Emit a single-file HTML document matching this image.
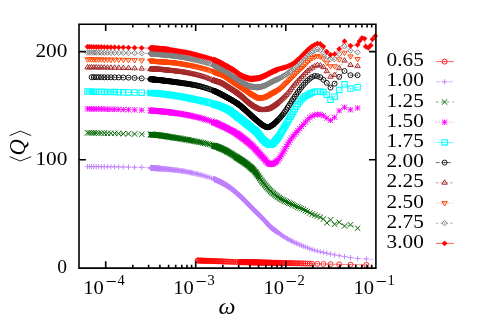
<!DOCTYPE html>
<html><head><meta charset="utf-8"><title>plot</title><style>html,body{margin:0;padding:0;background:#fff}svg{display:block}</style></head><body>
<svg width="485" height="323" viewBox="0 0 485 323">
<rect width="485" height="323" fill="#fff"/>
<defs><filter id="nf" x="0" y="0" width="485" height="323" filterUnits="userSpaceOnUse" color-interpolation-filters="sRGB"><feOffset dx="0" dy="0"/></filter><clipPath id="c"><rect x="79" y="24.2" width="296.9" height="243.9"/></clipPath></defs>
<g stroke="#ff0000" fill="none">
<path clip-path="url(#c)" d="M197.5 260.5 L198.2 260.5 L199 260.6 L199.7 260.6 L200.5 260.6 L201.3 260.6 L202.1 260.7 L202.9 260.7 L203.7 260.7 L204.6 260.7 L205.4 260.8 L206.3 260.8 L207.2 260.8 L208.2 260.9 L209.1 260.9 L210.1 260.9 L211.1 261 L212.1 261 L213.2 261 L214.3 261.1 L215.4 261.1 L216.5 261.2 L217.7 261.2 L218.9 261.3 L220.2 261.3 L221.5 261.4 L222.8 261.4 L224.2 261.5 L225.7 261.5 L227.2 261.6 L228.7 261.7 L230.4 261.7 L232.1 261.8 L233.8 261.9 L235.7 261.9 L237.6 262 L239.7 262 L240.5 262.1 L240.9 262.1 L241.3 262.1 L241.7 262.1 L242.1 262.1 L242.5 262.1 L242.9 262.1 L243.3 262.1 L243.7 262.2 L244.2 262.2 L244.6 262.2 L245 262.2 L245.5 262.2 L245.9 262.2 L246.4 262.2 L246.8 262.2 L247.3 262.2 L247.8 262.2 L248.2 262.3 L248.7 262.3 L249.2 262.3 L249.7 262.3 L250.2 262.3 L250.7 262.3 L251.2 262.3 L251.7 262.3 L252.2 262.3 L252.8 262.4 L253.3 262.4 L253.9 262.4 L254.4 262.4 L255 262.4 L255.6 262.4 L256.1 262.4 L256.7 262.4 L257.3 262.4 L257.9 262.5 L258.5 262.5 L259.2 262.5 L259.8 262.5 L260.4 262.5 L261.1 262.5 L261.8 262.5 L262.5 262.6 L263.1 262.6 L263.8 262.6 L264.6 262.6 L265.3 262.6 L266 262.6 L266.8 262.6 L267.6 262.7 L268.4 262.7 L269.2 262.7 L270 262.7 L270.8 262.7 L271.7 262.7 L272.6 262.8 L273.5 262.8 L274.4 262.8 L275.3 262.8 L276.3 262.8 L277.3 262.8 L278.3 262.9 L279.4 262.9 L280.4 262.9 L281.5 262.9 L282.7 263 L283.8 263 L285 263 L286.3 263 L287.6 263.1 L288.9 263.1 L290.3 263.1 L291.7 263.2 L293.1 263.2 L294.7 263.2 L296.3 263.3 L297.9 263.3 L299.7 263.3 L301.5 263.4 L303.4 263.4 L305.4 263.5 L307.5 263.6 L309.8 263.6 L312.1 263.7 L317.4 263.8 L323.4 264 L330.5 264.2 L339.2 264.4 L350.5 264.6 L366.4 264.9" stroke-width="0.5"/>
<path d="M238.5 260.3 L239.3 259.5 L240 259.3 L240.8 259.2 L241.5 259.2 L242.3 259.3 L243 259.3 L243.8 259.3 L244.5 259.3 L245.3 259.3 L246 259.4 L246.8 259.4 L247.5 259.4 L248.3 259.4 L249 259.4 L249.8 259.4 L250.5 259.5 L251.3 259.5 L252 259.5 L252.8 259.5 L253.5 259.5 L254.3 259.5 L255 259.5 L255.8 259.6 L256.5 259.6 L257.3 259.6 L258 259.6 L258.8 259.6 L259.5 259.6 L260.3 259.7 L261 259.7 L261.8 259.7 L262.5 259.7 L263.3 259.7 L264 259.7 L264.8 259.7 L265.5 259.8 L266.3 259.8 L267 259.8 L267.8 259.8 L268.5 259.8 L269.3 259.8 L270 259.9 L270.8 259.9 L271.5 259.9 L272.3 259.9 L273 259.9 L273.8 259.9 L274.5 259.9 L275.3 260 L276 260 L276.8 260 L277.5 260 L278.3 260.2 L279 260.7 L279 265 L278.3 265.4 L277.5 265.7 L276.8 265.7 L276 265.7 L275.3 265.7 L274.5 265.6 L273.8 265.6 L273 265.6 L272.3 265.6 L271.5 265.6 L270.8 265.6 L270 265.6 L269.3 265.5 L268.5 265.5 L267.8 265.5 L267 265.5 L266.3 265.5 L265.5 265.5 L264.8 265.4 L264 265.4 L263.3 265.4 L262.5 265.4 L261.8 265.4 L261 265.4 L260.3 265.4 L259.5 265.3 L258.8 265.3 L258 265.3 L257.3 265.3 L256.5 265.3 L255.8 265.3 L255 265.2 L254.3 265.2 L253.5 265.2 L252.8 265.2 L252 265.2 L251.3 265.2 L250.5 265.2 L249.8 265.1 L249 265.1 L248.3 265.1 L247.5 265.1 L246.8 265.1 L246 265.1 L245.3 265 L244.5 265 L243.8 265 L243 265 L242.3 265 L241.5 264.9 L240.8 264.9 L240 264.9 L239.3 264.6 L238.5 263.9Z" fill="#ff0000" stroke="none" fill-opacity="0.92"/>
<path d="M195 260.5a2.5 2.5 0 1 0 5 0a2.5 2.5 0 1 0 -5 0M195.7 260.5a2.5 2.5 0 1 0 5 0a2.5 2.5 0 1 0 -5 0M196.5 260.6a2.5 2.5 0 1 0 5 0a2.5 2.5 0 1 0 -5 0M197.2 260.6a2.5 2.5 0 1 0 5 0a2.5 2.5 0 1 0 -5 0M198 260.6a2.5 2.5 0 1 0 5 0a2.5 2.5 0 1 0 -5 0M198.8 260.6a2.5 2.5 0 1 0 5 0a2.5 2.5 0 1 0 -5 0M199.6 260.7a2.5 2.5 0 1 0 5 0a2.5 2.5 0 1 0 -5 0M200.4 260.7a2.5 2.5 0 1 0 5 0a2.5 2.5 0 1 0 -5 0M201.2 260.7a2.5 2.5 0 1 0 5 0a2.5 2.5 0 1 0 -5 0M202.1 260.7a2.5 2.5 0 1 0 5 0a2.5 2.5 0 1 0 -5 0M202.9 260.8a2.5 2.5 0 1 0 5 0a2.5 2.5 0 1 0 -5 0M203.8 260.8a2.5 2.5 0 1 0 5 0a2.5 2.5 0 1 0 -5 0M204.7 260.8a2.5 2.5 0 1 0 5 0a2.5 2.5 0 1 0 -5 0M205.7 260.9a2.5 2.5 0 1 0 5 0a2.5 2.5 0 1 0 -5 0M206.6 260.9a2.5 2.5 0 1 0 5 0a2.5 2.5 0 1 0 -5 0M207.6 260.9a2.5 2.5 0 1 0 5 0a2.5 2.5 0 1 0 -5 0M208.6 261a2.5 2.5 0 1 0 5 0a2.5 2.5 0 1 0 -5 0M209.6 261a2.5 2.5 0 1 0 5 0a2.5 2.5 0 1 0 -5 0M210.7 261a2.5 2.5 0 1 0 5 0a2.5 2.5 0 1 0 -5 0M211.8 261.1a2.5 2.5 0 1 0 5 0a2.5 2.5 0 1 0 -5 0M212.9 261.1a2.5 2.5 0 1 0 5 0a2.5 2.5 0 1 0 -5 0M214 261.2a2.5 2.5 0 1 0 5 0a2.5 2.5 0 1 0 -5 0M215.2 261.2a2.5 2.5 0 1 0 5 0a2.5 2.5 0 1 0 -5 0M216.4 261.3a2.5 2.5 0 1 0 5 0a2.5 2.5 0 1 0 -5 0M217.7 261.3a2.5 2.5 0 1 0 5 0a2.5 2.5 0 1 0 -5 0M219 261.4a2.5 2.5 0 1 0 5 0a2.5 2.5 0 1 0 -5 0M220.3 261.4a2.5 2.5 0 1 0 5 0a2.5 2.5 0 1 0 -5 0M221.7 261.5a2.5 2.5 0 1 0 5 0a2.5 2.5 0 1 0 -5 0M223.2 261.5a2.5 2.5 0 1 0 5 0a2.5 2.5 0 1 0 -5 0M224.7 261.6a2.5 2.5 0 1 0 5 0a2.5 2.5 0 1 0 -5 0M226.2 261.7a2.5 2.5 0 1 0 5 0a2.5 2.5 0 1 0 -5 0M227.9 261.7a2.5 2.5 0 1 0 5 0a2.5 2.5 0 1 0 -5 0M229.6 261.8a2.5 2.5 0 1 0 5 0a2.5 2.5 0 1 0 -5 0M231.3 261.9a2.5 2.5 0 1 0 5 0a2.5 2.5 0 1 0 -5 0M233.2 261.9a2.5 2.5 0 1 0 5 0a2.5 2.5 0 1 0 -5 0M235.1 262a2.5 2.5 0 1 0 5 0a2.5 2.5 0 1 0 -5 0M237.2 262a2.5 2.5 0 1 0 5 0a2.5 2.5 0 1 0 -5 0M238 262.1a2.5 2.5 0 1 0 5 0a2.5 2.5 0 1 0 -5 0M238.4 262.1a2.5 2.5 0 1 0 5 0a2.5 2.5 0 1 0 -5 0M238.8 262.1a2.5 2.5 0 1 0 5 0a2.5 2.5 0 1 0 -5 0M239.2 262.1a2.5 2.5 0 1 0 5 0a2.5 2.5 0 1 0 -5 0M239.6 262.1a2.5 2.5 0 1 0 5 0a2.5 2.5 0 1 0 -5 0M240 262.1a2.5 2.5 0 1 0 5 0a2.5 2.5 0 1 0 -5 0M240.4 262.1a2.5 2.5 0 1 0 5 0a2.5 2.5 0 1 0 -5 0M240.8 262.1a2.5 2.5 0 1 0 5 0a2.5 2.5 0 1 0 -5 0M241.2 262.2a2.5 2.5 0 1 0 5 0a2.5 2.5 0 1 0 -5 0M241.7 262.2a2.5 2.5 0 1 0 5 0a2.5 2.5 0 1 0 -5 0M242.1 262.2a2.5 2.5 0 1 0 5 0a2.5 2.5 0 1 0 -5 0M242.5 262.2a2.5 2.5 0 1 0 5 0a2.5 2.5 0 1 0 -5 0M243 262.2a2.5 2.5 0 1 0 5 0a2.5 2.5 0 1 0 -5 0M243.4 262.2a2.5 2.5 0 1 0 5 0a2.5 2.5 0 1 0 -5 0M243.9 262.2a2.5 2.5 0 1 0 5 0a2.5 2.5 0 1 0 -5 0M244.3 262.2a2.5 2.5 0 1 0 5 0a2.5 2.5 0 1 0 -5 0M244.8 262.2a2.5 2.5 0 1 0 5 0a2.5 2.5 0 1 0 -5 0M245.3 262.2a2.5 2.5 0 1 0 5 0a2.5 2.5 0 1 0 -5 0M245.7 262.3a2.5 2.5 0 1 0 5 0a2.5 2.5 0 1 0 -5 0M246.2 262.3a2.5 2.5 0 1 0 5 0a2.5 2.5 0 1 0 -5 0M246.7 262.3a2.5 2.5 0 1 0 5 0a2.5 2.5 0 1 0 -5 0M247.2 262.3a2.5 2.5 0 1 0 5 0a2.5 2.5 0 1 0 -5 0M247.7 262.3a2.5 2.5 0 1 0 5 0a2.5 2.5 0 1 0 -5 0M248.2 262.3a2.5 2.5 0 1 0 5 0a2.5 2.5 0 1 0 -5 0M248.7 262.3a2.5 2.5 0 1 0 5 0a2.5 2.5 0 1 0 -5 0M249.2 262.3a2.5 2.5 0 1 0 5 0a2.5 2.5 0 1 0 -5 0M249.7 262.3a2.5 2.5 0 1 0 5 0a2.5 2.5 0 1 0 -5 0M250.3 262.4a2.5 2.5 0 1 0 5 0a2.5 2.5 0 1 0 -5 0M250.8 262.4a2.5 2.5 0 1 0 5 0a2.5 2.5 0 1 0 -5 0M251.4 262.4a2.5 2.5 0 1 0 5 0a2.5 2.5 0 1 0 -5 0M251.9 262.4a2.5 2.5 0 1 0 5 0a2.5 2.5 0 1 0 -5 0M252.5 262.4a2.5 2.5 0 1 0 5 0a2.5 2.5 0 1 0 -5 0M253.1 262.4a2.5 2.5 0 1 0 5 0a2.5 2.5 0 1 0 -5 0M253.6 262.4a2.5 2.5 0 1 0 5 0a2.5 2.5 0 1 0 -5 0M254.2 262.4a2.5 2.5 0 1 0 5 0a2.5 2.5 0 1 0 -5 0M254.8 262.4a2.5 2.5 0 1 0 5 0a2.5 2.5 0 1 0 -5 0M255.4 262.5a2.5 2.5 0 1 0 5 0a2.5 2.5 0 1 0 -5 0M256 262.5a2.5 2.5 0 1 0 5 0a2.5 2.5 0 1 0 -5 0M256.7 262.5a2.5 2.5 0 1 0 5 0a2.5 2.5 0 1 0 -5 0M257.3 262.5a2.5 2.5 0 1 0 5 0a2.5 2.5 0 1 0 -5 0M257.9 262.5a2.5 2.5 0 1 0 5 0a2.5 2.5 0 1 0 -5 0M258.6 262.5a2.5 2.5 0 1 0 5 0a2.5 2.5 0 1 0 -5 0M259.3 262.5a2.5 2.5 0 1 0 5 0a2.5 2.5 0 1 0 -5 0M260 262.6a2.5 2.5 0 1 0 5 0a2.5 2.5 0 1 0 -5 0M260.6 262.6a2.5 2.5 0 1 0 5 0a2.5 2.5 0 1 0 -5 0M261.3 262.6a2.5 2.5 0 1 0 5 0a2.5 2.5 0 1 0 -5 0M262.1 262.6a2.5 2.5 0 1 0 5 0a2.5 2.5 0 1 0 -5 0M262.8 262.6a2.5 2.5 0 1 0 5 0a2.5 2.5 0 1 0 -5 0M263.5 262.6a2.5 2.5 0 1 0 5 0a2.5 2.5 0 1 0 -5 0M264.3 262.6a2.5 2.5 0 1 0 5 0a2.5 2.5 0 1 0 -5 0M265.1 262.7a2.5 2.5 0 1 0 5 0a2.5 2.5 0 1 0 -5 0M265.9 262.7a2.5 2.5 0 1 0 5 0a2.5 2.5 0 1 0 -5 0M266.7 262.7a2.5 2.5 0 1 0 5 0a2.5 2.5 0 1 0 -5 0M267.5 262.7a2.5 2.5 0 1 0 5 0a2.5 2.5 0 1 0 -5 0M268.3 262.7a2.5 2.5 0 1 0 5 0a2.5 2.5 0 1 0 -5 0M269.2 262.7a2.5 2.5 0 1 0 5 0a2.5 2.5 0 1 0 -5 0M270.1 262.8a2.5 2.5 0 1 0 5 0a2.5 2.5 0 1 0 -5 0M271 262.8a2.5 2.5 0 1 0 5 0a2.5 2.5 0 1 0 -5 0M271.9 262.8a2.5 2.5 0 1 0 5 0a2.5 2.5 0 1 0 -5 0M272.8 262.8a2.5 2.5 0 1 0 5 0a2.5 2.5 0 1 0 -5 0M273.8 262.8a2.5 2.5 0 1 0 5 0a2.5 2.5 0 1 0 -5 0M274.8 262.8a2.5 2.5 0 1 0 5 0a2.5 2.5 0 1 0 -5 0M275.8 262.9a2.5 2.5 0 1 0 5 0a2.5 2.5 0 1 0 -5 0M276.9 262.9a2.5 2.5 0 1 0 5 0a2.5 2.5 0 1 0 -5 0M277.9 262.9a2.5 2.5 0 1 0 5 0a2.5 2.5 0 1 0 -5 0M279 262.9a2.5 2.5 0 1 0 5 0a2.5 2.5 0 1 0 -5 0M280.2 263a2.5 2.5 0 1 0 5 0a2.5 2.5 0 1 0 -5 0M281.3 263a2.5 2.5 0 1 0 5 0a2.5 2.5 0 1 0 -5 0M282.5 263a2.5 2.5 0 1 0 5 0a2.5 2.5 0 1 0 -5 0M283.8 263a2.5 2.5 0 1 0 5 0a2.5 2.5 0 1 0 -5 0M285.1 263.1a2.5 2.5 0 1 0 5 0a2.5 2.5 0 1 0 -5 0M286.4 263.1a2.5 2.5 0 1 0 5 0a2.5 2.5 0 1 0 -5 0M287.8 263.1a2.5 2.5 0 1 0 5 0a2.5 2.5 0 1 0 -5 0M289.2 263.2a2.5 2.5 0 1 0 5 0a2.5 2.5 0 1 0 -5 0M290.6 263.2a2.5 2.5 0 1 0 5 0a2.5 2.5 0 1 0 -5 0M292.2 263.2a2.5 2.5 0 1 0 5 0a2.5 2.5 0 1 0 -5 0M293.8 263.3a2.5 2.5 0 1 0 5 0a2.5 2.5 0 1 0 -5 0M295.4 263.3a2.5 2.5 0 1 0 5 0a2.5 2.5 0 1 0 -5 0M297.2 263.3a2.5 2.5 0 1 0 5 0a2.5 2.5 0 1 0 -5 0M299 263.4a2.5 2.5 0 1 0 5 0a2.5 2.5 0 1 0 -5 0M300.9 263.4a2.5 2.5 0 1 0 5 0a2.5 2.5 0 1 0 -5 0M302.9 263.5a2.5 2.5 0 1 0 5 0a2.5 2.5 0 1 0 -5 0M305 263.6a2.5 2.5 0 1 0 5 0a2.5 2.5 0 1 0 -5 0M307.3 263.6a2.5 2.5 0 1 0 5 0a2.5 2.5 0 1 0 -5 0M309.6 263.7a2.5 2.5 0 1 0 5 0a2.5 2.5 0 1 0 -5 0M314.9 263.8a2.5 2.5 0 1 0 5 0a2.5 2.5 0 1 0 -5 0M320.9 264a2.5 2.5 0 1 0 5 0a2.5 2.5 0 1 0 -5 0M328 264.2a2.5 2.5 0 1 0 5 0a2.5 2.5 0 1 0 -5 0M336.7 264.4a2.5 2.5 0 1 0 5 0a2.5 2.5 0 1 0 -5 0M348 264.6a2.5 2.5 0 1 0 5 0a2.5 2.5 0 1 0 -5 0M363.9 264.9a2.5 2.5 0 1 0 5 0a2.5 2.5 0 1 0 -5 0" stroke-width="0.8"/>
<path d="M197.5 260.5h0M198.2 260.5h0M199 260.6h0M199.7 260.6h0M200.5 260.6h0M201.3 260.6h0M202.1 260.7h0M202.9 260.7h0M203.7 260.7h0M204.6 260.7h0M205.4 260.8h0M206.3 260.8h0M207.2 260.8h0M208.2 260.9h0M209.1 260.9h0M210.1 260.9h0M211.1 261h0M212.1 261h0M213.2 261h0M214.3 261.1h0M215.4 261.1h0M216.5 261.2h0M217.7 261.2h0M218.9 261.3h0M220.2 261.3h0M221.5 261.4h0M222.8 261.4h0M224.2 261.5h0M225.7 261.5h0M227.2 261.6h0M228.7 261.7h0M230.4 261.7h0M232.1 261.8h0M233.8 261.9h0M235.7 261.9h0M237.6 262h0M239.7 262h0M240.5 262.1h0M240.9 262.1h0M241.3 262.1h0M241.7 262.1h0M242.1 262.1h0M242.5 262.1h0M242.9 262.1h0M243.3 262.1h0M243.7 262.2h0M244.2 262.2h0M244.6 262.2h0M245 262.2h0M245.5 262.2h0M245.9 262.2h0M246.4 262.2h0M246.8 262.2h0M247.3 262.2h0M247.8 262.2h0M248.2 262.3h0M248.7 262.3h0M249.2 262.3h0M249.7 262.3h0M250.2 262.3h0M250.7 262.3h0M251.2 262.3h0M251.7 262.3h0M252.2 262.3h0M252.8 262.4h0M253.3 262.4h0M253.9 262.4h0M254.4 262.4h0M255 262.4h0M255.6 262.4h0M256.1 262.4h0M256.7 262.4h0M257.3 262.4h0M257.9 262.5h0M258.5 262.5h0M259.2 262.5h0M259.8 262.5h0M260.4 262.5h0M261.1 262.5h0M261.8 262.5h0M262.5 262.6h0M263.1 262.6h0M263.8 262.6h0M264.6 262.6h0M265.3 262.6h0M266 262.6h0M266.8 262.6h0M267.6 262.7h0M268.4 262.7h0M269.2 262.7h0M270 262.7h0M270.8 262.7h0M271.7 262.7h0M272.6 262.8h0M273.5 262.8h0M274.4 262.8h0M275.3 262.8h0M276.3 262.8h0M277.3 262.8h0M278.3 262.9h0M279.4 262.9h0M280.4 262.9h0M281.5 262.9h0M282.7 263h0M283.8 263h0M285 263h0M286.3 263h0M287.6 263.1h0M288.9 263.1h0M290.3 263.1h0M291.7 263.2h0M293.1 263.2h0M294.7 263.2h0M296.3 263.3h0M297.9 263.3h0M299.7 263.3h0M301.5 263.4h0M303.4 263.4h0M305.4 263.5h0M307.5 263.6h0M309.8 263.6h0M312.1 263.7h0M317.4 263.8h0M323.4 264h0M330.5 264.2h0M339.2 264.4h0M350.5 264.6h0M366.4 264.9h0" stroke-width="0.9" stroke-linecap="round"/>
</g>
<g stroke="#c080ff" fill="none">
<path clip-path="url(#c)" d="M87.5 166.6 L89.5 166.6 L91.6 166.6 L93.8 166.6 L96.2 166.6 L98.7 166.6 L101.4 166.7 L104.3 166.7 L107.5 166.7 L110.9 166.8 L114.6 166.8 L118.7 166.9 L123.3 167 L128.5 167.1 L134.6 167.2 L141.7 167.4 L150.4 167.9 L150.8 167.9 L151.2 167.9 L151.6 167.9 L152 168 L152.4 168 L152.8 168 L153.3 168 L153.7 168.1 L154.1 168.1 L154.5 168.1 L155 168.2 L155.4 168.2 L155.9 168.2 L156.3 168.3 L156.8 168.3 L157.2 168.3 L157.7 168.4 L158.2 168.4 L158.7 168.4 L159.1 168.5 L159.6 168.5 L160.1 168.6 L160.6 168.6 L161.2 168.6 L161.7 168.7 L162.2 168.7 L162.7 168.8 L163.3 168.8 L163.8 168.9 L164.4 168.9 L164.9 169 L165.5 169 L166.1 169.1 L166.7 169.1 L167.3 169.2 L167.9 169.3 L168.5 169.3 L169.1 169.4 L169.7 169.4 L170.4 169.5 L171.1 169.6 L171.7 169.7 L172.4 169.7 L173.1 169.8 L173.8 169.9 L174.5 170 L175.2 170.1 L176 170.2 L176.8 170.2 L177.5 170.3 L178.3 170.4 L179.1 170.5 L179.9 170.7 L180.8 170.8 L181.6 170.9 L182.5 171.1 L183.4 171.2 L184.3 171.4 L185.3 171.5 L186.3 171.7 L187.2 171.9 L188.3 172.1 L189.3 172.3 L190.4 172.5 L191.5 172.8 L192.6 173 L193.8 173.3 L195 173.5 L196.2 173.8 L197.5 174.1 L198.8 174.4 L200.2 174.8 L201.6 175.1 L203.1 175.5 L204.6 176 L206.2 176.4 L207.9 177 L209.6 177.5 L211.5 178.1 L213.4 178.8 L213.6 178.9 L213.8 179 L214 179.1 L214.2 179.2 L214.4 179.2 L214.6 179.3 L214.8 179.4 L215 179.5 L215.2 179.6 L215.4 179.6 L215.6 179.7 L215.8 179.8 L216 179.9 L216.2 180 L216.4 180.1 L216.6 180.2 L216.8 180.3 L217 180.4 L217.3 180.5 L217.5 180.6 L217.7 180.7 L217.9 180.8 L218.1 180.9 L218.4 181 L218.6 181.1 L218.8 181.2 L219 181.3 L219.3 181.4 L219.5 181.5 L219.7 181.6 L219.9 181.7 L220.2 181.9 L220.4 182 L220.6 182.1 L220.9 182.2 L221.1 182.3 L221.4 182.5 L221.6 182.6 L221.8 182.7 L222.1 182.8 L222.3 183 L222.6 183.1 L222.8 183.2 L223.1 183.4 L223.3 183.5 L223.6 183.6 L223.8 183.8 L224.1 183.9 L224.4 184.1 L224.6 184.2 L224.9 184.4 L225.1 184.5 L225.4 184.7 L225.7 184.8 L225.9 185 L226.2 185.2 L226.5 185.3 L226.8 185.5 L227 185.7 L227.3 185.8 L227.6 186 L227.9 186.2 L228.2 186.4 L228.4 186.5 L228.7 186.7 L229 186.9 L229.3 187.1 L229.6 187.3 L229.9 187.5 L230.2 187.8 L230.5 188 L230.8 188.2 L231.1 188.4 L231.4 188.7 L231.7 188.9 L232.1 189.2 L232.4 189.4 L232.7 189.7 L233 189.9 L233.3 190.2 L233.7 190.5 L234 190.7 L234.3 191 L234.7 191.3 L235 191.6 L235.3 191.9 L235.7 192.2 L236 192.5 L236.4 192.8 L236.7 193.1 L237.1 193.4 L237.5 193.7 L237.8 194.1 L238.2 194.4 L238.6 194.7 L238.9 195 L239.3 195.4 L239.7 195.7 L240.1 196.1 L240.5 196.4 L240.9 196.8 L241.3 197.2 L241.7 197.5 L242.1 197.9 L242.5 198.3 L242.9 198.7 L243.3 199.1 L243.7 199.5 L244.2 200 L244.6 200.4 L245 200.8 L245.5 201.3 L245.9 201.7 L246.4 202.2 L246.8 202.7 L247.3 203.2 L247.8 203.6 L248.2 204.1 L248.7 204.6 L249.2 205.1 L249.7 205.6 L250.2 206.2 L250.7 206.7 L251.2 207.2 L251.7 207.7 L252.2 208.2 L252.8 208.8 L253.3 209.3 L253.9 209.8 L254.4 210.4 L255 210.9 L255.6 211.5 L256.1 212.1 L256.7 212.6 L257.3 213.2 L257.9 213.8 L258.5 214.4 L259.2 215 L259.8 215.6 L260.4 216.3 L261.1 216.9 L261.8 217.6 L262.5 218.3 L263.1 219 L263.8 219.7 L264.6 220.5 L265.3 221.2 L266 222.1 L266.8 223 L267.6 223.9 L268.4 224.8 L269.2 225.7 L270 226.5 L270.8 227.2 L271.7 228 L272.6 228.7 L273.5 229.3 L274.4 230 L275.3 230.7 L276.3 231.4 L277.3 232.1 L278.3 232.8 L279.4 233.5 L280.4 234.3 L281.5 235 L282.7 235.8 L283.8 236.6 L285 237.3 L286.3 238.1 L287.6 238.8 L288.9 239.6 L290.3 240.3 L291.7 241 L293.1 241.8 L294.7 242.5 L296.3 243.2 L297.9 243.9 L299.7 244.7 L301.5 245.4 L303.4 246.2 L305.4 247 L307.5 247.8 L309.8 248.6 L312.1 249.5 L314.7 250.3 L317.4 251.1 L320.3 251.8 L323.4 252.5 L326.8 253.2 L330.5 254 L334.6 254.8 L339.2 255.7 L344.5 256.6 L350.5 257.6 L357.6 258.4 L366.4 258.9 L377.6 259.8" stroke-width="0.5" stroke-dasharray="4.5 1.8"/>
<path d="M148.1 167.5 L148.9 167.5 L149.6 167.5 L150.4 167.5 L151.1 164.8 L151.9 164.9 L152.6 164.9 L153.4 165 L154.1 165 L154.9 165.1 L155.6 165.2 L156.4 165.2 L157.1 165.3 L157.9 165.3 L158.6 165.4 L159.4 165.4 L160.1 165.5 L160.9 168.1 L161.6 168.1 L162.4 168.2 L162.4 168.9 L161.6 168.9 L160.9 168.9 L160.1 171.6 L159.4 171.6 L158.6 171.5 L157.9 171.4 L157.1 171.4 L156.4 171.3 L155.6 171.3 L154.9 171.2 L154.1 171.2 L153.4 171.1 L152.6 171.1 L151.9 171 L151.1 171 L150.4 168.4 L149.6 168.3 L148.9 168.3 L148.1 168.2Z" fill="#c080ff" stroke="none" fill-opacity="0.92"/>
<path d="M210.9 178.6 L211.6 178.6 L212.4 178.6 L213.1 178.6 L213.9 175.9 L214.6 176.2 L215.4 176.5 L216.1 176.9 L216.9 177.2 L217.6 177.5 L218.4 177.9 L219.1 178.2 L219.9 178.6 L220.6 178.9 L221.4 179.3 L222.1 179.7 L222.9 180.1 L223.6 180.5 L224.4 180.9 L225.1 181.4 L225.9 181.8 L226.6 182.3 L227.4 182.7 L228.1 183.2 L228.9 183.7 L229.6 184.2 L230.4 184.7 L231.1 185.3 L231.9 185.9 L232.6 186.4 L233.4 187 L234.1 187.7 L234.9 188.3 L235.6 188.9 L236.4 189.6 L237.1 190.3 L237.9 190.9 L238.6 191.6 L239.4 192.3 L240.1 192.9 L240.9 193.6 L241.6 194.3 L242.4 195 L243.1 195.7 L243.9 196.5 L244.6 197.2 L245.4 198 L246.1 198.8 L246.9 199.5 L247.6 200.3 L248.4 201.1 L249.1 201.9 L249.9 202.6 L250.6 203.4 L251.4 204.2 L252.1 204.9 L252.9 205.7 L253.6 206.4 L254.4 207.1 L255.1 207.9 L255.9 208.6 L256.6 209.3 L257.4 210.1 L258.1 210.8 L258.9 211.5 L259.6 212.3 L260.4 213 L261.1 213.7 L261.9 214.5 L262.6 215.2 L263.4 216 L264.1 216.8 L264.9 217.6 L265.6 218.4 L266.4 219.2 L267.1 219.9 L267.9 220.7 L268.6 221.6 L269.4 222.5 L270.1 223.4 L270.9 224.1 L271.6 224.7 L272.4 225.3 L273.1 225.9 L273.9 226.5 L274.6 227 L275.4 227.5 L276.1 228.1 L276.9 228.6 L277.6 230 L278.4 230.6 L279.1 231.1 L279.9 231.6 L279.9 232.4 L279.1 232.4 L278.4 232.4 L277.6 232.4 L276.9 234.9 L276.1 234.4 L275.4 233.8 L274.6 233.3 L273.9 232.8 L273.1 232.2 L272.4 231.6 L271.6 231 L270.9 230.4 L270.1 229.8 L269.4 229.1 L268.6 228.3 L267.9 227.4 L267.1 226.7 L266.4 225.9 L265.6 225.1 L264.9 224.2 L264.1 223.3 L263.4 222.5 L262.6 221.6 L261.9 220.9 L261.1 220.1 L260.4 219.4 L259.6 218.6 L258.9 217.9 L258.1 217.2 L257.4 216.4 L256.6 215.7 L255.9 215 L255.1 214.2 L254.4 213.5 L253.6 212.8 L252.9 212 L252.1 211.3 L251.4 210.5 L250.6 209.8 L249.9 209 L249.1 208.2 L248.4 207.5 L247.6 206.7 L246.9 205.9 L246.1 205.1 L245.4 204.4 L244.6 203.6 L243.9 202.8 L243.1 202.1 L242.4 201.4 L241.6 200.7 L240.9 200 L240.1 199.3 L239.4 198.6 L238.6 197.9 L237.9 197.3 L237.1 196.6 L236.4 195.9 L235.6 195.3 L234.9 194.6 L234.1 194 L233.4 193.4 L232.6 192.8 L231.9 192.2 L231.1 191.6 L230.4 191 L229.6 190.5 L228.9 190 L228.1 189.5 L227.4 189 L226.6 188.5 L225.9 188.1 L225.1 187.6 L224.4 187.2 L223.6 186.8 L222.9 186.4 L222.1 186 L221.4 185.6 L220.6 185.2 L219.9 184.8 L219.1 184.4 L218.4 184.1 L217.6 183.7 L216.9 183.4 L216.1 183.1 L215.4 182.8 L214.6 182.4 L213.9 182.1 L213.1 180.2 L212.4 179.9 L211.6 179.6 L210.9 179.3Z" fill="#c080ff" stroke="none" fill-opacity="0.92"/>
<path d="M84.8 166.6h5.4M87.5 163.9v5.4M86.8 166.6h5.4M89.5 163.9v5.4M88.9 166.6h5.4M91.6 163.9v5.4M91.1 166.6h5.4M93.8 163.9v5.4M93.5 166.6h5.4M96.2 163.9v5.4M96 166.6h5.4M98.7 163.9v5.4M98.7 166.7h5.4M101.4 164v5.4M101.6 166.7h5.4M104.3 164v5.4M104.8 166.7h5.4M107.5 164v5.4M108.2 166.8h5.4M110.9 164.1v5.4M111.9 166.8h5.4M114.6 164.1v5.4M116 166.9h5.4M118.7 164.2v5.4M120.6 167h5.4M123.3 164.3v5.4M125.8 167.1h5.4M128.5 164.4v5.4M131.9 167.2h5.4M134.6 164.5v5.4M139 167.4h5.4M141.7 164.7v5.4M147.7 167.9h5.4M150.4 165.2v5.4M148.1 167.9h5.4M150.8 165.2v5.4M148.5 167.9h5.4M151.2 165.2v5.4M148.9 167.9h5.4M151.6 165.2v5.4M149.3 168h5.4M152 165.3v5.4M149.7 168h5.4M152.4 165.3v5.4M150.1 168h5.4M152.8 165.3v5.4M150.6 168h5.4M153.3 165.3v5.4M151 168.1h5.4M153.7 165.4v5.4M151.4 168.1h5.4M154.1 165.4v5.4M151.8 168.1h5.4M154.5 165.4v5.4M152.3 168.2h5.4M155 165.5v5.4M152.7 168.2h5.4M155.4 165.5v5.4M153.2 168.2h5.4M155.9 165.5v5.4M153.6 168.3h5.4M156.3 165.6v5.4M154.1 168.3h5.4M156.8 165.6v5.4M154.5 168.3h5.4M157.2 165.6v5.4M155 168.4h5.4M157.7 165.7v5.4M155.5 168.4h5.4M158.2 165.7v5.4M156 168.4h5.4M158.7 165.7v5.4M156.4 168.5h5.4M159.1 165.8v5.4M156.9 168.5h5.4M159.6 165.8v5.4M157.4 168.6h5.4M160.1 165.9v5.4M157.9 168.6h5.4M160.6 165.9v5.4M158.5 168.6h5.4M161.2 165.9v5.4M159 168.7h5.4M161.7 166v5.4M159.5 168.7h5.4M162.2 166v5.4M160 168.8h5.4M162.7 166.1v5.4M160.6 168.8h5.4M163.3 166.1v5.4M161.1 168.9h5.4M163.8 166.2v5.4M161.7 168.9h5.4M164.4 166.2v5.4M162.2 169h5.4M164.9 166.3v5.4M162.8 169h5.4M165.5 166.3v5.4M163.4 169.1h5.4M166.1 166.4v5.4M164 169.1h5.4M166.7 166.4v5.4M164.6 169.2h5.4M167.3 166.5v5.4M165.2 169.3h5.4M167.9 166.6v5.4M165.8 169.3h5.4M168.5 166.6v5.4M166.4 169.4h5.4M169.1 166.7v5.4M167 169.4h5.4M169.7 166.7v5.4M167.7 169.5h5.4M170.4 166.8v5.4M168.4 169.6h5.4M171.1 166.9v5.4M169 169.7h5.4M171.7 167v5.4M169.7 169.7h5.4M172.4 167v5.4M170.4 169.8h5.4M173.1 167.1v5.4M171.1 169.9h5.4M173.8 167.2v5.4M171.8 170h5.4M174.5 167.3v5.4M172.5 170.1h5.4M175.2 167.4v5.4M173.3 170.2h5.4M176 167.5v5.4M174.1 170.2h5.4M176.8 167.5v5.4M174.8 170.3h5.4M177.5 167.6v5.4M175.6 170.4h5.4M178.3 167.7v5.4M176.4 170.5h5.4M179.1 167.8v5.4M177.2 170.7h5.4M179.9 168v5.4M178.1 170.8h5.4M180.8 168.1v5.4M178.9 170.9h5.4M181.6 168.2v5.4M179.8 171.1h5.4M182.5 168.4v5.4M180.7 171.2h5.4M183.4 168.5v5.4M181.6 171.4h5.4M184.3 168.7v5.4M182.6 171.5h5.4M185.3 168.8v5.4M183.6 171.7h5.4M186.3 169v5.4M184.5 171.9h5.4M187.2 169.2v5.4M185.6 172.1h5.4M188.3 169.4v5.4M186.6 172.3h5.4M189.3 169.6v5.4M187.7 172.5h5.4M190.4 169.8v5.4M188.8 172.8h5.4M191.5 170.1v5.4M189.9 173h5.4M192.6 170.3v5.4M191.1 173.3h5.4M193.8 170.6v5.4M192.3 173.5h5.4M195 170.8v5.4M193.5 173.8h5.4M196.2 171.1v5.4M194.8 174.1h5.4M197.5 171.4v5.4M196.1 174.4h5.4M198.8 171.7v5.4M197.5 174.8h5.4M200.2 172.1v5.4M198.9 175.1h5.4M201.6 172.4v5.4M200.4 175.5h5.4M203.1 172.8v5.4M201.9 176h5.4M204.6 173.3v5.4M203.5 176.4h5.4M206.2 173.7v5.4M205.2 177h5.4M207.9 174.3v5.4M206.9 177.5h5.4M209.6 174.8v5.4M208.8 178.1h5.4M211.5 175.4v5.4M210.7 178.8h5.4M213.4 176.1v5.4M211.1 179h5.4M213.8 176.3v5.4M211.5 179.2h5.4M214.2 176.5v5.4M211.9 179.3h5.4M214.6 176.6v5.4M212.3 179.5h5.4M215 176.8v5.4M212.7 179.6h5.4M215.4 176.9v5.4M213.1 179.8h5.4M215.8 177.1v5.4M213.5 180h5.4M216.2 177.3v5.4M213.9 180.2h5.4M216.6 177.5v5.4M214.3 180.4h5.4M217 177.7v5.4M214.8 180.6h5.4M217.5 177.9v5.4M215.2 180.8h5.4M217.9 178.1v5.4M215.7 181h5.4M218.4 178.3v5.4M216.1 181.2h5.4M218.8 178.5v5.4M216.6 181.4h5.4M219.3 178.7v5.4M217 181.6h5.4M219.7 178.9v5.4M217.5 181.9h5.4M220.2 179.2v5.4M217.9 182.1h5.4M220.6 179.4v5.4M218.4 182.3h5.4M221.1 179.6v5.4M218.9 182.6h5.4M221.6 179.9v5.4M219.4 182.8h5.4M222.1 180.1v5.4M219.9 183.1h5.4M222.6 180.4v5.4M220.4 183.4h5.4M223.1 180.7v5.4M220.9 183.6h5.4M223.6 180.9v5.4M221.4 183.9h5.4M224.1 181.2v5.4M221.9 184.2h5.4M224.6 181.5v5.4M222.4 184.5h5.4M225.1 181.8v5.4M223 184.8h5.4M225.7 182.1v5.4M223.5 185.2h5.4M226.2 182.5v5.4M224.1 185.5h5.4M226.8 182.8v5.4M224.6 185.8h5.4M227.3 183.1v5.4M225.2 186.2h5.4M227.9 183.5v5.4M225.7 186.5h5.4M228.4 183.8v5.4M226.3 186.9h5.4M229 184.2v5.4M226.9 187.3h5.4M229.6 184.6v5.4M227.5 187.8h5.4M230.2 185.1v5.4M228.1 188.2h5.4M230.8 185.5v5.4M228.7 188.7h5.4M231.4 186v5.4M229.4 189.2h5.4M232.1 186.5v5.4M230 189.7h5.4M232.7 187v5.4M230.6 190.2h5.4M233.3 187.5v5.4M231.3 190.7h5.4M234 188v5.4M232 191.3h5.4M234.7 188.6v5.4M232.6 191.9h5.4M235.3 189.2v5.4M233.3 192.5h5.4M236 189.8v5.4M233.7 192.8h5.4M236.4 190.1v5.4M234 193.1h5.4M236.7 190.4v5.4M234.4 193.4h5.4M237.1 190.7v5.4M234.8 193.7h5.4M237.5 191v5.4M235.1 194.1h5.4M237.8 191.4v5.4M235.5 194.4h5.4M238.2 191.7v5.4M235.9 194.7h5.4M238.6 192v5.4M236.2 195h5.4M238.9 192.3v5.4M236.6 195.4h5.4M239.3 192.7v5.4M237 195.7h5.4M239.7 193v5.4M237.4 196.1h5.4M240.1 193.4v5.4M237.8 196.4h5.4M240.5 193.7v5.4M238.2 196.8h5.4M240.9 194.1v5.4M238.6 197.2h5.4M241.3 194.5v5.4M239 197.5h5.4M241.7 194.8v5.4M239.4 197.9h5.4M242.1 195.2v5.4M239.8 198.3h5.4M242.5 195.6v5.4M240.2 198.7h5.4M242.9 196v5.4M240.6 199.1h5.4M243.3 196.4v5.4M241 199.5h5.4M243.7 196.8v5.4M241.5 200h5.4M244.2 197.3v5.4M241.9 200.4h5.4M244.6 197.7v5.4M242.3 200.8h5.4M245 198.1v5.4M242.8 201.3h5.4M245.5 198.6v5.4M243.2 201.7h5.4M245.9 199v5.4M243.7 202.2h5.4M246.4 199.5v5.4M244.1 202.7h5.4M246.8 200v5.4M244.6 203.2h5.4M247.3 200.5v5.4M245.1 203.6h5.4M247.8 200.9v5.4M245.5 204.1h5.4M248.2 201.4v5.4M246 204.6h5.4M248.7 201.9v5.4M246.5 205.1h5.4M249.2 202.4v5.4M247 205.6h5.4M249.7 202.9v5.4M247.5 206.2h5.4M250.2 203.5v5.4M248 206.7h5.4M250.7 204v5.4M248.5 207.2h5.4M251.2 204.5v5.4M249 207.7h5.4M251.7 205v5.4M249.5 208.2h5.4M252.2 205.5v5.4M250.1 208.8h5.4M252.8 206.1v5.4M250.6 209.3h5.4M253.3 206.6v5.4M251.2 209.8h5.4M253.9 207.1v5.4M251.7 210.4h5.4M254.4 207.7v5.4M252.3 210.9h5.4M255 208.2v5.4M252.9 211.5h5.4M255.6 208.8v5.4M253.4 212.1h5.4M256.1 209.4v5.4M254 212.6h5.4M256.7 209.9v5.4M254.6 213.2h5.4M257.3 210.5v5.4M255.2 213.8h5.4M257.9 211.1v5.4M255.8 214.4h5.4M258.5 211.7v5.4M256.5 215h5.4M259.2 212.3v5.4M257.1 215.6h5.4M259.8 212.9v5.4M257.7 216.3h5.4M260.4 213.6v5.4M258.4 216.9h5.4M261.1 214.2v5.4M259.1 217.6h5.4M261.8 214.9v5.4M259.8 218.3h5.4M262.5 215.6v5.4M260.4 219h5.4M263.1 216.3v5.4M261.1 219.7h5.4M263.8 217v5.4M261.9 220.5h5.4M264.6 217.8v5.4M262.6 221.2h5.4M265.3 218.5v5.4M263.3 222.1h5.4M266 219.4v5.4M264.1 223h5.4M266.8 220.3v5.4M264.9 223.9h5.4M267.6 221.2v5.4M265.7 224.8h5.4M268.4 222.1v5.4M266.5 225.7h5.4M269.2 223v5.4M267.3 226.5h5.4M270 223.8v5.4M268.1 227.2h5.4M270.8 224.5v5.4M269 228h5.4M271.7 225.3v5.4M269.9 228.7h5.4M272.6 226v5.4M270.8 229.3h5.4M273.5 226.6v5.4M271.7 230h5.4M274.4 227.3v5.4M272.6 230.7h5.4M275.3 228v5.4M273.6 231.4h5.4M276.3 228.7v5.4M274.6 232.1h5.4M277.3 229.4v5.4M275.6 232.8h5.4M278.3 230.1v5.4M276.7 233.5h5.4M279.4 230.8v5.4M277.7 234.3h5.4M280.4 231.6v5.4M278.8 235h5.4M281.5 232.3v5.4M280 235.8h5.4M282.7 233.1v5.4M281.1 236.6h5.4M283.8 233.9v5.4M282.3 237.3h5.4M285 234.6v5.4M283.6 238.1h5.4M286.3 235.4v5.4M284.9 238.8h5.4M287.6 236.1v5.4M286.2 239.6h5.4M288.9 236.9v5.4M287.6 240.3h5.4M290.3 237.6v5.4M289 241h5.4M291.7 238.3v5.4M290.4 241.8h5.4M293.1 239.1v5.4M292 242.5h5.4M294.7 239.8v5.4M293.6 243.2h5.4M296.3 240.5v5.4M295.2 243.9h5.4M297.9 241.2v5.4M297 244.7h5.4M299.7 242v5.4M298.8 245.4h5.4M301.5 242.7v5.4M300.7 246.2h5.4M303.4 243.5v5.4M302.7 247h5.4M305.4 244.3v5.4M304.8 247.8h5.4M307.5 245.1v5.4M307.1 248.6h5.4M309.8 245.9v5.4M309.4 249.5h5.4M312.1 246.8v5.4M312 250.3h5.4M314.7 247.6v5.4M314.7 251.1h5.4M317.4 248.4v5.4M317.6 251.8h5.4M320.3 249.1v5.4M320.7 252.5h5.4M323.4 249.8v5.4M324.1 253.2h5.4M326.8 250.5v5.4M327.8 254h5.4M330.5 251.3v5.4M331.9 254.8h5.4M334.6 252.1v5.4M336.5 255.7h5.4M339.2 253v5.4M341.8 256.6h5.4M344.5 253.9v5.4M347.8 257.6h5.4M350.5 254.9v5.4M354.9 258.4h5.4M357.6 255.7v5.4M363.7 258.9h5.4M366.4 256.2v5.4" stroke-width="0.9"/>
</g>
<g stroke="#006400" fill="none">
<path clip-path="url(#c)" d="M87.5 132.8 L89.5 132.9 L91.6 132.9 L93.8 132.9 L96.2 133 L98.7 133.1 L101.4 133.1 L104.3 133.2 L107.5 133.3 L110.9 133.3 L114.6 133.4 L118.7 133.5 L123.3 133.7 L128.5 133.8 L134.6 134 L141.7 134.2 L150.4 134.5 L150.8 134.5 L151.2 134.5 L151.6 134.6 L152 134.6 L152.4 134.6 L152.8 134.7 L153.3 134.7 L153.7 134.7 L154.1 134.8 L154.5 134.8 L155 134.8 L155.4 134.9 L155.9 134.9 L156.3 135 L156.8 135 L157.2 135.1 L157.7 135.1 L158.2 135.2 L158.7 135.3 L159.1 135.3 L159.6 135.4 L160.1 135.4 L160.6 135.5 L161.2 135.6 L161.7 135.7 L162.2 135.7 L162.7 135.8 L163.3 135.9 L163.8 136 L164.4 136 L164.9 136.1 L165.5 136.2 L166.1 136.3 L166.7 136.4 L167.3 136.5 L167.9 136.6 L168.5 136.7 L169.1 136.8 L169.7 136.9 L170.4 137 L171.1 137.1 L171.7 137.2 L172.4 137.4 L173.1 137.5 L173.8 137.6 L174.5 137.7 L175.2 137.8 L176 137.9 L176.8 138.1 L177.5 138.2 L178.3 138.3 L179.1 138.4 L179.9 138.6 L180.8 138.7 L181.6 138.9 L182.5 139 L183.4 139.2 L184.3 139.3 L185.3 139.5 L186.3 139.6 L187.2 139.8 L188.3 140 L189.3 140.2 L190.4 140.4 L191.5 140.6 L192.6 140.8 L193.8 141 L195 141.3 L196.2 141.5 L197.5 141.8 L198.8 142.1 L200.2 142.3 L201.6 142.6 L203.1 142.9 L204.6 143.3 L206.2 143.6 L207.9 144 L209.6 144.4 L211.5 144.9 L213.4 145.5 L213.6 145.6 L213.8 145.6 L214 145.7 L214.2 145.8 L214.4 145.8 L214.6 145.9 L214.8 146 L215 146 L215.2 146.1 L215.4 146.2 L215.6 146.3 L215.8 146.3 L216 146.4 L216.2 146.5 L216.4 146.6 L216.6 146.6 L216.8 146.7 L217 146.8 L217.3 146.9 L217.5 147 L217.7 147 L217.9 147.1 L218.1 147.2 L218.4 147.3 L218.6 147.4 L218.8 147.5 L219 147.6 L219.3 147.7 L219.5 147.8 L219.7 147.9 L219.9 148 L220.2 148.1 L220.4 148.2 L220.6 148.3 L220.9 148.4 L221.1 148.5 L221.4 148.6 L221.6 148.7 L221.8 148.8 L222.1 148.9 L222.3 149 L222.6 149.1 L222.8 149.2 L223.1 149.3 L223.3 149.5 L223.6 149.6 L223.8 149.7 L224.1 149.8 L224.4 149.9 L224.6 150.1 L224.9 150.2 L225.1 150.3 L225.4 150.5 L225.7 150.6 L225.9 150.8 L226.2 150.9 L226.5 151 L226.8 151.2 L227 151.3 L227.3 151.5 L227.6 151.7 L227.9 151.8 L228.2 152 L228.4 152.1 L228.7 152.3 L229 152.5 L229.3 152.7 L229.6 152.8 L229.9 153 L230.2 153.2 L230.5 153.4 L230.8 153.6 L231.1 153.7 L231.4 153.9 L231.7 154.1 L232.1 154.3 L232.4 154.5 L232.7 154.7 L233 154.9 L233.3 155.1 L233.7 155.4 L234 155.6 L234.3 155.8 L234.7 156 L235 156.2 L235.3 156.4 L235.7 156.7 L236 156.9 L236.4 157.1 L236.7 157.4 L237.1 157.6 L237.5 157.8 L237.8 158.1 L238.2 158.3 L238.6 158.6 L238.9 158.8 L239.3 159.1 L239.7 159.3 L240.1 159.6 L240.5 159.8 L240.9 160.1 L241.3 160.4 L241.7 160.6 L242.1 160.9 L242.5 161.2 L242.9 161.4 L243.3 161.7 L243.7 162 L244.2 162.3 L244.6 162.6 L245 162.9 L245.5 163.2 L245.9 163.6 L246.4 163.9 L246.8 164.2 L247.3 164.6 L247.8 165 L248.2 165.3 L248.7 165.7 L249.2 166.1 L249.7 166.5 L250.2 166.9 L250.7 167.4 L251.2 167.8 L251.7 168.3 L252.2 168.8 L252.8 169.3 L253.3 169.8 L253.9 170.4 L254.4 171 L255 171.7 L255.6 172.4 L256.1 173.2 L256.7 173.9 L257.3 174.8 L257.9 175.6 L258.5 176.5 L259.2 177.4 L259.8 178.3 L260.4 179.2 L261.1 180.1 L261.8 181 L262.5 181.9 L263.1 182.7 L263.8 183.6 L264.6 184.5 L265.3 185.3 L266 186.2 L266.8 187.1 L267.6 187.9 L268.4 188.8 L269.2 189.6 L270 190.5 L270.8 191.3 L271.7 192.1 L272.6 192.9 L273.5 193.6 L274.4 194.4 L275.3 195.1 L276.3 195.9 L277.3 196.6 L278.3 197.3 L279.4 198 L280.4 198.6 L281.5 199.3 L282.7 199.9 L283.8 200.5 L285 201.1 L286.3 201.7 L287.6 202.4 L288.9 203 L290.3 203.6 L291.7 204.3 L293.1 205 L294.7 205.7 L296.3 206.4 L297.9 207.1 L299.7 207.9 L301.5 208.7 L303.4 209.5 L305.4 210.5 L307.5 211.6 L309.8 212.9 L312.1 214.1 L314.7 215.1 L317.4 216.1 L320.3 217.2 L323.4 219 L326.8 222.9 L330.5 219.8 L334.6 224.2 L339.2 222.3 L344.5 226 L350.5 224.8 L357.6 228.2" stroke-width="0.5" stroke-dasharray="2.3 3.2"/>
<path d="M148.9 133.1 L149.6 132.2 L150.4 131.9 L151.1 131.9 L151.9 131.9 L152.6 132 L153.4 132 L154.1 132.1 L154.9 132.2 L155.6 132.2 L156.4 132.3 L157.1 132.4 L157.9 132.5 L158.6 132.6 L159.4 132.7 L160.1 132.8 L160.9 132.9 L161.6 133 L162.4 133.1 L163.1 133.2 L163.9 133.3 L164.6 133.4 L165.4 133.5 L166.1 133.6 L166.9 133.8 L167.6 133.9 L168.4 134 L169.1 134.1 L169.9 134.6 L170.6 135.6 L170.6 137.8 L169.9 138.8 L169.1 139.2 L168.4 139.3 L167.6 139.2 L166.9 139.1 L166.1 139 L165.4 138.9 L164.6 138.8 L163.9 138.6 L163.1 138.5 L162.4 138.4 L161.6 138.3 L160.9 138.2 L160.1 138.1 L159.4 138 L158.6 137.9 L157.9 137.8 L157.1 137.7 L156.4 137.6 L155.6 137.6 L154.9 137.5 L154.1 137.4 L153.4 137.4 L152.6 137.3 L151.9 137.2 L151.1 137.2 L150.4 137.1 L149.6 136.8 L148.9 136Z" fill="#006400" stroke="none" fill-opacity="0.92"/>
<path d="M211.6 144.2 L212.4 143.3 L213.1 143 L213.9 142.9 L214.6 143.1 L215.4 143.4 L216.1 143.7 L216.9 143.9 L217.6 144.2 L218.4 144.5 L219.1 144.8 L219.9 145.1 L220.6 145.4 L221.4 145.7 L222.1 146 L222.9 146.4 L223.6 146.7 L224.4 147 L225.1 147.4 L225.9 147.8 L226.6 148.2 L227.4 148.6 L228.1 149 L228.9 149.4 L229.6 149.8 L230.4 150.2 L231.1 150.7 L231.9 151.1 L232.6 151.6 L233.4 152.1 L234.1 152.6 L234.9 153 L235.6 153.5 L236.4 154 L237.1 154.5 L237.9 155 L238.6 155.5 L239.4 156 L240.1 156.5 L240.9 157 L241.6 157.5 L242.4 158 L243.1 158.5 L243.9 159 L244.6 159.5 L245.4 160 L246.1 160.5 L246.9 161.1 L247.6 161.6 L248.4 162.2 L249.1 162.7 L249.9 163.3 L250.6 163.9 L251.4 164.6 L252.1 165.2 L252.9 165.9 L253.6 166.6 L254.4 167.3 L255.1 168 L255.9 168.8 L256.6 169.7 L257.4 170.6 L258.1 171.6 L258.9 172.6 L259.6 173.7 L260.4 174.7 L260.4 178 L259.6 178.9 L258.9 179 L258.1 179.1 L257.4 178.7 L256.6 178.1 L255.9 177 L255.1 176 L254.4 175 L253.6 174 L252.9 173.1 L252.1 172.2 L251.4 171.5 L250.6 170.7 L249.9 170.1 L249.1 169.4 L248.4 168.7 L247.6 168.1 L246.9 167.5 L246.1 166.9 L245.4 166.4 L244.6 165.8 L243.9 165.3 L243.1 164.7 L242.4 164.2 L241.6 163.7 L240.9 163.2 L240.1 162.7 L239.4 162.2 L238.6 161.7 L237.9 161.2 L237.1 160.7 L236.4 160.2 L235.6 159.7 L234.9 159.2 L234.1 158.7 L233.4 158.2 L232.6 157.8 L231.9 157.3 L231.1 156.8 L230.4 156.3 L229.6 155.9 L228.9 155.4 L228.1 155 L227.4 154.5 L226.6 154.1 L225.9 153.7 L225.1 153.3 L224.4 152.9 L223.6 152.5 L222.9 152.1 L222.1 151.8 L221.4 151.4 L220.6 151.1 L219.9 150.8 L219.1 150.4 L218.4 150.1 L217.6 149.8 L216.9 149.5 L216.1 149.2 L215.4 149 L214.6 148.7 L213.9 148.4 L213.1 148.2 L212.4 147.9 L211.6 147Z" fill="#006400" stroke="none" fill-opacity="0.92"/>
<path d="M84.8 130.1l5.4 5.4M84.8 135.5l5.4 -5.4M86.8 130.2l5.4 5.4M86.8 135.6l5.4 -5.4M88.9 130.2l5.4 5.4M88.9 135.6l5.4 -5.4M91.1 130.2l5.4 5.4M91.1 135.6l5.4 -5.4M93.5 130.3l5.4 5.4M93.5 135.7l5.4 -5.4M96 130.4l5.4 5.4M96 135.8l5.4 -5.4M98.7 130.4l5.4 5.4M98.7 135.8l5.4 -5.4M101.6 130.5l5.4 5.4M101.6 135.9l5.4 -5.4M104.8 130.6l5.4 5.4M104.8 136l5.4 -5.4M108.2 130.6l5.4 5.4M108.2 136l5.4 -5.4M111.9 130.7l5.4 5.4M111.9 136.1l5.4 -5.4M116 130.8l5.4 5.4M116 136.2l5.4 -5.4M120.6 131l5.4 5.4M120.6 136.4l5.4 -5.4M125.8 131.1l5.4 5.4M125.8 136.5l5.4 -5.4M131.9 131.3l5.4 5.4M131.9 136.7l5.4 -5.4M139 131.5l5.4 5.4M139 136.9l5.4 -5.4M147.7 131.8l5.4 5.4M147.7 137.2l5.4 -5.4M148.1 131.8l5.4 5.4M148.1 137.2l5.4 -5.4M148.5 131.8l5.4 5.4M148.5 137.2l5.4 -5.4M148.9 131.9l5.4 5.4M148.9 137.3l5.4 -5.4M149.3 131.9l5.4 5.4M149.3 137.3l5.4 -5.4M149.7 131.9l5.4 5.4M149.7 137.3l5.4 -5.4M150.1 132l5.4 5.4M150.1 137.4l5.4 -5.4M150.6 132l5.4 5.4M150.6 137.4l5.4 -5.4M151 132l5.4 5.4M151 137.4l5.4 -5.4M151.4 132.1l5.4 5.4M151.4 137.5l5.4 -5.4M151.8 132.1l5.4 5.4M151.8 137.5l5.4 -5.4M152.3 132.1l5.4 5.4M152.3 137.5l5.4 -5.4M152.7 132.2l5.4 5.4M152.7 137.6l5.4 -5.4M153.2 132.2l5.4 5.4M153.2 137.6l5.4 -5.4M153.6 132.3l5.4 5.4M153.6 137.7l5.4 -5.4M154.1 132.3l5.4 5.4M154.1 137.7l5.4 -5.4M154.5 132.4l5.4 5.4M154.5 137.8l5.4 -5.4M155 132.4l5.4 5.4M155 137.8l5.4 -5.4M155.5 132.5l5.4 5.4M155.5 137.9l5.4 -5.4M156 132.6l5.4 5.4M156 138l5.4 -5.4M156.4 132.6l5.4 5.4M156.4 138l5.4 -5.4M156.9 132.7l5.4 5.4M156.9 138.1l5.4 -5.4M157.4 132.7l5.4 5.4M157.4 138.1l5.4 -5.4M157.9 132.8l5.4 5.4M157.9 138.2l5.4 -5.4M158.5 132.9l5.4 5.4M158.5 138.3l5.4 -5.4M159 133l5.4 5.4M159 138.4l5.4 -5.4M159.5 133l5.4 5.4M159.5 138.4l5.4 -5.4M160 133.1l5.4 5.4M160 138.5l5.4 -5.4M160.6 133.2l5.4 5.4M160.6 138.6l5.4 -5.4M161.1 133.3l5.4 5.4M161.1 138.7l5.4 -5.4M161.7 133.3l5.4 5.4M161.7 138.7l5.4 -5.4M162.2 133.4l5.4 5.4M162.2 138.8l5.4 -5.4M162.8 133.5l5.4 5.4M162.8 138.9l5.4 -5.4M163.4 133.6l5.4 5.4M163.4 139l5.4 -5.4M164 133.7l5.4 5.4M164 139.1l5.4 -5.4M164.6 133.8l5.4 5.4M164.6 139.2l5.4 -5.4M165.2 133.9l5.4 5.4M165.2 139.3l5.4 -5.4M165.8 134l5.4 5.4M165.8 139.4l5.4 -5.4M166.4 134.1l5.4 5.4M166.4 139.5l5.4 -5.4M167 134.2l5.4 5.4M167 139.6l5.4 -5.4M167.7 134.3l5.4 5.4M167.7 139.7l5.4 -5.4M168.4 134.4l5.4 5.4M168.4 139.8l5.4 -5.4M169 134.5l5.4 5.4M169 139.9l5.4 -5.4M169.7 134.7l5.4 5.4M169.7 140.1l5.4 -5.4M170.4 134.8l5.4 5.4M170.4 140.2l5.4 -5.4M171.1 134.9l5.4 5.4M171.1 140.3l5.4 -5.4M171.8 135l5.4 5.4M171.8 140.4l5.4 -5.4M172.5 135.1l5.4 5.4M172.5 140.5l5.4 -5.4M173.3 135.2l5.4 5.4M173.3 140.6l5.4 -5.4M174.1 135.4l5.4 5.4M174.1 140.8l5.4 -5.4M174.8 135.5l5.4 5.4M174.8 140.9l5.4 -5.4M175.6 135.6l5.4 5.4M175.6 141l5.4 -5.4M176.4 135.7l5.4 5.4M176.4 141.1l5.4 -5.4M177.2 135.9l5.4 5.4M177.2 141.3l5.4 -5.4M178.1 136l5.4 5.4M178.1 141.4l5.4 -5.4M178.9 136.2l5.4 5.4M178.9 141.6l5.4 -5.4M179.8 136.3l5.4 5.4M179.8 141.7l5.4 -5.4M180.7 136.5l5.4 5.4M180.7 141.9l5.4 -5.4M181.6 136.6l5.4 5.4M181.6 142l5.4 -5.4M182.6 136.8l5.4 5.4M182.6 142.2l5.4 -5.4M183.6 136.9l5.4 5.4M183.6 142.3l5.4 -5.4M184.5 137.1l5.4 5.4M184.5 142.5l5.4 -5.4M185.6 137.3l5.4 5.4M185.6 142.7l5.4 -5.4M186.6 137.5l5.4 5.4M186.6 142.9l5.4 -5.4M187.7 137.7l5.4 5.4M187.7 143.1l5.4 -5.4M188.8 137.9l5.4 5.4M188.8 143.3l5.4 -5.4M189.9 138.1l5.4 5.4M189.9 143.5l5.4 -5.4M191.1 138.3l5.4 5.4M191.1 143.7l5.4 -5.4M192.3 138.6l5.4 5.4M192.3 144l5.4 -5.4M193.5 138.8l5.4 5.4M193.5 144.2l5.4 -5.4M194.8 139.1l5.4 5.4M194.8 144.5l5.4 -5.4M196.1 139.4l5.4 5.4M196.1 144.8l5.4 -5.4M197.5 139.6l5.4 5.4M197.5 145l5.4 -5.4M198.9 139.9l5.4 5.4M198.9 145.3l5.4 -5.4M200.4 140.2l5.4 5.4M200.4 145.6l5.4 -5.4M201.9 140.6l5.4 5.4M201.9 146l5.4 -5.4M203.5 140.9l5.4 5.4M203.5 146.3l5.4 -5.4M205.2 141.3l5.4 5.4M205.2 146.7l5.4 -5.4M206.9 141.7l5.4 5.4M206.9 147.1l5.4 -5.4M208.8 142.2l5.4 5.4M208.8 147.6l5.4 -5.4M210.7 142.8l5.4 5.4M210.7 148.2l5.4 -5.4M211.1 142.9l5.4 5.4M211.1 148.3l5.4 -5.4M211.5 143.1l5.4 5.4M211.5 148.5l5.4 -5.4M211.9 143.2l5.4 5.4M211.9 148.6l5.4 -5.4M212.3 143.3l5.4 5.4M212.3 148.7l5.4 -5.4M212.7 143.5l5.4 5.4M212.7 148.9l5.4 -5.4M213.1 143.6l5.4 5.4M213.1 149l5.4 -5.4M213.5 143.8l5.4 5.4M213.5 149.2l5.4 -5.4M213.9 143.9l5.4 5.4M213.9 149.3l5.4 -5.4M214.3 144.1l5.4 5.4M214.3 149.5l5.4 -5.4M214.8 144.3l5.4 5.4M214.8 149.7l5.4 -5.4M215.2 144.4l5.4 5.4M215.2 149.8l5.4 -5.4M215.7 144.6l5.4 5.4M215.7 150l5.4 -5.4M216.1 144.8l5.4 5.4M216.1 150.2l5.4 -5.4M216.6 145l5.4 5.4M216.6 150.4l5.4 -5.4M217 145.2l5.4 5.4M217 150.6l5.4 -5.4M217.5 145.4l5.4 5.4M217.5 150.8l5.4 -5.4M217.9 145.6l5.4 5.4M217.9 151l5.4 -5.4M218.4 145.8l5.4 5.4M218.4 151.2l5.4 -5.4M218.9 146l5.4 5.4M218.9 151.4l5.4 -5.4M219.4 146.2l5.4 5.4M219.4 151.6l5.4 -5.4M219.9 146.4l5.4 5.4M219.9 151.8l5.4 -5.4M220.4 146.6l5.4 5.4M220.4 152l5.4 -5.4M220.9 146.9l5.4 5.4M220.9 152.3l5.4 -5.4M221.4 147.1l5.4 5.4M221.4 152.5l5.4 -5.4M221.9 147.4l5.4 5.4M221.9 152.8l5.4 -5.4M222.4 147.6l5.4 5.4M222.4 153l5.4 -5.4M223 147.9l5.4 5.4M223 153.3l5.4 -5.4M223.5 148.2l5.4 5.4M223.5 153.6l5.4 -5.4M224.1 148.5l5.4 5.4M224.1 153.9l5.4 -5.4M224.6 148.8l5.4 5.4M224.6 154.2l5.4 -5.4M225.2 149.1l5.4 5.4M225.2 154.5l5.4 -5.4M225.7 149.4l5.4 5.4M225.7 154.8l5.4 -5.4M226.3 149.8l5.4 5.4M226.3 155.2l5.4 -5.4M226.9 150.1l5.4 5.4M226.9 155.5l5.4 -5.4M227.5 150.5l5.4 5.4M227.5 155.9l5.4 -5.4M228.1 150.9l5.4 5.4M228.1 156.3l5.4 -5.4M228.7 151.2l5.4 5.4M228.7 156.6l5.4 -5.4M229.4 151.6l5.4 5.4M229.4 157l5.4 -5.4M230 152l5.4 5.4M230 157.4l5.4 -5.4M230.6 152.4l5.4 5.4M230.6 157.8l5.4 -5.4M231.3 152.9l5.4 5.4M231.3 158.3l5.4 -5.4M232 153.3l5.4 5.4M232 158.7l5.4 -5.4M232.6 153.7l5.4 5.4M232.6 159.1l5.4 -5.4M233.3 154.2l5.4 5.4M233.3 159.6l5.4 -5.4M233.7 154.4l5.4 5.4M233.7 159.8l5.4 -5.4M234 154.7l5.4 5.4M234 160.1l5.4 -5.4M234.4 154.9l5.4 5.4M234.4 160.3l5.4 -5.4M234.8 155.1l5.4 5.4M234.8 160.5l5.4 -5.4M235.1 155.4l5.4 5.4M235.1 160.8l5.4 -5.4M235.5 155.6l5.4 5.4M235.5 161l5.4 -5.4M235.9 155.9l5.4 5.4M235.9 161.3l5.4 -5.4M236.2 156.1l5.4 5.4M236.2 161.5l5.4 -5.4M236.6 156.4l5.4 5.4M236.6 161.8l5.4 -5.4M237 156.6l5.4 5.4M237 162l5.4 -5.4M237.4 156.9l5.4 5.4M237.4 162.3l5.4 -5.4M237.8 157.1l5.4 5.4M237.8 162.5l5.4 -5.4M238.2 157.4l5.4 5.4M238.2 162.8l5.4 -5.4M238.6 157.7l5.4 5.4M238.6 163.1l5.4 -5.4M239 157.9l5.4 5.4M239 163.3l5.4 -5.4M239.4 158.2l5.4 5.4M239.4 163.6l5.4 -5.4M239.8 158.5l5.4 5.4M239.8 163.9l5.4 -5.4M240.2 158.7l5.4 5.4M240.2 164.1l5.4 -5.4M240.6 159l5.4 5.4M240.6 164.4l5.4 -5.4M241 159.3l5.4 5.4M241 164.7l5.4 -5.4M241.5 159.6l5.4 5.4M241.5 165l5.4 -5.4M241.9 159.9l5.4 5.4M241.9 165.3l5.4 -5.4M242.3 160.2l5.4 5.4M242.3 165.6l5.4 -5.4M242.8 160.5l5.4 5.4M242.8 165.9l5.4 -5.4M243.2 160.9l5.4 5.4M243.2 166.3l5.4 -5.4M243.7 161.2l5.4 5.4M243.7 166.6l5.4 -5.4M244.1 161.5l5.4 5.4M244.1 166.9l5.4 -5.4M244.6 161.9l5.4 5.4M244.6 167.3l5.4 -5.4M245.1 162.3l5.4 5.4M245.1 167.7l5.4 -5.4M245.5 162.6l5.4 5.4M245.5 168l5.4 -5.4M246 163l5.4 5.4M246 168.4l5.4 -5.4M246.5 163.4l5.4 5.4M246.5 168.8l5.4 -5.4M247 163.8l5.4 5.4M247 169.2l5.4 -5.4M247.5 164.2l5.4 5.4M247.5 169.6l5.4 -5.4M248 164.7l5.4 5.4M248 170.1l5.4 -5.4M248.5 165.1l5.4 5.4M248.5 170.5l5.4 -5.4M249 165.6l5.4 5.4M249 171l5.4 -5.4M249.5 166.1l5.4 5.4M249.5 171.5l5.4 -5.4M250.1 166.6l5.4 5.4M250.1 172l5.4 -5.4M250.6 167.1l5.4 5.4M250.6 172.5l5.4 -5.4M251.2 167.7l5.4 5.4M251.2 173.1l5.4 -5.4M251.7 168.3l5.4 5.4M251.7 173.7l5.4 -5.4M252.3 169l5.4 5.4M252.3 174.4l5.4 -5.4M252.9 169.7l5.4 5.4M252.9 175.1l5.4 -5.4M253.4 170.5l5.4 5.4M253.4 175.9l5.4 -5.4M254 171.2l5.4 5.4M254 176.6l5.4 -5.4M254.6 172.1l5.4 5.4M254.6 177.5l5.4 -5.4M255.2 172.9l5.4 5.4M255.2 178.3l5.4 -5.4M255.8 173.8l5.4 5.4M255.8 179.2l5.4 -5.4M256.5 174.7l5.4 5.4M256.5 180.1l5.4 -5.4M257.1 175.6l5.4 5.4M257.1 181l5.4 -5.4M257.7 176.5l5.4 5.4M257.7 181.9l5.4 -5.4M258.4 177.4l5.4 5.4M258.4 182.8l5.4 -5.4M259.1 178.3l5.4 5.4M259.1 183.7l5.4 -5.4M259.8 179.2l5.4 5.4M259.8 184.6l5.4 -5.4M260.4 180l5.4 5.4M260.4 185.4l5.4 -5.4M261.1 180.9l5.4 5.4M261.1 186.3l5.4 -5.4M261.9 181.8l5.4 5.4M261.9 187.2l5.4 -5.4M262.6 182.6l5.4 5.4M262.6 188l5.4 -5.4M263.3 183.5l5.4 5.4M263.3 188.9l5.4 -5.4M264.1 184.4l5.4 5.4M264.1 189.8l5.4 -5.4M264.9 185.2l5.4 5.4M264.9 190.6l5.4 -5.4M265.7 186.1l5.4 5.4M265.7 191.5l5.4 -5.4M266.5 186.9l5.4 5.4M266.5 192.3l5.4 -5.4M267.3 187.8l5.4 5.4M267.3 193.2l5.4 -5.4M268.1 188.6l5.4 5.4M268.1 194l5.4 -5.4M269 189.4l5.4 5.4M269 194.8l5.4 -5.4M269.9 190.2l5.4 5.4M269.9 195.6l5.4 -5.4M270.8 190.9l5.4 5.4M270.8 196.3l5.4 -5.4M271.7 191.7l5.4 5.4M271.7 197.1l5.4 -5.4M272.6 192.4l5.4 5.4M272.6 197.8l5.4 -5.4M273.6 193.2l5.4 5.4M273.6 198.6l5.4 -5.4M274.6 193.9l5.4 5.4M274.6 199.3l5.4 -5.4M275.6 194.6l5.4 5.4M275.6 200l5.4 -5.4M276.7 195.3l5.4 5.4M276.7 200.7l5.4 -5.4M277.7 195.9l5.4 5.4M277.7 201.3l5.4 -5.4M278.8 196.6l5.4 5.4M278.8 202l5.4 -5.4M280 197.2l5.4 5.4M280 202.6l5.4 -5.4M281.1 197.8l5.4 5.4M281.1 203.2l5.4 -5.4M282.3 198.4l5.4 5.4M282.3 203.8l5.4 -5.4M283.6 199l5.4 5.4M283.6 204.4l5.4 -5.4M284.9 199.7l5.4 5.4M284.9 205.1l5.4 -5.4M286.2 200.3l5.4 5.4M286.2 205.7l5.4 -5.4M287.6 200.9l5.4 5.4M287.6 206.3l5.4 -5.4M289 201.6l5.4 5.4M289 207l5.4 -5.4M290.4 202.3l5.4 5.4M290.4 207.7l5.4 -5.4M292 203l5.4 5.4M292 208.4l5.4 -5.4M293.6 203.7l5.4 5.4M293.6 209.1l5.4 -5.4M295.2 204.4l5.4 5.4M295.2 209.8l5.4 -5.4M297 205.2l5.4 5.4M297 210.6l5.4 -5.4M298.8 206l5.4 5.4M298.8 211.4l5.4 -5.4M300.7 206.8l5.4 5.4M300.7 212.2l5.4 -5.4M302.7 207.8l5.4 5.4M302.7 213.2l5.4 -5.4M304.8 208.9l5.4 5.4M304.8 214.3l5.4 -5.4M307.1 210.2l5.4 5.4M307.1 215.6l5.4 -5.4M309.4 211.4l5.4 5.4M309.4 216.8l5.4 -5.4M312 212.4l5.4 5.4M312 217.8l5.4 -5.4M314.7 213.4l5.4 5.4M314.7 218.8l5.4 -5.4M317.6 214.5l5.4 5.4M317.6 219.9l5.4 -5.4M320.7 216.3l5.4 5.4M320.7 221.7l5.4 -5.4M324.1 220.2l5.4 5.4M324.1 225.6l5.4 -5.4M327.8 217.1l5.4 5.4M327.8 222.5l5.4 -5.4M331.9 221.5l5.4 5.4M331.9 226.9l5.4 -5.4M336.5 219.6l5.4 5.4M336.5 225l5.4 -5.4M341.8 223.3l5.4 5.4M341.8 228.7l5.4 -5.4M347.8 222.1l5.4 5.4M347.8 227.5l5.4 -5.4M354.9 225.5l5.4 5.4M354.9 230.9l5.4 -5.4" stroke-width="1.0"/>
</g>
<g stroke="#ff00ff" fill="none">
<path clip-path="url(#c)" d="M87.5 108.8 L89.5 108.8 L91.6 108.9 L93.8 108.9 L96.2 108.9 L98.7 109 L101.4 109 L104.3 109.1 L107.5 109.2 L110.9 109.3 L114.6 109.3 L118.7 109.4 L123.3 109.6 L128.5 109.7 L134.6 109.9 L141.7 110.1 L150.4 110.5 L150.8 110.5 L151.2 110.6 L151.6 110.6 L152 110.6 L152.4 110.6 L152.8 110.7 L153.3 110.7 L153.7 110.7 L154.1 110.7 L154.5 110.8 L155 110.8 L155.4 110.8 L155.9 110.9 L156.3 110.9 L156.8 110.9 L157.2 111 L157.7 111 L158.2 111.1 L158.7 111.1 L159.1 111.2 L159.6 111.2 L160.1 111.3 L160.6 111.3 L161.2 111.4 L161.7 111.4 L162.2 111.5 L162.7 111.5 L163.3 111.6 L163.8 111.6 L164.4 111.7 L164.9 111.8 L165.5 111.8 L166.1 111.9 L166.7 112 L167.3 112 L167.9 112.1 L168.5 112.2 L169.1 112.3 L169.7 112.3 L170.4 112.4 L171.1 112.5 L171.7 112.6 L172.4 112.7 L173.1 112.8 L173.8 112.9 L174.5 113 L175.2 113.1 L176 113.2 L176.8 113.3 L177.5 113.4 L178.3 113.5 L179.1 113.6 L179.9 113.7 L180.8 113.9 L181.6 114 L182.5 114.2 L183.4 114.3 L184.3 114.5 L185.3 114.7 L186.3 114.8 L187.2 115 L188.3 115.2 L189.3 115.4 L190.4 115.7 L191.5 115.9 L192.6 116.2 L193.8 116.4 L195 116.7 L196.2 117 L197.5 117.3 L198.8 117.6 L200.2 118 L201.6 118.3 L203.1 118.8 L204.6 119.2 L206.2 119.7 L207.9 120.2 L209.6 120.8 L211.5 121.4 L213.4 122.1 L213.6 122.2 L213.8 122.3 L214 122.4 L214.2 122.4 L214.4 122.5 L214.6 122.6 L214.8 122.7 L215 122.7 L215.2 122.8 L215.4 122.9 L215.6 123 L215.8 123.1 L216 123.2 L216.2 123.3 L216.4 123.3 L216.6 123.4 L216.8 123.5 L217 123.6 L217.3 123.7 L217.5 123.8 L217.7 123.9 L217.9 124 L218.1 124.1 L218.4 124.2 L218.6 124.3 L218.8 124.4 L219 124.5 L219.3 124.6 L219.5 124.7 L219.7 124.8 L219.9 124.9 L220.2 125 L220.4 125.1 L220.6 125.2 L220.9 125.3 L221.1 125.4 L221.4 125.5 L221.6 125.7 L221.8 125.8 L222.1 125.9 L222.3 126 L222.6 126.1 L222.8 126.2 L223.1 126.4 L223.3 126.5 L223.6 126.6 L223.8 126.7 L224.1 126.9 L224.4 127 L224.6 127.1 L224.9 127.2 L225.1 127.4 L225.4 127.5 L225.7 127.6 L225.9 127.8 L226.2 127.9 L226.5 128 L226.8 128.2 L227 128.3 L227.3 128.5 L227.6 128.6 L227.9 128.7 L228.2 128.9 L228.4 129 L228.7 129.2 L229 129.3 L229.3 129.5 L229.6 129.6 L229.9 129.8 L230.2 129.9 L230.5 130.1 L230.8 130.2 L231.1 130.4 L231.4 130.6 L231.7 130.7 L232.1 130.9 L232.4 131.1 L232.7 131.3 L233 131.4 L233.3 131.6 L233.7 131.8 L234 132 L234.3 132.2 L234.7 132.4 L235 132.6 L235.3 132.8 L235.7 133 L236 133.2 L236.4 133.4 L236.7 133.7 L237.1 133.9 L237.5 134.1 L237.8 134.4 L238.2 134.6 L238.6 134.9 L238.9 135.2 L239.3 135.4 L239.7 135.7 L240.1 136 L240.5 136.3 L240.9 136.6 L241.3 136.9 L241.7 137.2 L242.1 137.5 L242.5 137.8 L242.9 138.1 L243.3 138.4 L243.7 138.8 L244.2 139.1 L244.6 139.4 L245 139.8 L245.5 140.1 L245.9 140.5 L246.4 140.9 L246.8 141.2 L247.3 141.6 L247.8 142 L248.2 142.4 L248.7 142.8 L249.2 143.2 L249.7 143.6 L250.2 144.1 L250.7 144.5 L251.2 145 L251.7 145.5 L252.2 146 L252.8 146.5 L253.3 147 L253.9 147.5 L254.4 148.1 L255 148.7 L255.6 149.4 L256.1 150 L256.7 150.7 L257.3 151.3 L257.9 152 L258.5 152.7 L259.2 153.4 L259.8 154.1 L260.4 154.8 L261.1 155.5 L261.8 156.2 L262.5 156.9 L263.1 157.6 L263.8 158.4 L264.6 159.3 L265.3 160.2 L266 161 L266.8 161.9 L267.6 162.6 L268.4 163.3 L269.2 163.8 L270 164.2 L270.8 164.3 L271.7 164.2 L272.6 163.9 L273.5 163.5 L274.4 162.9 L275.3 162.3 L276.3 161.5 L277.3 160.8 L278.3 159.7 L279.4 158.3 L280.4 156.7 L281.5 154.9 L282.7 153 L283.8 151.1 L285 148.9 L286.3 146.5 L287.6 144.2 L288.9 142.1 L290.3 140.1 L291.7 138.1 L293.1 136.2 L294.7 134.3 L296.3 132.5 L297.9 130.6 L299.7 128.6 L301.5 126.6 L303.4 124.4 L305.4 122.1 L307.5 119.8 L309.8 117.5 L312.1 116 L314.7 115 L317.4 114.3 L320.3 114.5 L323.4 115.7 L326.8 118.1 L330.5 120.4 L334.6 117.3 L339.2 110.8 L344.5 107.3 L350.5 109.8 L357.6 108" stroke-width="0.5" stroke-dasharray="0.9 2"/>
<path d="M148.9 109.1 L149.6 108.2 L150.4 107.9 L151.1 107.5 L151.9 107.5 L152.6 107.6 L153.4 107.6 L154.1 107.7 L154.9 107.7 L155.6 107.8 L156.4 107.9 L157.1 107.9 L157.9 108 L158.6 108 L159.4 108.1 L160.1 108.2 L160.9 108.3 L161.6 108.3 L162.4 108.4 L163.1 108.5 L163.9 108.6 L164.6 108.7 L165.4 108.7 L166.1 108.8 L166.9 108.9 L167.6 109 L168.4 109.1 L169.1 109.2 L169.9 109.3 L170.6 109.4 L171.4 109.5 L172.1 109.6 L172.9 109.7 L173.6 110.2 L174.4 110.6 L175.1 111.3 L175.1 114.2 L174.4 115 L173.6 115.4 L172.9 115.8 L172.1 115.7 L171.4 115.6 L170.6 115.5 L169.9 115.4 L169.1 115.3 L168.4 115.2 L167.6 115.1 L166.9 115.1 L166.1 115 L165.4 114.9 L164.6 114.8 L163.9 114.7 L163.1 114.6 L162.4 114.5 L161.6 114.5 L160.9 114.4 L160.1 114.3 L159.4 114.2 L158.6 114.2 L157.9 114.1 L157.1 114 L156.4 114 L155.6 113.9 L154.9 113.9 L154.1 113.8 L153.4 113.7 L152.6 113.7 L151.9 113.6 L151.1 113.6 L150.4 113.1 L149.6 112.8 L148.9 112Z" fill="#ff00ff" stroke="none" fill-opacity="0.92"/>
<path d="M211.6 120.8 L212.4 119.9 L213.1 119.7 L213.9 119.2 L214.6 119.5 L215.4 119.8 L216.1 120.1 L216.9 120.4 L217.6 120.7 L218.4 121.1 L219.1 121.4 L219.9 121.7 L220.6 122.1 L221.4 122.4 L222.1 122.8 L222.9 123.1 L223.6 123.5 L224.4 123.9 L225.1 124.2 L225.9 124.6 L226.6 125 L227.4 125.4 L228.1 125.7 L228.9 126.1 L229.6 126.5 L230.4 126.9 L231.1 127.3 L231.9 127.7 L232.6 128.1 L233.4 128.5 L234.1 128.9 L234.9 129.4 L235.6 129.8 L236.4 130.3 L237.1 130.8 L237.9 131.3 L238.6 131.8 L239.4 132.3 L240.1 132.8 L240.9 133.4 L241.6 133.9 L242.4 134.5 L243.1 135 L243.9 135.6 L244.6 136.2 L245.4 136.8 L246.1 137.4 L246.9 137.9 L247.6 138.6 L248.4 139.2 L249.1 139.8 L249.9 140.4 L250.6 141 L251.4 141.7 L252.1 142.4 L252.9 143 L253.6 143.7 L254.4 144.4 L255.1 145.2 L255.9 146 L256.6 146.8 L257.4 147.6 L258.1 148.4 L258.9 149.3 L259.6 150.1 L260.4 150.9 L261.1 151.8 L261.9 152.6 L262.6 153.4 L263.4 154.2 L264.1 154.9 L264.9 155.7 L265.6 156.6 L266.4 157.5 L267.1 158.4 L267.9 159.3 L268.6 160.1 L269.4 160.8 L270.1 161.1 L270.9 161.2 L271.6 161.1 L272.4 160.9 L273.1 160.6 L273.9 160.1 L274.6 159.6 L275.4 159 L276.1 158.5 L276.9 158 L277.6 158.2 L278.4 158.4 L279.1 159.2 L279.1 162.5 L278.4 163.2 L277.6 163.8 L276.9 164.4 L276.1 164.9 L275.4 165.4 L274.6 165.9 L273.9 166.4 L273.1 166.8 L272.4 167.1 L271.6 167.3 L270.9 167.3 L270.1 167.3 L269.4 167 L268.6 166.6 L267.9 166.1 L267.1 165.6 L266.4 165 L265.6 164.3 L264.9 163.5 L264.1 162.7 L263.4 161.8 L262.6 160.9 L261.9 160 L261.1 159.1 L260.4 158.4 L259.6 157.6 L258.9 156.8 L258.1 156 L257.4 155.2 L256.6 154.4 L255.9 153.5 L255.1 152.7 L254.4 151.8 L253.6 151 L252.9 150.2 L252.1 149.4 L251.4 148.6 L250.6 147.9 L249.9 147.2 L249.1 146.6 L248.4 145.9 L247.6 145.2 L246.9 144.6 L246.1 144 L245.4 143.3 L244.6 142.7 L243.9 142.1 L243.1 141.5 L242.4 141 L241.6 140.4 L240.9 139.8 L240.1 139.2 L239.4 138.7 L238.6 138.1 L237.9 137.6 L237.1 137.1 L236.4 136.6 L235.6 136.1 L234.9 135.6 L234.1 135.2 L233.4 134.8 L232.6 134.3 L231.9 133.9 L231.1 133.5 L230.4 133.1 L229.6 132.7 L228.9 132.4 L228.1 132 L227.4 131.6 L226.6 131.2 L225.9 130.8 L225.1 130.5 L224.4 130.1 L223.6 129.7 L222.9 129.4 L222.1 129 L221.4 128.7 L220.6 128.3 L219.9 128 L219.1 127.6 L218.4 127.3 L217.6 127 L216.9 126.6 L216.1 126.3 L215.4 126 L214.6 125.7 L213.9 125.4 L213.1 124.8 L212.4 124.5 L211.6 123.7Z" fill="#ff00ff" stroke="none" fill-opacity="0.92"/>
<path d="M84.8 108.8h5.4M87.5 106.1v5.4M84.8 106.1l5.4 5.4M84.8 111.5l5.4 -5.4M86.8 108.8h5.4M89.5 106.1v5.4M86.8 106.1l5.4 5.4M86.8 111.5l5.4 -5.4M88.9 108.9h5.4M91.6 106.2v5.4M88.9 106.2l5.4 5.4M88.9 111.6l5.4 -5.4M91.1 108.9h5.4M93.8 106.2v5.4M91.1 106.2l5.4 5.4M91.1 111.6l5.4 -5.4M93.5 108.9h5.4M96.2 106.2v5.4M93.5 106.2l5.4 5.4M93.5 111.6l5.4 -5.4M96 109h5.4M98.7 106.3v5.4M96 106.3l5.4 5.4M96 111.7l5.4 -5.4M98.7 109h5.4M101.4 106.3v5.4M98.7 106.3l5.4 5.4M98.7 111.7l5.4 -5.4M101.6 109.1h5.4M104.3 106.4v5.4M101.6 106.4l5.4 5.4M101.6 111.8l5.4 -5.4M104.8 109.2h5.4M107.5 106.5v5.4M104.8 106.5l5.4 5.4M104.8 111.9l5.4 -5.4M108.2 109.3h5.4M110.9 106.6v5.4M108.2 106.6l5.4 5.4M108.2 112l5.4 -5.4M111.9 109.3h5.4M114.6 106.6v5.4M111.9 106.6l5.4 5.4M111.9 112l5.4 -5.4M116 109.4h5.4M118.7 106.7v5.4M116 106.7l5.4 5.4M116 112.1l5.4 -5.4M120.6 109.6h5.4M123.3 106.9v5.4M120.6 106.9l5.4 5.4M120.6 112.3l5.4 -5.4M125.8 109.7h5.4M128.5 107v5.4M125.8 107l5.4 5.4M125.8 112.4l5.4 -5.4M131.9 109.9h5.4M134.6 107.2v5.4M131.9 107.2l5.4 5.4M131.9 112.6l5.4 -5.4M139 110.1h5.4M141.7 107.4v5.4M139 107.4l5.4 5.4M139 112.8l5.4 -5.4M147.7 110.5h5.4M150.4 107.8v5.4M147.7 107.8l5.4 5.4M147.7 113.2l5.4 -5.4M148.1 110.5h5.4M150.8 107.8v5.4M148.1 107.8l5.4 5.4M148.1 113.2l5.4 -5.4M148.5 110.6h5.4M151.2 107.9v5.4M148.5 107.9l5.4 5.4M148.5 113.3l5.4 -5.4M148.9 110.6h5.4M151.6 107.9v5.4M148.9 107.9l5.4 5.4M148.9 113.3l5.4 -5.4M149.3 110.6h5.4M152 107.9v5.4M149.3 107.9l5.4 5.4M149.3 113.3l5.4 -5.4M149.7 110.6h5.4M152.4 107.9v5.4M149.7 107.9l5.4 5.4M149.7 113.3l5.4 -5.4M150.1 110.7h5.4M152.8 108v5.4M150.1 108l5.4 5.4M150.1 113.4l5.4 -5.4M150.6 110.7h5.4M153.3 108v5.4M150.6 108l5.4 5.4M150.6 113.4l5.4 -5.4M151 110.7h5.4M153.7 108v5.4M151 108l5.4 5.4M151 113.4l5.4 -5.4M151.4 110.7h5.4M154.1 108v5.4M151.4 108l5.4 5.4M151.4 113.4l5.4 -5.4M151.8 110.8h5.4M154.5 108.1v5.4M151.8 108.1l5.4 5.4M151.8 113.5l5.4 -5.4M152.3 110.8h5.4M155 108.1v5.4M152.3 108.1l5.4 5.4M152.3 113.5l5.4 -5.4M152.7 110.8h5.4M155.4 108.1v5.4M152.7 108.1l5.4 5.4M152.7 113.5l5.4 -5.4M153.2 110.9h5.4M155.9 108.2v5.4M153.2 108.2l5.4 5.4M153.2 113.6l5.4 -5.4M153.6 110.9h5.4M156.3 108.2v5.4M153.6 108.2l5.4 5.4M153.6 113.6l5.4 -5.4M154.1 110.9h5.4M156.8 108.2v5.4M154.1 108.2l5.4 5.4M154.1 113.6l5.4 -5.4M154.5 111h5.4M157.2 108.3v5.4M154.5 108.3l5.4 5.4M154.5 113.7l5.4 -5.4M155 111h5.4M157.7 108.3v5.4M155 108.3l5.4 5.4M155 113.7l5.4 -5.4M155.5 111.1h5.4M158.2 108.4v5.4M155.5 108.4l5.4 5.4M155.5 113.8l5.4 -5.4M156 111.1h5.4M158.7 108.4v5.4M156 108.4l5.4 5.4M156 113.8l5.4 -5.4M156.4 111.2h5.4M159.1 108.5v5.4M156.4 108.5l5.4 5.4M156.4 113.9l5.4 -5.4M156.9 111.2h5.4M159.6 108.5v5.4M156.9 108.5l5.4 5.4M156.9 113.9l5.4 -5.4M157.4 111.3h5.4M160.1 108.6v5.4M157.4 108.6l5.4 5.4M157.4 114l5.4 -5.4M157.9 111.3h5.4M160.6 108.6v5.4M157.9 108.6l5.4 5.4M157.9 114l5.4 -5.4M158.5 111.4h5.4M161.2 108.7v5.4M158.5 108.7l5.4 5.4M158.5 114.1l5.4 -5.4M159 111.4h5.4M161.7 108.7v5.4M159 108.7l5.4 5.4M159 114.1l5.4 -5.4M159.5 111.5h5.4M162.2 108.8v5.4M159.5 108.8l5.4 5.4M159.5 114.2l5.4 -5.4M160 111.5h5.4M162.7 108.8v5.4M160 108.8l5.4 5.4M160 114.2l5.4 -5.4M160.6 111.6h5.4M163.3 108.9v5.4M160.6 108.9l5.4 5.4M160.6 114.3l5.4 -5.4M161.1 111.6h5.4M163.8 108.9v5.4M161.1 108.9l5.4 5.4M161.1 114.3l5.4 -5.4M161.7 111.7h5.4M164.4 109v5.4M161.7 109l5.4 5.4M161.7 114.4l5.4 -5.4M162.2 111.8h5.4M164.9 109.1v5.4M162.2 109.1l5.4 5.4M162.2 114.5l5.4 -5.4M162.8 111.8h5.4M165.5 109.1v5.4M162.8 109.1l5.4 5.4M162.8 114.5l5.4 -5.4M163.4 111.9h5.4M166.1 109.2v5.4M163.4 109.2l5.4 5.4M163.4 114.6l5.4 -5.4M164 112h5.4M166.7 109.3v5.4M164 109.3l5.4 5.4M164 114.7l5.4 -5.4M164.6 112h5.4M167.3 109.3v5.4M164.6 109.3l5.4 5.4M164.6 114.7l5.4 -5.4M165.2 112.1h5.4M167.9 109.4v5.4M165.2 109.4l5.4 5.4M165.2 114.8l5.4 -5.4M165.8 112.2h5.4M168.5 109.5v5.4M165.8 109.5l5.4 5.4M165.8 114.9l5.4 -5.4M166.4 112.3h5.4M169.1 109.6v5.4M166.4 109.6l5.4 5.4M166.4 115l5.4 -5.4M167 112.3h5.4M169.7 109.6v5.4M167 109.6l5.4 5.4M167 115l5.4 -5.4M167.7 112.4h5.4M170.4 109.7v5.4M167.7 109.7l5.4 5.4M167.7 115.1l5.4 -5.4M168.4 112.5h5.4M171.1 109.8v5.4M168.4 109.8l5.4 5.4M168.4 115.2l5.4 -5.4M169 112.6h5.4M171.7 109.9v5.4M169 109.9l5.4 5.4M169 115.3l5.4 -5.4M169.7 112.7h5.4M172.4 110v5.4M169.7 110l5.4 5.4M169.7 115.4l5.4 -5.4M170.4 112.8h5.4M173.1 110.1v5.4M170.4 110.1l5.4 5.4M170.4 115.5l5.4 -5.4M171.1 112.9h5.4M173.8 110.2v5.4M171.1 110.2l5.4 5.4M171.1 115.6l5.4 -5.4M171.8 113h5.4M174.5 110.3v5.4M171.8 110.3l5.4 5.4M171.8 115.7l5.4 -5.4M172.5 113.1h5.4M175.2 110.4v5.4M172.5 110.4l5.4 5.4M172.5 115.8l5.4 -5.4M173.3 113.2h5.4M176 110.5v5.4M173.3 110.5l5.4 5.4M173.3 115.9l5.4 -5.4M174.1 113.3h5.4M176.8 110.6v5.4M174.1 110.6l5.4 5.4M174.1 116l5.4 -5.4M174.8 113.4h5.4M177.5 110.7v5.4M174.8 110.7l5.4 5.4M174.8 116.1l5.4 -5.4M175.6 113.5h5.4M178.3 110.8v5.4M175.6 110.8l5.4 5.4M175.6 116.2l5.4 -5.4M176.4 113.6h5.4M179.1 110.9v5.4M176.4 110.9l5.4 5.4M176.4 116.3l5.4 -5.4M177.2 113.7h5.4M179.9 111v5.4M177.2 111l5.4 5.4M177.2 116.4l5.4 -5.4M178.1 113.9h5.4M180.8 111.2v5.4M178.1 111.2l5.4 5.4M178.1 116.6l5.4 -5.4M178.9 114h5.4M181.6 111.3v5.4M178.9 111.3l5.4 5.4M178.9 116.7l5.4 -5.4M179.8 114.2h5.4M182.5 111.5v5.4M179.8 111.5l5.4 5.4M179.8 116.9l5.4 -5.4M180.7 114.3h5.4M183.4 111.6v5.4M180.7 111.6l5.4 5.4M180.7 117l5.4 -5.4M181.6 114.5h5.4M184.3 111.8v5.4M181.6 111.8l5.4 5.4M181.6 117.2l5.4 -5.4M182.6 114.7h5.4M185.3 112v5.4M182.6 112l5.4 5.4M182.6 117.4l5.4 -5.4M183.6 114.8h5.4M186.3 112.1v5.4M183.6 112.1l5.4 5.4M183.6 117.5l5.4 -5.4M184.5 115h5.4M187.2 112.3v5.4M184.5 112.3l5.4 5.4M184.5 117.7l5.4 -5.4M185.6 115.2h5.4M188.3 112.5v5.4M185.6 112.5l5.4 5.4M185.6 117.9l5.4 -5.4M186.6 115.4h5.4M189.3 112.7v5.4M186.6 112.7l5.4 5.4M186.6 118.1l5.4 -5.4M187.7 115.7h5.4M190.4 113v5.4M187.7 113l5.4 5.4M187.7 118.4l5.4 -5.4M188.8 115.9h5.4M191.5 113.2v5.4M188.8 113.2l5.4 5.4M188.8 118.6l5.4 -5.4M189.9 116.2h5.4M192.6 113.5v5.4M189.9 113.5l5.4 5.4M189.9 118.9l5.4 -5.4M191.1 116.4h5.4M193.8 113.7v5.4M191.1 113.7l5.4 5.4M191.1 119.1l5.4 -5.4M192.3 116.7h5.4M195 114v5.4M192.3 114l5.4 5.4M192.3 119.4l5.4 -5.4M193.5 117h5.4M196.2 114.3v5.4M193.5 114.3l5.4 5.4M193.5 119.7l5.4 -5.4M194.8 117.3h5.4M197.5 114.6v5.4M194.8 114.6l5.4 5.4M194.8 120l5.4 -5.4M196.1 117.6h5.4M198.8 114.9v5.4M196.1 114.9l5.4 5.4M196.1 120.3l5.4 -5.4M197.5 118h5.4M200.2 115.3v5.4M197.5 115.3l5.4 5.4M197.5 120.7l5.4 -5.4M198.9 118.3h5.4M201.6 115.6v5.4M198.9 115.6l5.4 5.4M198.9 121l5.4 -5.4M200.4 118.8h5.4M203.1 116.1v5.4M200.4 116.1l5.4 5.4M200.4 121.5l5.4 -5.4M201.9 119.2h5.4M204.6 116.5v5.4M201.9 116.5l5.4 5.4M201.9 121.9l5.4 -5.4M203.5 119.7h5.4M206.2 117v5.4M203.5 117l5.4 5.4M203.5 122.4l5.4 -5.4M205.2 120.2h5.4M207.9 117.5v5.4M205.2 117.5l5.4 5.4M205.2 122.9l5.4 -5.4M206.9 120.8h5.4M209.6 118.1v5.4M206.9 118.1l5.4 5.4M206.9 123.5l5.4 -5.4M208.8 121.4h5.4M211.5 118.7v5.4M208.8 118.7l5.4 5.4M208.8 124.1l5.4 -5.4M210.7 122.1h5.4M213.4 119.4v5.4M210.7 119.4l5.4 5.4M210.7 124.8l5.4 -5.4M211.1 122.3h5.4M213.8 119.6v5.4M211.1 119.6l5.4 5.4M211.1 125l5.4 -5.4M211.5 122.4h5.4M214.2 119.7v5.4M211.5 119.7l5.4 5.4M211.5 125.1l5.4 -5.4M211.9 122.6h5.4M214.6 119.9v5.4M211.9 119.9l5.4 5.4M211.9 125.3l5.4 -5.4M212.3 122.7h5.4M215 120v5.4M212.3 120l5.4 5.4M212.3 125.4l5.4 -5.4M212.7 122.9h5.4M215.4 120.2v5.4M212.7 120.2l5.4 5.4M212.7 125.6l5.4 -5.4M213.1 123.1h5.4M215.8 120.4v5.4M213.1 120.4l5.4 5.4M213.1 125.8l5.4 -5.4M213.5 123.3h5.4M216.2 120.6v5.4M213.5 120.6l5.4 5.4M213.5 126l5.4 -5.4M213.9 123.4h5.4M216.6 120.7v5.4M213.9 120.7l5.4 5.4M213.9 126.1l5.4 -5.4M214.3 123.6h5.4M217 120.9v5.4M214.3 120.9l5.4 5.4M214.3 126.3l5.4 -5.4M214.8 123.8h5.4M217.5 121.1v5.4M214.8 121.1l5.4 5.4M214.8 126.5l5.4 -5.4M215.2 124h5.4M217.9 121.3v5.4M215.2 121.3l5.4 5.4M215.2 126.7l5.4 -5.4M215.7 124.2h5.4M218.4 121.5v5.4M215.7 121.5l5.4 5.4M215.7 126.9l5.4 -5.4M216.1 124.4h5.4M218.8 121.7v5.4M216.1 121.7l5.4 5.4M216.1 127.1l5.4 -5.4M216.6 124.6h5.4M219.3 121.9v5.4M216.6 121.9l5.4 5.4M216.6 127.3l5.4 -5.4M217 124.8h5.4M219.7 122.1v5.4M217 122.1l5.4 5.4M217 127.5l5.4 -5.4M217.5 125h5.4M220.2 122.3v5.4M217.5 122.3l5.4 5.4M217.5 127.7l5.4 -5.4M217.9 125.2h5.4M220.6 122.5v5.4M217.9 122.5l5.4 5.4M217.9 127.9l5.4 -5.4M218.4 125.4h5.4M221.1 122.7v5.4M218.4 122.7l5.4 5.4M218.4 128.1l5.4 -5.4M218.9 125.7h5.4M221.6 123v5.4M218.9 123l5.4 5.4M218.9 128.4l5.4 -5.4M219.4 125.9h5.4M222.1 123.2v5.4M219.4 123.2l5.4 5.4M219.4 128.6l5.4 -5.4M219.9 126.1h5.4M222.6 123.4v5.4M219.9 123.4l5.4 5.4M219.9 128.8l5.4 -5.4M220.4 126.4h5.4M223.1 123.7v5.4M220.4 123.7l5.4 5.4M220.4 129.1l5.4 -5.4M220.9 126.6h5.4M223.6 123.9v5.4M220.9 123.9l5.4 5.4M220.9 129.3l5.4 -5.4M221.4 126.9h5.4M224.1 124.2v5.4M221.4 124.2l5.4 5.4M221.4 129.6l5.4 -5.4M221.9 127.1h5.4M224.6 124.4v5.4M221.9 124.4l5.4 5.4M221.9 129.8l5.4 -5.4M222.4 127.4h5.4M225.1 124.7v5.4M222.4 124.7l5.4 5.4M222.4 130.1l5.4 -5.4M223 127.6h5.4M225.7 124.9v5.4M223 124.9l5.4 5.4M223 130.3l5.4 -5.4M223.5 127.9h5.4M226.2 125.2v5.4M223.5 125.2l5.4 5.4M223.5 130.6l5.4 -5.4M224.1 128.2h5.4M226.8 125.5v5.4M224.1 125.5l5.4 5.4M224.1 130.9l5.4 -5.4M224.6 128.5h5.4M227.3 125.8v5.4M224.6 125.8l5.4 5.4M224.6 131.2l5.4 -5.4M225.2 128.7h5.4M227.9 126v5.4M225.2 126l5.4 5.4M225.2 131.4l5.4 -5.4M225.7 129h5.4M228.4 126.3v5.4M225.7 126.3l5.4 5.4M225.7 131.7l5.4 -5.4M226.3 129.3h5.4M229 126.6v5.4M226.3 126.6l5.4 5.4M226.3 132l5.4 -5.4M226.9 129.6h5.4M229.6 126.9v5.4M226.9 126.9l5.4 5.4M226.9 132.3l5.4 -5.4M227.5 129.9h5.4M230.2 127.2v5.4M227.5 127.2l5.4 5.4M227.5 132.6l5.4 -5.4M228.1 130.2h5.4M230.8 127.5v5.4M228.1 127.5l5.4 5.4M228.1 132.9l5.4 -5.4M228.7 130.6h5.4M231.4 127.9v5.4M228.7 127.9l5.4 5.4M228.7 133.3l5.4 -5.4M229.4 130.9h5.4M232.1 128.2v5.4M229.4 128.2l5.4 5.4M229.4 133.6l5.4 -5.4M230 131.3h5.4M232.7 128.6v5.4M230 128.6l5.4 5.4M230 134l5.4 -5.4M230.6 131.6h5.4M233.3 128.9v5.4M230.6 128.9l5.4 5.4M230.6 134.3l5.4 -5.4M231.3 132h5.4M234 129.3v5.4M231.3 129.3l5.4 5.4M231.3 134.7l5.4 -5.4M232 132.4h5.4M234.7 129.7v5.4M232 129.7l5.4 5.4M232 135.1l5.4 -5.4M232.6 132.8h5.4M235.3 130.1v5.4M232.6 130.1l5.4 5.4M232.6 135.5l5.4 -5.4M233.3 133.2h5.4M236 130.5v5.4M233.3 130.5l5.4 5.4M233.3 135.9l5.4 -5.4M233.7 133.4h5.4M236.4 130.7v5.4M233.7 130.7l5.4 5.4M233.7 136.1l5.4 -5.4M234 133.7h5.4M236.7 131v5.4M234 131l5.4 5.4M234 136.4l5.4 -5.4M234.4 133.9h5.4M237.1 131.2v5.4M234.4 131.2l5.4 5.4M234.4 136.6l5.4 -5.4M234.8 134.1h5.4M237.5 131.4v5.4M234.8 131.4l5.4 5.4M234.8 136.8l5.4 -5.4M235.1 134.4h5.4M237.8 131.7v5.4M235.1 131.7l5.4 5.4M235.1 137.1l5.4 -5.4M235.5 134.6h5.4M238.2 131.9v5.4M235.5 131.9l5.4 5.4M235.5 137.3l5.4 -5.4M235.9 134.9h5.4M238.6 132.2v5.4M235.9 132.2l5.4 5.4M235.9 137.6l5.4 -5.4M236.2 135.2h5.4M238.9 132.5v5.4M236.2 132.5l5.4 5.4M236.2 137.9l5.4 -5.4M236.6 135.4h5.4M239.3 132.7v5.4M236.6 132.7l5.4 5.4M236.6 138.1l5.4 -5.4M237 135.7h5.4M239.7 133v5.4M237 133l5.4 5.4M237 138.4l5.4 -5.4M237.4 136h5.4M240.1 133.3v5.4M237.4 133.3l5.4 5.4M237.4 138.7l5.4 -5.4M237.8 136.3h5.4M240.5 133.6v5.4M237.8 133.6l5.4 5.4M237.8 139l5.4 -5.4M238.2 136.6h5.4M240.9 133.9v5.4M238.2 133.9l5.4 5.4M238.2 139.3l5.4 -5.4M238.6 136.9h5.4M241.3 134.2v5.4M238.6 134.2l5.4 5.4M238.6 139.6l5.4 -5.4M239 137.2h5.4M241.7 134.5v5.4M239 134.5l5.4 5.4M239 139.9l5.4 -5.4M239.4 137.5h5.4M242.1 134.8v5.4M239.4 134.8l5.4 5.4M239.4 140.2l5.4 -5.4M239.8 137.8h5.4M242.5 135.1v5.4M239.8 135.1l5.4 5.4M239.8 140.5l5.4 -5.4M240.2 138.1h5.4M242.9 135.4v5.4M240.2 135.4l5.4 5.4M240.2 140.8l5.4 -5.4M240.6 138.4h5.4M243.3 135.7v5.4M240.6 135.7l5.4 5.4M240.6 141.1l5.4 -5.4M241 138.8h5.4M243.7 136.1v5.4M241 136.1l5.4 5.4M241 141.5l5.4 -5.4M241.5 139.1h5.4M244.2 136.4v5.4M241.5 136.4l5.4 5.4M241.5 141.8l5.4 -5.4M241.9 139.4h5.4M244.6 136.7v5.4M241.9 136.7l5.4 5.4M241.9 142.1l5.4 -5.4M242.3 139.8h5.4M245 137.1v5.4M242.3 137.1l5.4 5.4M242.3 142.5l5.4 -5.4M242.8 140.1h5.4M245.5 137.4v5.4M242.8 137.4l5.4 5.4M242.8 142.8l5.4 -5.4M243.2 140.5h5.4M245.9 137.8v5.4M243.2 137.8l5.4 5.4M243.2 143.2l5.4 -5.4M243.7 140.9h5.4M246.4 138.2v5.4M243.7 138.2l5.4 5.4M243.7 143.6l5.4 -5.4M244.1 141.2h5.4M246.8 138.5v5.4M244.1 138.5l5.4 5.4M244.1 143.9l5.4 -5.4M244.6 141.6h5.4M247.3 138.9v5.4M244.6 138.9l5.4 5.4M244.6 144.3l5.4 -5.4M245.1 142h5.4M247.8 139.3v5.4M245.1 139.3l5.4 5.4M245.1 144.7l5.4 -5.4M245.5 142.4h5.4M248.2 139.7v5.4M245.5 139.7l5.4 5.4M245.5 145.1l5.4 -5.4M246 142.8h5.4M248.7 140.1v5.4M246 140.1l5.4 5.4M246 145.5l5.4 -5.4M246.5 143.2h5.4M249.2 140.5v5.4M246.5 140.5l5.4 5.4M246.5 145.9l5.4 -5.4M247 143.6h5.4M249.7 140.9v5.4M247 140.9l5.4 5.4M247 146.3l5.4 -5.4M247.5 144.1h5.4M250.2 141.4v5.4M247.5 141.4l5.4 5.4M247.5 146.8l5.4 -5.4M248 144.5h5.4M250.7 141.8v5.4M248 141.8l5.4 5.4M248 147.2l5.4 -5.4M248.5 145h5.4M251.2 142.3v5.4M248.5 142.3l5.4 5.4M248.5 147.7l5.4 -5.4M249 145.5h5.4M251.7 142.8v5.4M249 142.8l5.4 5.4M249 148.2l5.4 -5.4M249.5 146h5.4M252.2 143.3v5.4M249.5 143.3l5.4 5.4M249.5 148.7l5.4 -5.4M250.1 146.5h5.4M252.8 143.8v5.4M250.1 143.8l5.4 5.4M250.1 149.2l5.4 -5.4M250.6 147h5.4M253.3 144.3v5.4M250.6 144.3l5.4 5.4M250.6 149.7l5.4 -5.4M251.2 147.5h5.4M253.9 144.8v5.4M251.2 144.8l5.4 5.4M251.2 150.2l5.4 -5.4M251.7 148.1h5.4M254.4 145.4v5.4M251.7 145.4l5.4 5.4M251.7 150.8l5.4 -5.4M252.3 148.7h5.4M255 146v5.4M252.3 146l5.4 5.4M252.3 151.4l5.4 -5.4M252.9 149.4h5.4M255.6 146.7v5.4M252.9 146.7l5.4 5.4M252.9 152.1l5.4 -5.4M253.4 150h5.4M256.1 147.3v5.4M253.4 147.3l5.4 5.4M253.4 152.7l5.4 -5.4M254 150.7h5.4M256.7 148v5.4M254 148l5.4 5.4M254 153.4l5.4 -5.4M254.6 151.3h5.4M257.3 148.6v5.4M254.6 148.6l5.4 5.4M254.6 154l5.4 -5.4M255.2 152h5.4M257.9 149.3v5.4M255.2 149.3l5.4 5.4M255.2 154.7l5.4 -5.4M255.8 152.7h5.4M258.5 150v5.4M255.8 150l5.4 5.4M255.8 155.4l5.4 -5.4M256.5 153.4h5.4M259.2 150.7v5.4M256.5 150.7l5.4 5.4M256.5 156.1l5.4 -5.4M257.1 154.1h5.4M259.8 151.4v5.4M257.1 151.4l5.4 5.4M257.1 156.8l5.4 -5.4M257.7 154.8h5.4M260.4 152.1v5.4M257.7 152.1l5.4 5.4M257.7 157.5l5.4 -5.4M258.4 155.5h5.4M261.1 152.8v5.4M258.4 152.8l5.4 5.4M258.4 158.2l5.4 -5.4M259.1 156.2h5.4M261.8 153.5v5.4M259.1 153.5l5.4 5.4M259.1 158.9l5.4 -5.4M259.8 156.9h5.4M262.5 154.2v5.4M259.8 154.2l5.4 5.4M259.8 159.6l5.4 -5.4M260.4 157.6h5.4M263.1 154.9v5.4M260.4 154.9l5.4 5.4M260.4 160.3l5.4 -5.4M261.1 158.4h5.4M263.8 155.7v5.4M261.1 155.7l5.4 5.4M261.1 161.1l5.4 -5.4M261.9 159.3h5.4M264.6 156.6v5.4M261.9 156.6l5.4 5.4M261.9 162l5.4 -5.4M262.6 160.2h5.4M265.3 157.5v5.4M262.6 157.5l5.4 5.4M262.6 162.9l5.4 -5.4M263.3 161h5.4M266 158.3v5.4M263.3 158.3l5.4 5.4M263.3 163.7l5.4 -5.4M264.1 161.9h5.4M266.8 159.2v5.4M264.1 159.2l5.4 5.4M264.1 164.6l5.4 -5.4M264.9 162.6h5.4M267.6 159.9v5.4M264.9 159.9l5.4 5.4M264.9 165.3l5.4 -5.4M265.7 163.3h5.4M268.4 160.6v5.4M265.7 160.6l5.4 5.4M265.7 166l5.4 -5.4M266.5 163.8h5.4M269.2 161.1v5.4M266.5 161.1l5.4 5.4M266.5 166.5l5.4 -5.4M267.3 164.2h5.4M270 161.5v5.4M267.3 161.5l5.4 5.4M267.3 166.9l5.4 -5.4M268.1 164.3h5.4M270.8 161.6v5.4M268.1 161.6l5.4 5.4M268.1 167l5.4 -5.4M269 164.2h5.4M271.7 161.5v5.4M269 161.5l5.4 5.4M269 166.9l5.4 -5.4M269.9 163.9h5.4M272.6 161.2v5.4M269.9 161.2l5.4 5.4M269.9 166.6l5.4 -5.4M270.8 163.5h5.4M273.5 160.8v5.4M270.8 160.8l5.4 5.4M270.8 166.2l5.4 -5.4M271.7 162.9h5.4M274.4 160.2v5.4M271.7 160.2l5.4 5.4M271.7 165.6l5.4 -5.4M272.6 162.3h5.4M275.3 159.6v5.4M272.6 159.6l5.4 5.4M272.6 165l5.4 -5.4M273.6 161.5h5.4M276.3 158.8v5.4M273.6 158.8l5.4 5.4M273.6 164.2l5.4 -5.4M274.6 160.8h5.4M277.3 158.1v5.4M274.6 158.1l5.4 5.4M274.6 163.5l5.4 -5.4M275.6 159.7h5.4M278.3 157v5.4M275.6 157l5.4 5.4M275.6 162.4l5.4 -5.4M276.7 158.3h5.4M279.4 155.6v5.4M276.7 155.6l5.4 5.4M276.7 161l5.4 -5.4M277.7 156.7h5.4M280.4 154v5.4M277.7 154l5.4 5.4M277.7 159.4l5.4 -5.4M278.8 154.9h5.4M281.5 152.2v5.4M278.8 152.2l5.4 5.4M278.8 157.6l5.4 -5.4M280 153h5.4M282.7 150.3v5.4M280 150.3l5.4 5.4M280 155.7l5.4 -5.4M281.1 151.1h5.4M283.8 148.4v5.4M281.1 148.4l5.4 5.4M281.1 153.8l5.4 -5.4M282.3 148.9h5.4M285 146.2v5.4M282.3 146.2l5.4 5.4M282.3 151.6l5.4 -5.4M283.6 146.5h5.4M286.3 143.8v5.4M283.6 143.8l5.4 5.4M283.6 149.2l5.4 -5.4M284.9 144.2h5.4M287.6 141.5v5.4M284.9 141.5l5.4 5.4M284.9 146.9l5.4 -5.4M286.2 142.1h5.4M288.9 139.4v5.4M286.2 139.4l5.4 5.4M286.2 144.8l5.4 -5.4M287.6 140.1h5.4M290.3 137.4v5.4M287.6 137.4l5.4 5.4M287.6 142.8l5.4 -5.4M289 138.1h5.4M291.7 135.4v5.4M289 135.4l5.4 5.4M289 140.8l5.4 -5.4M290.4 136.2h5.4M293.1 133.5v5.4M290.4 133.5l5.4 5.4M290.4 138.9l5.4 -5.4M292 134.3h5.4M294.7 131.6v5.4M292 131.6l5.4 5.4M292 137l5.4 -5.4M293.6 132.5h5.4M296.3 129.8v5.4M293.6 129.8l5.4 5.4M293.6 135.2l5.4 -5.4M295.2 130.6h5.4M297.9 127.9v5.4M295.2 127.9l5.4 5.4M295.2 133.3l5.4 -5.4M297 128.6h5.4M299.7 125.9v5.4M297 125.9l5.4 5.4M297 131.3l5.4 -5.4M298.8 126.6h5.4M301.5 123.9v5.4M298.8 123.9l5.4 5.4M298.8 129.3l5.4 -5.4M300.7 124.4h5.4M303.4 121.7v5.4M300.7 121.7l5.4 5.4M300.7 127.1l5.4 -5.4M302.7 122.1h5.4M305.4 119.4v5.4M302.7 119.4l5.4 5.4M302.7 124.8l5.4 -5.4M304.8 119.8h5.4M307.5 117.1v5.4M304.8 117.1l5.4 5.4M304.8 122.5l5.4 -5.4M307.1 117.5h5.4M309.8 114.8v5.4M307.1 114.8l5.4 5.4M307.1 120.2l5.4 -5.4M309.4 116h5.4M312.1 113.3v5.4M309.4 113.3l5.4 5.4M309.4 118.7l5.4 -5.4M312 115h5.4M314.7 112.3v5.4M312 112.3l5.4 5.4M312 117.7l5.4 -5.4M314.7 114.3h5.4M317.4 111.6v5.4M314.7 111.6l5.4 5.4M314.7 117l5.4 -5.4M317.6 114.5h5.4M320.3 111.8v5.4M317.6 111.8l5.4 5.4M317.6 117.2l5.4 -5.4M320.7 115.7h5.4M323.4 113v5.4M320.7 113l5.4 5.4M320.7 118.4l5.4 -5.4M324.1 118.1h5.4M326.8 115.4v5.4M324.1 115.4l5.4 5.4M324.1 120.8l5.4 -5.4M327.8 120.4h5.4M330.5 117.7v5.4M327.8 117.7l5.4 5.4M327.8 123.1l5.4 -5.4M331.9 117.3h5.4M334.6 114.6v5.4M331.9 114.6l5.4 5.4M331.9 120l5.4 -5.4M336.5 110.8h5.4M339.2 108.1v5.4M336.5 108.1l5.4 5.4M336.5 113.5l5.4 -5.4M341.8 107.3h5.4M344.5 104.6v5.4M341.8 104.6l5.4 5.4M341.8 110l5.4 -5.4M347.8 109.8h5.4M350.5 107.1v5.4M347.8 107.1l5.4 5.4M347.8 112.5l5.4 -5.4M354.9 108h5.4M357.6 105.3v5.4M354.9 105.3l5.4 5.4M354.9 110.7l5.4 -5.4" stroke-width="0.95"/>
</g>
<g stroke="#00ffff" fill="none">
<path clip-path="url(#c)" d="M87.5 91.5 L89.5 91.6 L91.6 91.6 L93.8 91.7 L96.2 91.7 L98.7 91.8 L101.4 91.8 L104.3 91.9 L107.5 91.9 L110.9 92 L114.6 92.1 L118.7 92.2 L123.3 92.3 L128.5 92.4 L134.6 92.5 L141.7 92.7 L150.4 92.9 L150.8 92.9 L151.2 92.9 L151.6 93 L152 93 L152.4 93 L152.8 93 L153.3 93 L153.7 93.1 L154.1 93.1 L154.5 93.1 L155 93.2 L155.4 93.2 L155.9 93.2 L156.3 93.3 L156.8 93.3 L157.2 93.4 L157.7 93.4 L158.2 93.5 L158.7 93.5 L159.1 93.6 L159.6 93.6 L160.1 93.7 L160.6 93.7 L161.2 93.8 L161.7 93.8 L162.2 93.9 L162.7 94 L163.3 94 L163.8 94.1 L164.4 94.2 L164.9 94.2 L165.5 94.3 L166.1 94.4 L166.7 94.5 L167.3 94.6 L167.9 94.7 L168.5 94.7 L169.1 94.8 L169.7 94.9 L170.4 95 L171.1 95.1 L171.7 95.2 L172.4 95.3 L173.1 95.4 L173.8 95.5 L174.5 95.6 L175.2 95.7 L176 95.9 L176.8 96 L177.5 96.1 L178.3 96.2 L179.1 96.3 L179.9 96.5 L180.8 96.6 L181.6 96.8 L182.5 96.9 L183.4 97.1 L184.3 97.2 L185.3 97.4 L186.3 97.6 L187.2 97.8 L188.3 98 L189.3 98.2 L190.4 98.4 L191.5 98.7 L192.6 98.9 L193.8 99.2 L195 99.4 L196.2 99.7 L197.5 100 L198.8 100.3 L200.2 100.6 L201.6 100.9 L203.1 101.2 L204.6 101.6 L206.2 102 L207.9 102.4 L209.6 102.8 L211.5 103.3 L213.4 103.9 L213.6 104 L213.8 104 L214 104.1 L214.2 104.2 L214.4 104.2 L214.6 104.3 L214.8 104.3 L215 104.4 L215.2 104.5 L215.4 104.5 L215.6 104.6 L215.8 104.7 L216 104.7 L216.2 104.8 L216.4 104.9 L216.6 104.9 L216.8 105 L217 105.1 L217.3 105.2 L217.5 105.2 L217.7 105.3 L217.9 105.4 L218.1 105.5 L218.4 105.5 L218.6 105.6 L218.8 105.7 L219 105.8 L219.3 105.9 L219.5 106 L219.7 106 L219.9 106.1 L220.2 106.2 L220.4 106.3 L220.6 106.4 L220.9 106.5 L221.1 106.6 L221.4 106.7 L221.6 106.8 L221.8 106.9 L222.1 107 L222.3 107.1 L222.6 107.2 L222.8 107.3 L223.1 107.4 L223.3 107.5 L223.6 107.6 L223.8 107.7 L224.1 107.8 L224.4 107.9 L224.6 108 L224.9 108.2 L225.1 108.3 L225.4 108.4 L225.7 108.5 L225.9 108.7 L226.2 108.8 L226.5 108.9 L226.8 109.1 L227 109.2 L227.3 109.3 L227.6 109.5 L227.9 109.6 L228.2 109.8 L228.4 109.9 L228.7 110.1 L229 110.3 L229.3 110.5 L229.6 110.6 L229.9 110.8 L230.2 111 L230.5 111.3 L230.8 111.5 L231.1 111.7 L231.4 111.9 L231.7 112.2 L232.1 112.4 L232.4 112.6 L232.7 112.9 L233 113.1 L233.3 113.4 L233.7 113.7 L234 113.9 L234.3 114.2 L234.7 114.5 L235 114.7 L235.3 115 L235.7 115.3 L236 115.6 L236.4 115.9 L236.7 116.1 L237.1 116.4 L237.5 116.7 L237.8 117 L238.2 117.2 L238.6 117.5 L238.9 117.8 L239.3 118.1 L239.7 118.3 L240.1 118.6 L240.5 118.9 L240.9 119.2 L241.3 119.5 L241.7 119.8 L242.1 120.1 L242.5 120.4 L242.9 120.7 L243.3 121 L243.7 121.4 L244.2 121.7 L244.6 122.1 L245 122.5 L245.5 122.9 L245.9 123.2 L246.4 123.6 L246.8 124 L247.3 124.4 L247.8 124.8 L248.2 125.2 L248.7 125.6 L249.2 125.9 L249.7 126.3 L250.2 126.7 L250.7 127.1 L251.2 127.5 L251.7 127.9 L252.2 128.3 L252.8 128.7 L253.3 129.2 L253.9 129.6 L254.4 130.1 L255 130.6 L255.6 131.1 L256.1 131.6 L256.7 132.2 L257.3 132.8 L257.9 133.4 L258.5 134.1 L259.2 134.9 L259.8 135.8 L260.4 136.7 L261.1 137.6 L261.8 138.5 L262.5 139.3 L263.1 139.9 L263.8 140.6 L264.6 141.2 L265.3 141.9 L266 142.5 L266.8 143.1 L267.6 143.7 L268.4 144.1 L269.2 144.5 L270 144.7 L270.8 144.7 L271.7 144.3 L272.6 143.7 L273.5 142.9 L274.4 141.8 L275.3 140.7 L276.3 139.7 L277.3 138.4 L278.3 137 L279.4 135.4 L280.4 133.7 L281.5 131.9 L282.7 130.1 L283.8 128.1 L285 126.1 L286.3 123.9 L287.6 121.6 L288.9 119.2 L290.3 116.8 L291.7 114.4 L293.1 111.9 L294.7 109.2 L296.3 106.5 L297.9 103.9 L299.7 101.5 L301.5 99.4 L303.4 97.6 L305.4 96.2 L307.5 94.9 L309.8 93.8 L312.1 92.8 L314.7 91.8 L317.4 91.4 L320.3 91.6 L323.4 92.1 L326.8 94.7 L330.5 99.7 L334.6 96.7 L339.2 89.9 L344.5 84.3 L350.5 88.6 L357.6 87.2" stroke-width="0.5"/>
<path d="M148.1 89.9 L148.9 89.9 L149.6 89.9 L150.4 89.9 L151.1 89.9 L151.9 89.9 L152.6 89.9 L153.4 89.9 L154.1 89.9 L154.9 89.9 L155.6 90 L156.4 90 L157.1 90.1 L157.9 90.1 L158.6 90.2 L159.4 90.3 L160.1 90.3 L160.9 90.4 L161.6 90.5 L162.4 90.6 L163.1 90.6 L163.9 90.7 L164.6 90.8 L165.4 90.9 L166.1 91 L166.9 91.1 L167.6 91.2 L168.4 91.3 L169.1 91.4 L169.9 91.5 L170.6 91.6 L170.6 97.8 L169.9 97.8 L169.1 97.8 L168.4 97.8 L167.6 97.8 L166.9 97.8 L166.1 97.8 L165.4 97.7 L164.6 97.6 L163.9 97.5 L163.1 97.4 L162.4 97.3 L161.6 97.2 L160.9 97.1 L160.1 97 L159.4 96.9 L158.6 96.8 L157.9 96.8 L157.1 96.7 L156.4 96.6 L155.6 96.5 L154.9 96.4 L154.1 96.4 L153.4 96.3 L152.6 96.2 L151.9 96.2 L151.1 96.1 L150.4 96.1 L149.6 96 L148.9 96 L148.1 96Z" fill="#00ffff" stroke="none" fill-opacity="0.92"/>
<path d="M210.9 100.9 L211.6 100.9 L212.4 100.9 L213.1 100.9 L213.9 100.9 L214.6 101 L215.4 100.9 L216.1 101 L216.9 101.1 L217.6 101.3 L218.4 101.6 L219.1 101.8 L219.9 102.1 L220.6 102.3 L221.4 102.6 L222.1 102.9 L222.9 103.2 L223.6 103.4 L224.4 103.7 L225.1 104 L225.9 104.4 L226.6 104.7 L227.4 105 L228.1 105.4 L228.9 105.7 L229.6 106.1 L230.4 106.5 L231.1 106.9 L231.9 107.3 L232.6 107.8 L233.4 108.3 L234.1 108.9 L234.9 109.4 L235.6 110 L236.4 110.6 L237.1 111.2 L237.9 111.8 L238.6 112.4 L239.4 113 L240.1 113.6 L240.9 114.2 L241.6 114.7 L242.4 115.3 L243.1 115.8 L243.9 116.4 L244.6 116.9 L245.4 117.5 L246.1 118.1 L246.9 118.7 L247.6 119.3 L248.4 120 L249.1 120.6 L249.9 121.3 L250.6 121.9 L251.4 122.5 L252.1 123 L252.9 123.6 L253.6 124.2 L254.4 124.8 L255.1 125.4 L255.9 126 L256.6 126.6 L257.4 127.3 L258.1 127.9 L258.9 128.6 L259.6 129.3 L260.4 130.1 L261.1 130.9 L261.9 131.8 L262.6 132.9 L263.4 133.9 L264.1 135 L264.9 135.9 L265.6 136.7 L266.4 137.3 L267.1 138 L267.9 138.7 L268.6 139.3 L269.4 140 L270.1 140.5 L270.9 139.7 L271.6 138.9 L272.4 138 L273.1 137.2 L273.9 136.3 L274.6 135.5 L275.4 135.5 L276.1 135.5 L276.9 135.4 L277.6 135.5 L278.4 135.4 L279.1 135.5 L279.9 135.4 L279.9 141.7 L279.1 142.6 L278.4 143.4 L277.6 144.3 L276.9 145.2 L276.1 146 L275.4 146.7 L274.6 147.3 L273.9 147.6 L273.1 147.7 L272.4 147.7 L271.6 147.7 L270.9 147.7 L270.1 147.7 L269.4 147.7 L268.6 147.7 L267.9 147.7 L267.1 147.7 L266.4 147.5 L265.6 147.1 L264.9 146.7 L264.1 146.2 L263.4 145.6 L262.6 144.9 L261.9 144.3 L261.1 143.6 L260.4 142.9 L259.6 142.2 L258.9 141.2 L258.1 140.2 L257.4 139.2 L256.6 138.1 L255.9 137.2 L255.1 136.3 L254.4 135.6 L253.6 134.9 L252.9 134.2 L252.1 133.5 L251.4 132.9 L250.6 132.2 L249.9 131.6 L249.1 131 L248.4 130.4 L247.6 129.8 L246.9 129.3 L246.1 128.7 L245.4 128.1 L244.6 127.5 L243.9 126.8 L243.1 126.2 L242.4 125.6 L241.6 124.9 L240.9 124.3 L240.1 123.7 L239.4 123.1 L238.6 122.6 L237.9 122 L237.1 121.5 L236.4 120.9 L235.6 120.4 L234.9 119.8 L234.1 119.2 L233.4 118.6 L232.6 118 L231.9 117.4 L231.1 116.8 L230.4 116.2 L229.6 115.6 L228.9 115.1 L228.1 114.5 L227.4 114 L226.6 113.5 L225.9 113.1 L225.1 112.6 L224.4 112.3 L223.6 111.9 L222.9 111.5 L222.1 111.2 L221.4 110.8 L220.6 110.5 L219.9 110.2 L219.1 109.9 L218.4 109.6 L217.6 109.3 L216.9 109 L216.1 108.8 L215.4 108.5 L214.6 108.2 L213.9 108 L213.1 107.7 L212.4 107.5 L211.6 107.3 L210.9 107Z" fill="#00ffff" stroke="none" fill-opacity="0.92"/>
<path d="M84.8 88.8h5.4v5.4h-5.4zM86.8 88.9h5.4v5.4h-5.4zM88.9 88.9h5.4v5.4h-5.4zM91.1 89h5.4v5.4h-5.4zM93.5 89h5.4v5.4h-5.4zM96 89.1h5.4v5.4h-5.4zM98.7 89.1h5.4v5.4h-5.4zM101.6 89.2h5.4v5.4h-5.4zM104.8 89.2h5.4v5.4h-5.4zM108.2 89.3h5.4v5.4h-5.4zM111.9 89.4h5.4v5.4h-5.4zM116 89.5h5.4v5.4h-5.4zM120.6 89.6h5.4v5.4h-5.4zM125.8 89.7h5.4v5.4h-5.4zM131.9 89.8h5.4v5.4h-5.4zM139 90h5.4v5.4h-5.4zM147.7 90.2h5.4v5.4h-5.4zM148.1 90.2h5.4v5.4h-5.4zM148.5 90.2h5.4v5.4h-5.4zM148.9 90.3h5.4v5.4h-5.4zM149.3 90.3h5.4v5.4h-5.4zM149.7 90.3h5.4v5.4h-5.4zM150.1 90.3h5.4v5.4h-5.4zM150.6 90.3h5.4v5.4h-5.4zM151 90.4h5.4v5.4h-5.4zM151.4 90.4h5.4v5.4h-5.4zM151.8 90.4h5.4v5.4h-5.4zM152.3 90.5h5.4v5.4h-5.4zM152.7 90.5h5.4v5.4h-5.4zM153.2 90.5h5.4v5.4h-5.4zM153.6 90.6h5.4v5.4h-5.4zM154.1 90.6h5.4v5.4h-5.4zM154.5 90.7h5.4v5.4h-5.4zM155 90.7h5.4v5.4h-5.4zM155.5 90.8h5.4v5.4h-5.4zM156 90.8h5.4v5.4h-5.4zM156.4 90.9h5.4v5.4h-5.4zM156.9 90.9h5.4v5.4h-5.4zM157.4 91h5.4v5.4h-5.4zM157.9 91h5.4v5.4h-5.4zM158.5 91.1h5.4v5.4h-5.4zM159 91.1h5.4v5.4h-5.4zM159.5 91.2h5.4v5.4h-5.4zM160 91.3h5.4v5.4h-5.4zM160.6 91.3h5.4v5.4h-5.4zM161.1 91.4h5.4v5.4h-5.4zM161.7 91.5h5.4v5.4h-5.4zM162.2 91.5h5.4v5.4h-5.4zM162.8 91.6h5.4v5.4h-5.4zM163.4 91.7h5.4v5.4h-5.4zM164 91.8h5.4v5.4h-5.4zM164.6 91.9h5.4v5.4h-5.4zM165.2 92h5.4v5.4h-5.4zM165.8 92h5.4v5.4h-5.4zM166.4 92.1h5.4v5.4h-5.4zM167 92.2h5.4v5.4h-5.4zM167.7 92.3h5.4v5.4h-5.4zM168.4 92.4h5.4v5.4h-5.4zM169 92.5h5.4v5.4h-5.4zM169.7 92.6h5.4v5.4h-5.4zM170.4 92.7h5.4v5.4h-5.4zM171.1 92.8h5.4v5.4h-5.4zM171.8 92.9h5.4v5.4h-5.4zM172.5 93h5.4v5.4h-5.4zM173.3 93.2h5.4v5.4h-5.4zM174.1 93.3h5.4v5.4h-5.4zM174.8 93.4h5.4v5.4h-5.4zM175.6 93.5h5.4v5.4h-5.4zM176.4 93.6h5.4v5.4h-5.4zM177.2 93.8h5.4v5.4h-5.4zM178.1 93.9h5.4v5.4h-5.4zM178.9 94.1h5.4v5.4h-5.4zM179.8 94.2h5.4v5.4h-5.4zM180.7 94.4h5.4v5.4h-5.4zM181.6 94.5h5.4v5.4h-5.4zM182.6 94.7h5.4v5.4h-5.4zM183.6 94.9h5.4v5.4h-5.4zM184.5 95.1h5.4v5.4h-5.4zM185.6 95.3h5.4v5.4h-5.4zM186.6 95.5h5.4v5.4h-5.4zM187.7 95.7h5.4v5.4h-5.4zM188.8 96h5.4v5.4h-5.4zM189.9 96.2h5.4v5.4h-5.4zM191.1 96.5h5.4v5.4h-5.4zM192.3 96.7h5.4v5.4h-5.4zM193.5 97h5.4v5.4h-5.4zM194.8 97.3h5.4v5.4h-5.4zM196.1 97.6h5.4v5.4h-5.4zM197.5 97.9h5.4v5.4h-5.4zM198.9 98.2h5.4v5.4h-5.4zM200.4 98.5h5.4v5.4h-5.4zM201.9 98.9h5.4v5.4h-5.4zM203.5 99.3h5.4v5.4h-5.4zM205.2 99.7h5.4v5.4h-5.4zM206.9 100.1h5.4v5.4h-5.4zM208.8 100.6h5.4v5.4h-5.4zM210.7 101.2h5.4v5.4h-5.4zM211.1 101.3h5.4v5.4h-5.4zM211.5 101.5h5.4v5.4h-5.4zM211.9 101.6h5.4v5.4h-5.4zM212.3 101.7h5.4v5.4h-5.4zM212.7 101.8h5.4v5.4h-5.4zM213.1 102h5.4v5.4h-5.4zM213.5 102.1h5.4v5.4h-5.4zM213.9 102.2h5.4v5.4h-5.4zM214.3 102.4h5.4v5.4h-5.4zM214.8 102.5h5.4v5.4h-5.4zM215.2 102.7h5.4v5.4h-5.4zM215.7 102.8h5.4v5.4h-5.4zM216.1 103h5.4v5.4h-5.4zM216.6 103.2h5.4v5.4h-5.4zM217 103.3h5.4v5.4h-5.4zM217.5 103.5h5.4v5.4h-5.4zM217.9 103.7h5.4v5.4h-5.4zM218.4 103.9h5.4v5.4h-5.4zM218.9 104.1h5.4v5.4h-5.4zM219.4 104.3h5.4v5.4h-5.4zM219.9 104.5h5.4v5.4h-5.4zM220.4 104.7h5.4v5.4h-5.4zM220.9 104.9h5.4v5.4h-5.4zM221.4 105.1h5.4v5.4h-5.4zM221.9 105.3h5.4v5.4h-5.4zM222.4 105.6h5.4v5.4h-5.4zM223 105.8h5.4v5.4h-5.4zM223.5 106.1h5.4v5.4h-5.4zM224.1 106.4h5.4v5.4h-5.4zM224.6 106.6h5.4v5.4h-5.4zM225.2 106.9h5.4v5.4h-5.4zM225.7 107.2h5.4v5.4h-5.4zM226.3 107.6h5.4v5.4h-5.4zM226.9 107.9h5.4v5.4h-5.4zM227.5 108.3h5.4v5.4h-5.4zM228.1 108.8h5.4v5.4h-5.4zM228.7 109.2h5.4v5.4h-5.4zM229.4 109.7h5.4v5.4h-5.4zM230 110.2h5.4v5.4h-5.4zM230.6 110.7h5.4v5.4h-5.4zM231.3 111.2h5.4v5.4h-5.4zM232 111.8h5.4v5.4h-5.4zM232.6 112.3h5.4v5.4h-5.4zM233.3 112.9h5.4v5.4h-5.4zM233.7 113.2h5.4v5.4h-5.4zM234 113.4h5.4v5.4h-5.4zM234.4 113.7h5.4v5.4h-5.4zM234.8 114h5.4v5.4h-5.4zM235.1 114.3h5.4v5.4h-5.4zM235.5 114.5h5.4v5.4h-5.4zM235.9 114.8h5.4v5.4h-5.4zM236.2 115.1h5.4v5.4h-5.4zM236.6 115.4h5.4v5.4h-5.4zM237 115.6h5.4v5.4h-5.4zM237.4 115.9h5.4v5.4h-5.4zM237.8 116.2h5.4v5.4h-5.4zM238.2 116.5h5.4v5.4h-5.4zM238.6 116.8h5.4v5.4h-5.4zM239 117.1h5.4v5.4h-5.4zM239.4 117.4h5.4v5.4h-5.4zM239.8 117.7h5.4v5.4h-5.4zM240.2 118h5.4v5.4h-5.4zM240.6 118.3h5.4v5.4h-5.4zM241 118.7h5.4v5.4h-5.4zM241.5 119h5.4v5.4h-5.4zM241.9 119.4h5.4v5.4h-5.4zM242.3 119.8h5.4v5.4h-5.4zM242.8 120.2h5.4v5.4h-5.4zM243.2 120.5h5.4v5.4h-5.4zM243.7 120.9h5.4v5.4h-5.4zM244.1 121.3h5.4v5.4h-5.4zM244.6 121.7h5.4v5.4h-5.4zM245.1 122.1h5.4v5.4h-5.4zM245.5 122.5h5.4v5.4h-5.4zM246 122.9h5.4v5.4h-5.4zM246.5 123.2h5.4v5.4h-5.4zM247 123.6h5.4v5.4h-5.4zM247.5 124h5.4v5.4h-5.4zM248 124.4h5.4v5.4h-5.4zM248.5 124.8h5.4v5.4h-5.4zM249 125.2h5.4v5.4h-5.4zM249.5 125.6h5.4v5.4h-5.4zM250.1 126h5.4v5.4h-5.4zM250.6 126.5h5.4v5.4h-5.4zM251.2 126.9h5.4v5.4h-5.4zM251.7 127.4h5.4v5.4h-5.4zM252.3 127.9h5.4v5.4h-5.4zM252.9 128.4h5.4v5.4h-5.4zM253.4 128.9h5.4v5.4h-5.4zM254 129.5h5.4v5.4h-5.4zM254.6 130.1h5.4v5.4h-5.4zM255.2 130.7h5.4v5.4h-5.4zM255.8 131.4h5.4v5.4h-5.4zM256.5 132.2h5.4v5.4h-5.4zM257.1 133.1h5.4v5.4h-5.4zM257.7 134h5.4v5.4h-5.4zM258.4 134.9h5.4v5.4h-5.4zM259.1 135.8h5.4v5.4h-5.4zM259.8 136.6h5.4v5.4h-5.4zM260.4 137.2h5.4v5.4h-5.4zM261.1 137.9h5.4v5.4h-5.4zM261.9 138.5h5.4v5.4h-5.4zM262.6 139.2h5.4v5.4h-5.4zM263.3 139.8h5.4v5.4h-5.4zM264.1 140.4h5.4v5.4h-5.4zM264.9 141h5.4v5.4h-5.4zM265.7 141.4h5.4v5.4h-5.4zM266.5 141.8h5.4v5.4h-5.4zM267.3 142h5.4v5.4h-5.4zM268.1 142h5.4v5.4h-5.4zM269 141.6h5.4v5.4h-5.4zM269.9 141h5.4v5.4h-5.4zM270.8 140.2h5.4v5.4h-5.4zM271.7 139.1h5.4v5.4h-5.4zM272.6 138h5.4v5.4h-5.4zM273.6 137h5.4v5.4h-5.4zM274.6 135.7h5.4v5.4h-5.4zM275.6 134.3h5.4v5.4h-5.4zM276.7 132.7h5.4v5.4h-5.4zM277.7 131h5.4v5.4h-5.4zM278.8 129.2h5.4v5.4h-5.4zM280 127.4h5.4v5.4h-5.4zM281.1 125.4h5.4v5.4h-5.4zM282.3 123.4h5.4v5.4h-5.4zM283.6 121.2h5.4v5.4h-5.4zM284.9 118.9h5.4v5.4h-5.4zM286.2 116.5h5.4v5.4h-5.4zM287.6 114.1h5.4v5.4h-5.4zM289 111.7h5.4v5.4h-5.4zM290.4 109.2h5.4v5.4h-5.4zM292 106.5h5.4v5.4h-5.4zM293.6 103.8h5.4v5.4h-5.4zM295.2 101.2h5.4v5.4h-5.4zM297 98.8h5.4v5.4h-5.4zM298.8 96.7h5.4v5.4h-5.4zM300.7 94.9h5.4v5.4h-5.4zM302.7 93.5h5.4v5.4h-5.4zM304.8 92.2h5.4v5.4h-5.4zM307.1 91.1h5.4v5.4h-5.4zM309.4 90.1h5.4v5.4h-5.4zM312 89.1h5.4v5.4h-5.4zM314.7 88.7h5.4v5.4h-5.4zM317.6 88.9h5.4v5.4h-5.4zM320.7 89.4h5.4v5.4h-5.4zM324.1 92h5.4v5.4h-5.4zM327.8 97h5.4v5.4h-5.4zM331.9 94h5.4v5.4h-5.4zM336.5 87.2h5.4v5.4h-5.4zM341.8 81.6h5.4v5.4h-5.4zM347.8 85.9h5.4v5.4h-5.4zM354.9 84.5h5.4v5.4h-5.4z" stroke-width="1.1"/>
<path d="M87.5 91.5h0M89.5 91.6h0M91.6 91.6h0M93.8 91.7h0M96.2 91.7h0M98.7 91.8h0M101.4 91.8h0M104.3 91.9h0M107.5 91.9h0M110.9 92h0M114.6 92.1h0M118.7 92.2h0M123.3 92.3h0M128.5 92.4h0M134.6 92.5h0M141.7 92.7h0M150.4 92.9h0M150.8 92.9h0M151.2 92.9h0M151.6 93h0M152 93h0M152.4 93h0M152.8 93h0M153.3 93h0M153.7 93.1h0M154.1 93.1h0M154.5 93.1h0M155 93.2h0M155.4 93.2h0M155.9 93.2h0M156.3 93.3h0M156.8 93.3h0M157.2 93.4h0M157.7 93.4h0M158.2 93.5h0M158.7 93.5h0M159.1 93.6h0M159.6 93.6h0M160.1 93.7h0M160.6 93.7h0M161.2 93.8h0M161.7 93.8h0M162.2 93.9h0M162.7 94h0M163.3 94h0M163.8 94.1h0M164.4 94.2h0M164.9 94.2h0M165.5 94.3h0M166.1 94.4h0M166.7 94.5h0M167.3 94.6h0M167.9 94.7h0M168.5 94.7h0M169.1 94.8h0M169.7 94.9h0M170.4 95h0M171.1 95.1h0M171.7 95.2h0M172.4 95.3h0M173.1 95.4h0M173.8 95.5h0M174.5 95.6h0M175.2 95.7h0M176 95.9h0M176.8 96h0M177.5 96.1h0M178.3 96.2h0M179.1 96.3h0M179.9 96.5h0M180.8 96.6h0M181.6 96.8h0M182.5 96.9h0M183.4 97.1h0M184.3 97.2h0M185.3 97.4h0M186.3 97.6h0M187.2 97.8h0M188.3 98h0M189.3 98.2h0M190.4 98.4h0M191.5 98.7h0M192.6 98.9h0M193.8 99.2h0M195 99.4h0M196.2 99.7h0M197.5 100h0M198.8 100.3h0M200.2 100.6h0M201.6 100.9h0M203.1 101.2h0M204.6 101.6h0M206.2 102h0M207.9 102.4h0M209.6 102.8h0M211.5 103.3h0M213.4 103.9h0M213.8 104h0M214.2 104.2h0M214.6 104.3h0M215 104.4h0M215.4 104.5h0M215.8 104.7h0M216.2 104.8h0M216.6 104.9h0M217 105.1h0M217.5 105.2h0M217.9 105.4h0M218.4 105.5h0M218.8 105.7h0M219.3 105.9h0M219.7 106h0M220.2 106.2h0M220.6 106.4h0M221.1 106.6h0M221.6 106.8h0M222.1 107h0M222.6 107.2h0M223.1 107.4h0M223.6 107.6h0M224.1 107.8h0M224.6 108h0M225.1 108.3h0M225.7 108.5h0M226.2 108.8h0M226.8 109.1h0M227.3 109.3h0M227.9 109.6h0M228.4 109.9h0M229 110.3h0M229.6 110.6h0M230.2 111h0M230.8 111.5h0M231.4 111.9h0M232.1 112.4h0M232.7 112.9h0M233.3 113.4h0M234 113.9h0M234.7 114.5h0M235.3 115h0M236 115.6h0M236.4 115.9h0M236.7 116.1h0M237.1 116.4h0M237.5 116.7h0M237.8 117h0M238.2 117.2h0M238.6 117.5h0M238.9 117.8h0M239.3 118.1h0M239.7 118.3h0M240.1 118.6h0M240.5 118.9h0M240.9 119.2h0M241.3 119.5h0M241.7 119.8h0M242.1 120.1h0M242.5 120.4h0M242.9 120.7h0M243.3 121h0M243.7 121.4h0M244.2 121.7h0M244.6 122.1h0M245 122.5h0M245.5 122.9h0M245.9 123.2h0M246.4 123.6h0M246.8 124h0M247.3 124.4h0M247.8 124.8h0M248.2 125.2h0M248.7 125.6h0M249.2 125.9h0M249.7 126.3h0M250.2 126.7h0M250.7 127.1h0M251.2 127.5h0M251.7 127.9h0M252.2 128.3h0M252.8 128.7h0M253.3 129.2h0M253.9 129.6h0M254.4 130.1h0M255 130.6h0M255.6 131.1h0M256.1 131.6h0M256.7 132.2h0M257.3 132.8h0M257.9 133.4h0M258.5 134.1h0M259.2 134.9h0M259.8 135.8h0M260.4 136.7h0M261.1 137.6h0M261.8 138.5h0M262.5 139.3h0M263.1 139.9h0M263.8 140.6h0M264.6 141.2h0M265.3 141.9h0M266 142.5h0M266.8 143.1h0M267.6 143.7h0M268.4 144.1h0M269.2 144.5h0M270 144.7h0M270.8 144.7h0M271.7 144.3h0M272.6 143.7h0M273.5 142.9h0M274.4 141.8h0M275.3 140.7h0M276.3 139.7h0M277.3 138.4h0M278.3 137h0M279.4 135.4h0M280.4 133.7h0M281.5 131.9h0M282.7 130.1h0M283.8 128.1h0M285 126.1h0M286.3 123.9h0M287.6 121.6h0M288.9 119.2h0M290.3 116.8h0M291.7 114.4h0M293.1 111.9h0M294.7 109.2h0M296.3 106.5h0M297.9 103.9h0M299.7 101.5h0M301.5 99.4h0M303.4 97.6h0M305.4 96.2h0M307.5 94.9h0M309.8 93.8h0M312.1 92.8h0M314.7 91.8h0M317.4 91.4h0M320.3 91.6h0M323.4 92.1h0M326.8 94.7h0M330.5 99.7h0M334.6 96.7h0M339.2 89.9h0M344.5 84.3h0M350.5 88.6h0M357.6 87.2h0" stroke-width="1.0" stroke-linecap="round"/>
</g>
<g stroke="#000000" fill="none">
<path clip-path="url(#c)" d="M91.6 77.2 L93.8 77.2 L96.2 77.2 L98.7 77.2 L101.4 77.2 L104.3 77.3 L107.5 77.3 L110.9 77.3 L114.6 77.4 L118.7 77.4 L123.3 77.5 L128.5 77.6 L134.6 77.9 L141.7 78.4 L150.4 79.2 L150.8 79.2 L151.2 79.3 L151.6 79.3 L152 79.4 L152.4 79.4 L152.8 79.4 L153.3 79.5 L153.7 79.5 L154.1 79.6 L154.5 79.6 L155 79.6 L155.4 79.7 L155.9 79.7 L156.3 79.8 L156.8 79.8 L157.2 79.9 L157.7 79.9 L158.2 80 L158.7 80 L159.1 80.1 L159.6 80.1 L160.1 80.2 L160.6 80.2 L161.2 80.3 L161.7 80.4 L162.2 80.4 L162.7 80.5 L163.3 80.5 L163.8 80.6 L164.4 80.7 L164.9 80.7 L165.5 80.8 L166.1 80.9 L166.7 81 L167.3 81 L167.9 81.1 L168.5 81.2 L169.1 81.3 L169.7 81.3 L170.4 81.4 L171.1 81.5 L171.7 81.6 L172.4 81.7 L173.1 81.8 L173.8 81.9 L174.5 82 L175.2 82.1 L176 82.2 L176.8 82.3 L177.5 82.4 L178.3 82.5 L179.1 82.6 L179.9 82.7 L180.8 82.8 L181.6 83 L182.5 83.1 L183.4 83.2 L184.3 83.4 L185.3 83.5 L186.3 83.6 L187.2 83.8 L188.3 84 L189.3 84.1 L190.4 84.3 L191.5 84.5 L192.6 84.7 L193.8 84.9 L195 85.2 L196.2 85.4 L197.5 85.7 L198.8 86 L200.2 86.3 L201.6 86.7 L203.1 87.1 L204.6 87.6 L206.2 88.1 L207.9 88.6 L209.6 89.2 L211.5 89.9 L213.4 90.6 L213.6 90.7 L213.8 90.8 L214 90.9 L214.2 91 L214.4 91 L214.6 91.1 L214.8 91.2 L215 91.3 L215.2 91.4 L215.4 91.5 L215.6 91.6 L215.8 91.7 L216 91.8 L216.2 91.8 L216.4 91.9 L216.6 92 L216.8 92.1 L217 92.2 L217.3 92.3 L217.5 92.4 L217.7 92.5 L217.9 92.7 L218.1 92.8 L218.4 92.9 L218.6 93 L218.8 93.1 L219 93.2 L219.3 93.3 L219.5 93.4 L219.7 93.5 L219.9 93.7 L220.2 93.8 L220.4 93.9 L220.6 94 L220.9 94.1 L221.1 94.3 L221.4 94.4 L221.6 94.5 L221.8 94.6 L222.1 94.8 L222.3 94.9 L222.6 95 L222.8 95.2 L223.1 95.3 L223.3 95.4 L223.6 95.6 L223.8 95.7 L224.1 95.9 L224.4 96 L224.6 96.1 L224.9 96.3 L225.1 96.4 L225.4 96.6 L225.7 96.7 L225.9 96.9 L226.2 97 L226.5 97.2 L226.8 97.3 L227 97.5 L227.3 97.6 L227.6 97.8 L227.9 97.9 L228.2 98.1 L228.4 98.2 L228.7 98.4 L229 98.6 L229.3 98.7 L229.6 98.9 L229.9 99.1 L230.2 99.2 L230.5 99.4 L230.8 99.6 L231.1 99.7 L231.4 99.9 L231.7 100.1 L232.1 100.3 L232.4 100.4 L232.7 100.6 L233 100.8 L233.3 101 L233.7 101.2 L234 101.4 L234.3 101.6 L234.7 101.8 L235 102 L235.3 102.2 L235.7 102.5 L236 102.7 L236.4 102.9 L236.7 103.1 L237.1 103.4 L237.5 103.6 L237.8 103.9 L238.2 104.1 L238.6 104.4 L238.9 104.7 L239.3 105 L239.7 105.3 L240.1 105.6 L240.5 105.9 L240.9 106.2 L241.3 106.5 L241.7 106.9 L242.1 107.2 L242.5 107.6 L242.9 107.9 L243.3 108.3 L243.7 108.6 L244.2 109 L244.6 109.4 L245 109.8 L245.5 110.2 L245.9 110.6 L246.4 111 L246.8 111.4 L247.3 111.8 L247.8 112.3 L248.2 112.7 L248.7 113.2 L249.2 113.6 L249.7 114.1 L250.2 114.6 L250.7 115 L251.2 115.5 L251.7 116 L252.2 116.5 L252.8 117 L253.3 117.5 L253.9 118 L254.4 118.5 L255 119 L255.6 119.5 L256.1 119.9 L256.7 120.4 L257.3 120.9 L257.9 121.4 L258.5 121.9 L259.2 122.5 L259.8 123 L260.4 123.5 L261.1 124 L261.8 124.5 L262.5 125 L263.1 125.4 L263.8 125.8 L264.6 126.2 L265.3 126.6 L266 126.9 L266.8 127.2 L267.6 127.3 L268.4 127.2 L269.2 127 L270 126.6 L270.8 126 L271.7 125.5 L272.6 124.9 L273.5 124.3 L274.4 123.5 L275.3 122.6 L276.3 121.7 L277.3 120.7 L278.3 119.7 L279.4 118.6 L280.4 117.4 L281.5 116.1 L282.7 114.7 L283.8 113.2 L285 111.5 L286.3 109.7 L287.6 107.7 L288.9 105.6 L290.3 103.5 L291.7 101.2 L293.1 99 L294.7 96.7 L296.3 94.3 L297.9 92 L299.7 89.6 L301.5 87.2 L303.4 84.9 L305.4 82.7 L307.5 80.5 L309.8 78.7 L312.1 77 L314.7 75.9 L317.4 76.2 L320.3 77.3 L323.4 79.8 L326.8 82.9 L330.5 87.6 L334.6 83.7 L339.2 76.9 L344.5 71 L350.5 75.2 L357.6 75.2" stroke-width="0.5" stroke-dasharray="3.6 2.5 8.8 3"/>
<path d="M148.9 77.4 L149.6 76.7 L150.4 76.5 L151.1 76.4 L151.9 76.5 L152.6 76.6 L153.4 76.6 L154.1 76.7 L154.9 76.8 L155.6 76.8 L156.4 76.9 L157.1 77 L157.9 77.1 L158.6 77.2 L159.4 77.2 L160.1 77.3 L160.9 77.4 L161.6 77.5 L162.4 77.6 L163.1 77.7 L163.9 77.7 L164.6 77.8 L165.4 77.9 L166.1 78 L166.9 78.1 L167.6 78.2 L168.4 78.3 L169.1 78.4 L169.9 78.8 L170.6 79.6 L170.6 82.8 L169.9 83.5 L169.1 83.9 L168.4 84 L167.6 83.9 L166.9 83.9 L166.1 83.8 L165.4 83.7 L164.6 83.6 L163.9 83.5 L163.1 83.4 L162.4 83.3 L161.6 83.2 L160.9 83.1 L160.1 83.1 L159.4 83 L158.6 82.9 L157.9 82.8 L157.1 82.7 L156.4 82.6 L155.6 82.6 L154.9 82.5 L154.1 82.4 L153.4 82.3 L152.6 82.3 L151.9 82.2 L151.1 82.1 L150.4 82 L149.6 81.8 L148.9 81.1Z" fill="#000000" stroke="none" fill-opacity="0.92"/>
<path d="M211.6 88.9 L212.4 88.2 L213.1 88 L213.9 87.9 L214.6 88.1 L215.4 88.4 L216.1 88.7 L216.9 89.1 L217.6 89.4 L218.4 89.7 L219.1 90.1 L219.9 90.5 L220.6 90.8 L221.4 91.2 L222.1 91.6 L222.9 92 L223.6 92.4 L224.4 92.8 L225.1 93.2 L225.9 93.6 L226.6 94 L227.4 94.4 L228.1 94.9 L228.9 95.3 L229.6 95.7 L230.4 96.1 L231.1 96.5 L231.9 96.9 L232.6 97.4 L233.4 97.8 L234.1 98.2 L234.9 98.7 L235.6 99.1 L236.4 99.6 L237.1 100 L237.9 100.5 L238.6 101 L239.4 101.5 L240.1 102.1 L240.9 102.6 L241.6 103.2 L242.4 103.8 L243.1 104.5 L243.9 105.1 L244.6 105.7 L245.4 106.4 L246.1 107 L246.9 107.7 L247.6 108.4 L248.4 109.1 L249.1 109.8 L249.9 110.5 L250.6 111.2 L251.4 111.9 L252.1 112.6 L252.9 113.3 L253.6 114 L254.4 114.7 L255.1 115.4 L255.9 116 L256.6 116.7 L257.4 117.4 L258.1 118 L258.9 118.6 L259.6 119.2 L260.4 119.9 L261.1 120.5 L261.9 121.1 L262.6 121.7 L263.4 122.2 L264.1 122.7 L264.9 123.1 L265.6 123.5 L266.4 124 L267.1 124.3 L267.9 124.4 L268.6 124.1 L269.4 123.7 L270.1 123.2 L270.9 122.7 L271.6 122.2 L272.4 121.6 L273.1 120.9 L273.9 120.2 L274.6 119.5 L275.4 118.8 L276.1 118.2 L276.9 117.9 L277.6 118 L278.4 118.1 L279.1 118.8 L279.1 122.8 L278.4 123.5 L277.6 124.3 L276.9 125 L276.1 125.7 L275.4 126.3 L274.6 126.9 L273.9 127.4 L273.1 127.9 L272.4 128.4 L271.6 128.9 L270.9 129.3 L270.1 129.7 L269.4 129.9 L268.6 130.1 L267.9 130.1 L267.1 130.1 L266.4 130 L265.6 129.8 L264.9 129.5 L264.1 129.1 L263.4 128.7 L262.6 128.3 L261.9 127.9 L261.1 127.4 L260.4 126.9 L259.6 126.4 L258.9 125.8 L258.1 125.2 L257.4 124.6 L256.6 123.9 L255.9 123.3 L255.1 122.7 L254.4 122.1 L253.6 121.4 L252.9 120.8 L252.1 120.1 L251.4 119.4 L250.6 118.7 L249.9 118 L249.1 117.3 L248.4 116.6 L247.6 115.9 L246.9 115.2 L246.1 114.5 L245.4 113.8 L244.6 113.1 L243.9 112.4 L243.1 111.8 L242.4 111.1 L241.6 110.4 L240.9 109.8 L240.1 109.2 L239.4 108.6 L238.6 107.9 L237.9 107.3 L237.1 106.8 L236.4 106.3 L235.6 105.7 L234.9 105.2 L234.1 104.8 L233.4 104.3 L232.6 103.8 L231.9 103.4 L231.1 103 L230.4 102.5 L229.6 102.1 L228.9 101.7 L228.1 101.3 L227.4 100.8 L226.6 100.4 L225.9 100 L225.1 99.6 L224.4 99.2 L223.6 98.8 L222.9 98.4 L222.1 98 L221.4 97.6 L220.6 97.2 L219.9 96.8 L219.1 96.4 L218.4 96 L217.6 95.6 L216.9 95.3 L216.1 94.9 L215.4 94.6 L214.6 94.2 L213.9 93.9 L213.1 93.6 L212.4 93.3 L211.6 92.6Z" fill="#000000" stroke="none" fill-opacity="0.92"/>
<path d="M89.1 77.2a2.5 2.5 0 1 0 5 0a2.5 2.5 0 1 0 -5 0M91.3 77.2a2.5 2.5 0 1 0 5 0a2.5 2.5 0 1 0 -5 0M93.7 77.2a2.5 2.5 0 1 0 5 0a2.5 2.5 0 1 0 -5 0M96.2 77.2a2.5 2.5 0 1 0 5 0a2.5 2.5 0 1 0 -5 0M98.9 77.2a2.5 2.5 0 1 0 5 0a2.5 2.5 0 1 0 -5 0M101.8 77.3a2.5 2.5 0 1 0 5 0a2.5 2.5 0 1 0 -5 0M105 77.3a2.5 2.5 0 1 0 5 0a2.5 2.5 0 1 0 -5 0M108.4 77.3a2.5 2.5 0 1 0 5 0a2.5 2.5 0 1 0 -5 0M112.1 77.4a2.5 2.5 0 1 0 5 0a2.5 2.5 0 1 0 -5 0M116.2 77.4a2.5 2.5 0 1 0 5 0a2.5 2.5 0 1 0 -5 0M120.8 77.5a2.5 2.5 0 1 0 5 0a2.5 2.5 0 1 0 -5 0M126 77.6a2.5 2.5 0 1 0 5 0a2.5 2.5 0 1 0 -5 0M132.1 77.9a2.5 2.5 0 1 0 5 0a2.5 2.5 0 1 0 -5 0M139.2 78.4a2.5 2.5 0 1 0 5 0a2.5 2.5 0 1 0 -5 0M147.9 79.2a2.5 2.5 0 1 0 5 0a2.5 2.5 0 1 0 -5 0M148.3 79.2a2.5 2.5 0 1 0 5 0a2.5 2.5 0 1 0 -5 0M148.7 79.3a2.5 2.5 0 1 0 5 0a2.5 2.5 0 1 0 -5 0M149.1 79.3a2.5 2.5 0 1 0 5 0a2.5 2.5 0 1 0 -5 0M149.5 79.4a2.5 2.5 0 1 0 5 0a2.5 2.5 0 1 0 -5 0M149.9 79.4a2.5 2.5 0 1 0 5 0a2.5 2.5 0 1 0 -5 0M150.3 79.4a2.5 2.5 0 1 0 5 0a2.5 2.5 0 1 0 -5 0M150.8 79.5a2.5 2.5 0 1 0 5 0a2.5 2.5 0 1 0 -5 0M151.2 79.5a2.5 2.5 0 1 0 5 0a2.5 2.5 0 1 0 -5 0M151.6 79.6a2.5 2.5 0 1 0 5 0a2.5 2.5 0 1 0 -5 0M152 79.6a2.5 2.5 0 1 0 5 0a2.5 2.5 0 1 0 -5 0M152.5 79.6a2.5 2.5 0 1 0 5 0a2.5 2.5 0 1 0 -5 0M152.9 79.7a2.5 2.5 0 1 0 5 0a2.5 2.5 0 1 0 -5 0M153.4 79.7a2.5 2.5 0 1 0 5 0a2.5 2.5 0 1 0 -5 0M153.8 79.8a2.5 2.5 0 1 0 5 0a2.5 2.5 0 1 0 -5 0M154.3 79.8a2.5 2.5 0 1 0 5 0a2.5 2.5 0 1 0 -5 0M154.7 79.9a2.5 2.5 0 1 0 5 0a2.5 2.5 0 1 0 -5 0M155.2 79.9a2.5 2.5 0 1 0 5 0a2.5 2.5 0 1 0 -5 0M155.7 80a2.5 2.5 0 1 0 5 0a2.5 2.5 0 1 0 -5 0M156.2 80a2.5 2.5 0 1 0 5 0a2.5 2.5 0 1 0 -5 0M156.6 80.1a2.5 2.5 0 1 0 5 0a2.5 2.5 0 1 0 -5 0M157.1 80.1a2.5 2.5 0 1 0 5 0a2.5 2.5 0 1 0 -5 0M157.6 80.2a2.5 2.5 0 1 0 5 0a2.5 2.5 0 1 0 -5 0M158.1 80.2a2.5 2.5 0 1 0 5 0a2.5 2.5 0 1 0 -5 0M158.7 80.3a2.5 2.5 0 1 0 5 0a2.5 2.5 0 1 0 -5 0M159.2 80.4a2.5 2.5 0 1 0 5 0a2.5 2.5 0 1 0 -5 0M159.7 80.4a2.5 2.5 0 1 0 5 0a2.5 2.5 0 1 0 -5 0M160.2 80.5a2.5 2.5 0 1 0 5 0a2.5 2.5 0 1 0 -5 0M160.8 80.5a2.5 2.5 0 1 0 5 0a2.5 2.5 0 1 0 -5 0M161.3 80.6a2.5 2.5 0 1 0 5 0a2.5 2.5 0 1 0 -5 0M161.9 80.7a2.5 2.5 0 1 0 5 0a2.5 2.5 0 1 0 -5 0M162.4 80.7a2.5 2.5 0 1 0 5 0a2.5 2.5 0 1 0 -5 0M163 80.8a2.5 2.5 0 1 0 5 0a2.5 2.5 0 1 0 -5 0M163.6 80.9a2.5 2.5 0 1 0 5 0a2.5 2.5 0 1 0 -5 0M164.2 81a2.5 2.5 0 1 0 5 0a2.5 2.5 0 1 0 -5 0M164.8 81a2.5 2.5 0 1 0 5 0a2.5 2.5 0 1 0 -5 0M165.4 81.1a2.5 2.5 0 1 0 5 0a2.5 2.5 0 1 0 -5 0M166 81.2a2.5 2.5 0 1 0 5 0a2.5 2.5 0 1 0 -5 0M166.6 81.3a2.5 2.5 0 1 0 5 0a2.5 2.5 0 1 0 -5 0M167.2 81.3a2.5 2.5 0 1 0 5 0a2.5 2.5 0 1 0 -5 0M167.9 81.4a2.5 2.5 0 1 0 5 0a2.5 2.5 0 1 0 -5 0M168.6 81.5a2.5 2.5 0 1 0 5 0a2.5 2.5 0 1 0 -5 0M169.2 81.6a2.5 2.5 0 1 0 5 0a2.5 2.5 0 1 0 -5 0M169.9 81.7a2.5 2.5 0 1 0 5 0a2.5 2.5 0 1 0 -5 0M170.6 81.8a2.5 2.5 0 1 0 5 0a2.5 2.5 0 1 0 -5 0M171.3 81.9a2.5 2.5 0 1 0 5 0a2.5 2.5 0 1 0 -5 0M172 82a2.5 2.5 0 1 0 5 0a2.5 2.5 0 1 0 -5 0M172.7 82.1a2.5 2.5 0 1 0 5 0a2.5 2.5 0 1 0 -5 0M173.5 82.2a2.5 2.5 0 1 0 5 0a2.5 2.5 0 1 0 -5 0M174.3 82.3a2.5 2.5 0 1 0 5 0a2.5 2.5 0 1 0 -5 0M175 82.4a2.5 2.5 0 1 0 5 0a2.5 2.5 0 1 0 -5 0M175.8 82.5a2.5 2.5 0 1 0 5 0a2.5 2.5 0 1 0 -5 0M176.6 82.6a2.5 2.5 0 1 0 5 0a2.5 2.5 0 1 0 -5 0M177.4 82.7a2.5 2.5 0 1 0 5 0a2.5 2.5 0 1 0 -5 0M178.3 82.8a2.5 2.5 0 1 0 5 0a2.5 2.5 0 1 0 -5 0M179.1 83a2.5 2.5 0 1 0 5 0a2.5 2.5 0 1 0 -5 0M180 83.1a2.5 2.5 0 1 0 5 0a2.5 2.5 0 1 0 -5 0M180.9 83.2a2.5 2.5 0 1 0 5 0a2.5 2.5 0 1 0 -5 0M181.8 83.4a2.5 2.5 0 1 0 5 0a2.5 2.5 0 1 0 -5 0M182.8 83.5a2.5 2.5 0 1 0 5 0a2.5 2.5 0 1 0 -5 0M183.8 83.6a2.5 2.5 0 1 0 5 0a2.5 2.5 0 1 0 -5 0M184.7 83.8a2.5 2.5 0 1 0 5 0a2.5 2.5 0 1 0 -5 0M185.8 84a2.5 2.5 0 1 0 5 0a2.5 2.5 0 1 0 -5 0M186.8 84.1a2.5 2.5 0 1 0 5 0a2.5 2.5 0 1 0 -5 0M187.9 84.3a2.5 2.5 0 1 0 5 0a2.5 2.5 0 1 0 -5 0M189 84.5a2.5 2.5 0 1 0 5 0a2.5 2.5 0 1 0 -5 0M190.1 84.7a2.5 2.5 0 1 0 5 0a2.5 2.5 0 1 0 -5 0M191.3 84.9a2.5 2.5 0 1 0 5 0a2.5 2.5 0 1 0 -5 0M192.5 85.2a2.5 2.5 0 1 0 5 0a2.5 2.5 0 1 0 -5 0M193.7 85.4a2.5 2.5 0 1 0 5 0a2.5 2.5 0 1 0 -5 0M195 85.7a2.5 2.5 0 1 0 5 0a2.5 2.5 0 1 0 -5 0M196.3 86a2.5 2.5 0 1 0 5 0a2.5 2.5 0 1 0 -5 0M197.7 86.3a2.5 2.5 0 1 0 5 0a2.5 2.5 0 1 0 -5 0M199.1 86.7a2.5 2.5 0 1 0 5 0a2.5 2.5 0 1 0 -5 0M200.6 87.1a2.5 2.5 0 1 0 5 0a2.5 2.5 0 1 0 -5 0M202.1 87.6a2.5 2.5 0 1 0 5 0a2.5 2.5 0 1 0 -5 0M203.7 88.1a2.5 2.5 0 1 0 5 0a2.5 2.5 0 1 0 -5 0M205.4 88.6a2.5 2.5 0 1 0 5 0a2.5 2.5 0 1 0 -5 0M207.1 89.2a2.5 2.5 0 1 0 5 0a2.5 2.5 0 1 0 -5 0M209 89.9a2.5 2.5 0 1 0 5 0a2.5 2.5 0 1 0 -5 0M210.9 90.6a2.5 2.5 0 1 0 5 0a2.5 2.5 0 1 0 -5 0M211.3 90.8a2.5 2.5 0 1 0 5 0a2.5 2.5 0 1 0 -5 0M211.7 91a2.5 2.5 0 1 0 5 0a2.5 2.5 0 1 0 -5 0M212.1 91.1a2.5 2.5 0 1 0 5 0a2.5 2.5 0 1 0 -5 0M212.5 91.3a2.5 2.5 0 1 0 5 0a2.5 2.5 0 1 0 -5 0M212.9 91.5a2.5 2.5 0 1 0 5 0a2.5 2.5 0 1 0 -5 0M213.3 91.7a2.5 2.5 0 1 0 5 0a2.5 2.5 0 1 0 -5 0M213.7 91.8a2.5 2.5 0 1 0 5 0a2.5 2.5 0 1 0 -5 0M214.1 92a2.5 2.5 0 1 0 5 0a2.5 2.5 0 1 0 -5 0M214.5 92.2a2.5 2.5 0 1 0 5 0a2.5 2.5 0 1 0 -5 0M215 92.4a2.5 2.5 0 1 0 5 0a2.5 2.5 0 1 0 -5 0M215.4 92.7a2.5 2.5 0 1 0 5 0a2.5 2.5 0 1 0 -5 0M215.9 92.9a2.5 2.5 0 1 0 5 0a2.5 2.5 0 1 0 -5 0M216.3 93.1a2.5 2.5 0 1 0 5 0a2.5 2.5 0 1 0 -5 0M216.8 93.3a2.5 2.5 0 1 0 5 0a2.5 2.5 0 1 0 -5 0M217.2 93.5a2.5 2.5 0 1 0 5 0a2.5 2.5 0 1 0 -5 0M217.7 93.8a2.5 2.5 0 1 0 5 0a2.5 2.5 0 1 0 -5 0M218.1 94a2.5 2.5 0 1 0 5 0a2.5 2.5 0 1 0 -5 0M218.6 94.3a2.5 2.5 0 1 0 5 0a2.5 2.5 0 1 0 -5 0M219.1 94.5a2.5 2.5 0 1 0 5 0a2.5 2.5 0 1 0 -5 0M219.6 94.8a2.5 2.5 0 1 0 5 0a2.5 2.5 0 1 0 -5 0M220.1 95a2.5 2.5 0 1 0 5 0a2.5 2.5 0 1 0 -5 0M220.6 95.3a2.5 2.5 0 1 0 5 0a2.5 2.5 0 1 0 -5 0M221.1 95.6a2.5 2.5 0 1 0 5 0a2.5 2.5 0 1 0 -5 0M221.6 95.9a2.5 2.5 0 1 0 5 0a2.5 2.5 0 1 0 -5 0M222.1 96.1a2.5 2.5 0 1 0 5 0a2.5 2.5 0 1 0 -5 0M222.6 96.4a2.5 2.5 0 1 0 5 0a2.5 2.5 0 1 0 -5 0M223.2 96.7a2.5 2.5 0 1 0 5 0a2.5 2.5 0 1 0 -5 0M223.7 97a2.5 2.5 0 1 0 5 0a2.5 2.5 0 1 0 -5 0M224.3 97.3a2.5 2.5 0 1 0 5 0a2.5 2.5 0 1 0 -5 0M224.8 97.6a2.5 2.5 0 1 0 5 0a2.5 2.5 0 1 0 -5 0M225.4 97.9a2.5 2.5 0 1 0 5 0a2.5 2.5 0 1 0 -5 0M225.9 98.2a2.5 2.5 0 1 0 5 0a2.5 2.5 0 1 0 -5 0M226.5 98.6a2.5 2.5 0 1 0 5 0a2.5 2.5 0 1 0 -5 0M227.1 98.9a2.5 2.5 0 1 0 5 0a2.5 2.5 0 1 0 -5 0M227.7 99.2a2.5 2.5 0 1 0 5 0a2.5 2.5 0 1 0 -5 0M228.3 99.6a2.5 2.5 0 1 0 5 0a2.5 2.5 0 1 0 -5 0M228.9 99.9a2.5 2.5 0 1 0 5 0a2.5 2.5 0 1 0 -5 0M229.6 100.3a2.5 2.5 0 1 0 5 0a2.5 2.5 0 1 0 -5 0M230.2 100.6a2.5 2.5 0 1 0 5 0a2.5 2.5 0 1 0 -5 0M230.8 101a2.5 2.5 0 1 0 5 0a2.5 2.5 0 1 0 -5 0M231.5 101.4a2.5 2.5 0 1 0 5 0a2.5 2.5 0 1 0 -5 0M232.2 101.8a2.5 2.5 0 1 0 5 0a2.5 2.5 0 1 0 -5 0M232.8 102.2a2.5 2.5 0 1 0 5 0a2.5 2.5 0 1 0 -5 0M233.5 102.7a2.5 2.5 0 1 0 5 0a2.5 2.5 0 1 0 -5 0M233.9 102.9a2.5 2.5 0 1 0 5 0a2.5 2.5 0 1 0 -5 0M234.2 103.1a2.5 2.5 0 1 0 5 0a2.5 2.5 0 1 0 -5 0M234.6 103.4a2.5 2.5 0 1 0 5 0a2.5 2.5 0 1 0 -5 0M235 103.6a2.5 2.5 0 1 0 5 0a2.5 2.5 0 1 0 -5 0M235.3 103.9a2.5 2.5 0 1 0 5 0a2.5 2.5 0 1 0 -5 0M235.7 104.1a2.5 2.5 0 1 0 5 0a2.5 2.5 0 1 0 -5 0M236.1 104.4a2.5 2.5 0 1 0 5 0a2.5 2.5 0 1 0 -5 0M236.4 104.7a2.5 2.5 0 1 0 5 0a2.5 2.5 0 1 0 -5 0M236.8 105a2.5 2.5 0 1 0 5 0a2.5 2.5 0 1 0 -5 0M237.2 105.3a2.5 2.5 0 1 0 5 0a2.5 2.5 0 1 0 -5 0M237.6 105.6a2.5 2.5 0 1 0 5 0a2.5 2.5 0 1 0 -5 0M238 105.9a2.5 2.5 0 1 0 5 0a2.5 2.5 0 1 0 -5 0M238.4 106.2a2.5 2.5 0 1 0 5 0a2.5 2.5 0 1 0 -5 0M238.8 106.5a2.5 2.5 0 1 0 5 0a2.5 2.5 0 1 0 -5 0M239.2 106.9a2.5 2.5 0 1 0 5 0a2.5 2.5 0 1 0 -5 0M239.6 107.2a2.5 2.5 0 1 0 5 0a2.5 2.5 0 1 0 -5 0M240 107.6a2.5 2.5 0 1 0 5 0a2.5 2.5 0 1 0 -5 0M240.4 107.9a2.5 2.5 0 1 0 5 0a2.5 2.5 0 1 0 -5 0M240.8 108.3a2.5 2.5 0 1 0 5 0a2.5 2.5 0 1 0 -5 0M241.2 108.6a2.5 2.5 0 1 0 5 0a2.5 2.5 0 1 0 -5 0M241.7 109a2.5 2.5 0 1 0 5 0a2.5 2.5 0 1 0 -5 0M242.1 109.4a2.5 2.5 0 1 0 5 0a2.5 2.5 0 1 0 -5 0M242.5 109.8a2.5 2.5 0 1 0 5 0a2.5 2.5 0 1 0 -5 0M243 110.2a2.5 2.5 0 1 0 5 0a2.5 2.5 0 1 0 -5 0M243.4 110.6a2.5 2.5 0 1 0 5 0a2.5 2.5 0 1 0 -5 0M243.9 111a2.5 2.5 0 1 0 5 0a2.5 2.5 0 1 0 -5 0M244.3 111.4a2.5 2.5 0 1 0 5 0a2.5 2.5 0 1 0 -5 0M244.8 111.8a2.5 2.5 0 1 0 5 0a2.5 2.5 0 1 0 -5 0M245.3 112.3a2.5 2.5 0 1 0 5 0a2.5 2.5 0 1 0 -5 0M245.7 112.7a2.5 2.5 0 1 0 5 0a2.5 2.5 0 1 0 -5 0M246.2 113.2a2.5 2.5 0 1 0 5 0a2.5 2.5 0 1 0 -5 0M246.7 113.6a2.5 2.5 0 1 0 5 0a2.5 2.5 0 1 0 -5 0M247.2 114.1a2.5 2.5 0 1 0 5 0a2.5 2.5 0 1 0 -5 0M247.7 114.6a2.5 2.5 0 1 0 5 0a2.5 2.5 0 1 0 -5 0M248.2 115a2.5 2.5 0 1 0 5 0a2.5 2.5 0 1 0 -5 0M248.7 115.5a2.5 2.5 0 1 0 5 0a2.5 2.5 0 1 0 -5 0M249.2 116a2.5 2.5 0 1 0 5 0a2.5 2.5 0 1 0 -5 0M249.7 116.5a2.5 2.5 0 1 0 5 0a2.5 2.5 0 1 0 -5 0M250.3 117a2.5 2.5 0 1 0 5 0a2.5 2.5 0 1 0 -5 0M250.8 117.5a2.5 2.5 0 1 0 5 0a2.5 2.5 0 1 0 -5 0M251.4 118a2.5 2.5 0 1 0 5 0a2.5 2.5 0 1 0 -5 0M251.9 118.5a2.5 2.5 0 1 0 5 0a2.5 2.5 0 1 0 -5 0M252.5 119a2.5 2.5 0 1 0 5 0a2.5 2.5 0 1 0 -5 0M253.1 119.5a2.5 2.5 0 1 0 5 0a2.5 2.5 0 1 0 -5 0M253.6 119.9a2.5 2.5 0 1 0 5 0a2.5 2.5 0 1 0 -5 0M254.2 120.4a2.5 2.5 0 1 0 5 0a2.5 2.5 0 1 0 -5 0M254.8 120.9a2.5 2.5 0 1 0 5 0a2.5 2.5 0 1 0 -5 0M255.4 121.4a2.5 2.5 0 1 0 5 0a2.5 2.5 0 1 0 -5 0M256 121.9a2.5 2.5 0 1 0 5 0a2.5 2.5 0 1 0 -5 0M256.7 122.5a2.5 2.5 0 1 0 5 0a2.5 2.5 0 1 0 -5 0M257.3 123a2.5 2.5 0 1 0 5 0a2.5 2.5 0 1 0 -5 0M257.9 123.5a2.5 2.5 0 1 0 5 0a2.5 2.5 0 1 0 -5 0M258.6 124a2.5 2.5 0 1 0 5 0a2.5 2.5 0 1 0 -5 0M259.3 124.5a2.5 2.5 0 1 0 5 0a2.5 2.5 0 1 0 -5 0M260 125a2.5 2.5 0 1 0 5 0a2.5 2.5 0 1 0 -5 0M260.6 125.4a2.5 2.5 0 1 0 5 0a2.5 2.5 0 1 0 -5 0M261.3 125.8a2.5 2.5 0 1 0 5 0a2.5 2.5 0 1 0 -5 0M262.1 126.2a2.5 2.5 0 1 0 5 0a2.5 2.5 0 1 0 -5 0M262.8 126.6a2.5 2.5 0 1 0 5 0a2.5 2.5 0 1 0 -5 0M263.5 126.9a2.5 2.5 0 1 0 5 0a2.5 2.5 0 1 0 -5 0M264.3 127.2a2.5 2.5 0 1 0 5 0a2.5 2.5 0 1 0 -5 0M265.1 127.3a2.5 2.5 0 1 0 5 0a2.5 2.5 0 1 0 -5 0M265.9 127.2a2.5 2.5 0 1 0 5 0a2.5 2.5 0 1 0 -5 0M266.7 127a2.5 2.5 0 1 0 5 0a2.5 2.5 0 1 0 -5 0M267.5 126.6a2.5 2.5 0 1 0 5 0a2.5 2.5 0 1 0 -5 0M268.3 126a2.5 2.5 0 1 0 5 0a2.5 2.5 0 1 0 -5 0M269.2 125.5a2.5 2.5 0 1 0 5 0a2.5 2.5 0 1 0 -5 0M270.1 124.9a2.5 2.5 0 1 0 5 0a2.5 2.5 0 1 0 -5 0M271 124.3a2.5 2.5 0 1 0 5 0a2.5 2.5 0 1 0 -5 0M271.9 123.5a2.5 2.5 0 1 0 5 0a2.5 2.5 0 1 0 -5 0M272.8 122.6a2.5 2.5 0 1 0 5 0a2.5 2.5 0 1 0 -5 0M273.8 121.7a2.5 2.5 0 1 0 5 0a2.5 2.5 0 1 0 -5 0M274.8 120.7a2.5 2.5 0 1 0 5 0a2.5 2.5 0 1 0 -5 0M275.8 119.7a2.5 2.5 0 1 0 5 0a2.5 2.5 0 1 0 -5 0M276.9 118.6a2.5 2.5 0 1 0 5 0a2.5 2.5 0 1 0 -5 0M277.9 117.4a2.5 2.5 0 1 0 5 0a2.5 2.5 0 1 0 -5 0M279 116.1a2.5 2.5 0 1 0 5 0a2.5 2.5 0 1 0 -5 0M280.2 114.7a2.5 2.5 0 1 0 5 0a2.5 2.5 0 1 0 -5 0M281.3 113.2a2.5 2.5 0 1 0 5 0a2.5 2.5 0 1 0 -5 0M282.5 111.5a2.5 2.5 0 1 0 5 0a2.5 2.5 0 1 0 -5 0M283.8 109.7a2.5 2.5 0 1 0 5 0a2.5 2.5 0 1 0 -5 0M285.1 107.7a2.5 2.5 0 1 0 5 0a2.5 2.5 0 1 0 -5 0M286.4 105.6a2.5 2.5 0 1 0 5 0a2.5 2.5 0 1 0 -5 0M287.8 103.5a2.5 2.5 0 1 0 5 0a2.5 2.5 0 1 0 -5 0M289.2 101.2a2.5 2.5 0 1 0 5 0a2.5 2.5 0 1 0 -5 0M290.6 99a2.5 2.5 0 1 0 5 0a2.5 2.5 0 1 0 -5 0M292.2 96.7a2.5 2.5 0 1 0 5 0a2.5 2.5 0 1 0 -5 0M293.8 94.3a2.5 2.5 0 1 0 5 0a2.5 2.5 0 1 0 -5 0M295.4 92a2.5 2.5 0 1 0 5 0a2.5 2.5 0 1 0 -5 0M297.2 89.6a2.5 2.5 0 1 0 5 0a2.5 2.5 0 1 0 -5 0M299 87.2a2.5 2.5 0 1 0 5 0a2.5 2.5 0 1 0 -5 0M300.9 84.9a2.5 2.5 0 1 0 5 0a2.5 2.5 0 1 0 -5 0M302.9 82.7a2.5 2.5 0 1 0 5 0a2.5 2.5 0 1 0 -5 0M305 80.5a2.5 2.5 0 1 0 5 0a2.5 2.5 0 1 0 -5 0M307.3 78.7a2.5 2.5 0 1 0 5 0a2.5 2.5 0 1 0 -5 0M309.6 77a2.5 2.5 0 1 0 5 0a2.5 2.5 0 1 0 -5 0M312.2 75.9a2.5 2.5 0 1 0 5 0a2.5 2.5 0 1 0 -5 0M314.9 76.2a2.5 2.5 0 1 0 5 0a2.5 2.5 0 1 0 -5 0M317.8 77.3a2.5 2.5 0 1 0 5 0a2.5 2.5 0 1 0 -5 0M320.9 79.8a2.5 2.5 0 1 0 5 0a2.5 2.5 0 1 0 -5 0M324.3 82.9a2.5 2.5 0 1 0 5 0a2.5 2.5 0 1 0 -5 0M328 87.6a2.5 2.5 0 1 0 5 0a2.5 2.5 0 1 0 -5 0M332.1 83.7a2.5 2.5 0 1 0 5 0a2.5 2.5 0 1 0 -5 0M336.7 76.9a2.5 2.5 0 1 0 5 0a2.5 2.5 0 1 0 -5 0M342 71a2.5 2.5 0 1 0 5 0a2.5 2.5 0 1 0 -5 0M348 75.2a2.5 2.5 0 1 0 5 0a2.5 2.5 0 1 0 -5 0M355.1 75.2a2.5 2.5 0 1 0 5 0a2.5 2.5 0 1 0 -5 0" stroke-width="0.9"/>
<path d="M91.6 77.2h0M93.8 77.2h0M96.2 77.2h0M98.7 77.2h0M101.4 77.2h0M104.3 77.3h0M107.5 77.3h0M110.9 77.3h0M114.6 77.4h0M118.7 77.4h0M123.3 77.5h0M128.5 77.6h0M134.6 77.9h0M141.7 78.4h0M150.4 79.2h0M150.8 79.2h0M151.2 79.3h0M151.6 79.3h0M152 79.4h0M152.4 79.4h0M152.8 79.4h0M153.3 79.5h0M153.7 79.5h0M154.1 79.6h0M154.5 79.6h0M155 79.6h0M155.4 79.7h0M155.9 79.7h0M156.3 79.8h0M156.8 79.8h0M157.2 79.9h0M157.7 79.9h0M158.2 80h0M158.7 80h0M159.1 80.1h0M159.6 80.1h0M160.1 80.2h0M160.6 80.2h0M161.2 80.3h0M161.7 80.4h0M162.2 80.4h0M162.7 80.5h0M163.3 80.5h0M163.8 80.6h0M164.4 80.7h0M164.9 80.7h0M165.5 80.8h0M166.1 80.9h0M166.7 81h0M167.3 81h0M167.9 81.1h0M168.5 81.2h0M169.1 81.3h0M169.7 81.3h0M170.4 81.4h0M171.1 81.5h0M171.7 81.6h0M172.4 81.7h0M173.1 81.8h0M173.8 81.9h0M174.5 82h0M175.2 82.1h0M176 82.2h0M176.8 82.3h0M177.5 82.4h0M178.3 82.5h0M179.1 82.6h0M179.9 82.7h0M180.8 82.8h0M181.6 83h0M182.5 83.1h0M183.4 83.2h0M184.3 83.4h0M185.3 83.5h0M186.3 83.6h0M187.2 83.8h0M188.3 84h0M189.3 84.1h0M190.4 84.3h0M191.5 84.5h0M192.6 84.7h0M193.8 84.9h0M195 85.2h0M196.2 85.4h0M197.5 85.7h0M198.8 86h0M200.2 86.3h0M201.6 86.7h0M203.1 87.1h0M204.6 87.6h0M206.2 88.1h0M207.9 88.6h0M209.6 89.2h0M211.5 89.9h0M213.4 90.6h0M213.8 90.8h0M214.2 91h0M214.6 91.1h0M215 91.3h0M215.4 91.5h0M215.8 91.7h0M216.2 91.8h0M216.6 92h0M217 92.2h0M217.5 92.4h0M217.9 92.7h0M218.4 92.9h0M218.8 93.1h0M219.3 93.3h0M219.7 93.5h0M220.2 93.8h0M220.6 94h0M221.1 94.3h0M221.6 94.5h0M222.1 94.8h0M222.6 95h0M223.1 95.3h0M223.6 95.6h0M224.1 95.9h0M224.6 96.1h0M225.1 96.4h0M225.7 96.7h0M226.2 97h0M226.8 97.3h0M227.3 97.6h0M227.9 97.9h0M228.4 98.2h0M229 98.6h0M229.6 98.9h0M230.2 99.2h0M230.8 99.6h0M231.4 99.9h0M232.1 100.3h0M232.7 100.6h0M233.3 101h0M234 101.4h0M234.7 101.8h0M235.3 102.2h0M236 102.7h0M236.4 102.9h0M236.7 103.1h0M237.1 103.4h0M237.5 103.6h0M237.8 103.9h0M238.2 104.1h0M238.6 104.4h0M238.9 104.7h0M239.3 105h0M239.7 105.3h0M240.1 105.6h0M240.5 105.9h0M240.9 106.2h0M241.3 106.5h0M241.7 106.9h0M242.1 107.2h0M242.5 107.6h0M242.9 107.9h0M243.3 108.3h0M243.7 108.6h0M244.2 109h0M244.6 109.4h0M245 109.8h0M245.5 110.2h0M245.9 110.6h0M246.4 111h0M246.8 111.4h0M247.3 111.8h0M247.8 112.3h0M248.2 112.7h0M248.7 113.2h0M249.2 113.6h0M249.7 114.1h0M250.2 114.6h0M250.7 115h0M251.2 115.5h0M251.7 116h0M252.2 116.5h0M252.8 117h0M253.3 117.5h0M253.9 118h0M254.4 118.5h0M255 119h0M255.6 119.5h0M256.1 119.9h0M256.7 120.4h0M257.3 120.9h0M257.9 121.4h0M258.5 121.9h0M259.2 122.5h0M259.8 123h0M260.4 123.5h0M261.1 124h0M261.8 124.5h0M262.5 125h0M263.1 125.4h0M263.8 125.8h0M264.6 126.2h0M265.3 126.6h0M266 126.9h0M266.8 127.2h0M267.6 127.3h0M268.4 127.2h0M269.2 127h0M270 126.6h0M270.8 126h0M271.7 125.5h0M272.6 124.9h0M273.5 124.3h0M274.4 123.5h0M275.3 122.6h0M276.3 121.7h0M277.3 120.7h0M278.3 119.7h0M279.4 118.6h0M280.4 117.4h0M281.5 116.1h0M282.7 114.7h0M283.8 113.2h0M285 111.5h0M286.3 109.7h0M287.6 107.7h0M288.9 105.6h0M290.3 103.5h0M291.7 101.2h0M293.1 99h0M294.7 96.7h0M296.3 94.3h0M297.9 92h0M299.7 89.6h0M301.5 87.2h0M303.4 84.9h0M305.4 82.7h0M307.5 80.5h0M309.8 78.7h0M312.1 77h0M314.7 75.9h0M317.4 76.2h0M320.3 77.3h0M323.4 79.8h0M326.8 82.9h0M330.5 87.6h0M334.6 83.7h0M339.2 76.9h0M344.5 71h0M350.5 75.2h0M357.6 75.2h0" stroke-width="1.0" stroke-linecap="round"/>
</g>
<g stroke="#a52a2a" fill="none">
<path clip-path="url(#c)" d="M87.5 67.5 L89.5 67.5 L91.6 67.5 L93.8 67.5 L96.2 67.6 L98.7 67.6 L101.4 67.6 L104.3 67.7 L107.5 67.7 L110.9 67.8 L114.6 67.9 L118.7 68 L123.3 68.1 L128.5 68.2 L134.6 68.4 L141.7 68.7 L150.4 69.2 L150.8 69.2 L151.2 69.3 L151.6 69.3 L152 69.3 L152.4 69.3 L152.8 69.4 L153.3 69.4 L153.7 69.4 L154.1 69.5 L154.5 69.5 L155 69.5 L155.4 69.5 L155.9 69.6 L156.3 69.6 L156.8 69.6 L157.2 69.7 L157.7 69.7 L158.2 69.7 L158.7 69.8 L159.1 69.8 L159.6 69.9 L160.1 69.9 L160.6 69.9 L161.2 70 L161.7 70 L162.2 70.1 L162.7 70.1 L163.3 70.2 L163.8 70.2 L164.4 70.2 L164.9 70.3 L165.5 70.4 L166.1 70.4 L166.7 70.5 L167.3 70.5 L167.9 70.6 L168.5 70.6 L169.1 70.7 L169.7 70.8 L170.4 70.8 L171.1 70.9 L171.7 71 L172.4 71 L173.1 71.1 L173.8 71.2 L174.5 71.3 L175.2 71.3 L176 71.4 L176.8 71.5 L177.5 71.6 L178.3 71.7 L179.1 71.8 L179.9 71.9 L180.8 72 L181.6 72.1 L182.5 72.2 L183.4 72.4 L184.3 72.5 L185.3 72.7 L186.3 72.9 L187.2 73.1 L188.3 73.3 L189.3 73.5 L190.4 73.7 L191.5 73.9 L192.6 74.1 L193.8 74.4 L195 74.6 L196.2 74.9 L197.5 75.2 L198.8 75.6 L200.2 75.9 L201.6 76.3 L203.1 76.7 L204.6 77.2 L206.2 77.7 L207.9 78.3 L209.6 79 L211.5 79.7 L213.4 80.4 L213.6 80.5 L213.8 80.6 L214 80.7 L214.2 80.7 L214.4 80.8 L214.6 80.9 L214.8 81 L215 81 L215.2 81.1 L215.4 81.2 L215.6 81.3 L215.8 81.3 L216 81.4 L216.2 81.5 L216.4 81.5 L216.6 81.6 L216.8 81.7 L217 81.7 L217.3 81.8 L217.5 81.9 L217.7 81.9 L217.9 82 L218.1 82.1 L218.4 82.1 L218.6 82.2 L218.8 82.3 L219 82.4 L219.3 82.4 L219.5 82.5 L219.7 82.6 L219.9 82.6 L220.2 82.7 L220.4 82.8 L220.6 82.9 L220.9 83 L221.1 83.1 L221.4 83.1 L221.6 83.2 L221.8 83.3 L222.1 83.4 L222.3 83.5 L222.6 83.7 L222.8 83.8 L223.1 83.9 L223.3 84 L223.6 84.2 L223.8 84.3 L224.1 84.5 L224.4 84.6 L224.6 84.8 L224.9 84.9 L225.1 85.1 L225.4 85.3 L225.7 85.4 L225.9 85.6 L226.2 85.8 L226.5 85.9 L226.8 86.1 L227 86.3 L227.3 86.5 L227.6 86.6 L227.9 86.8 L228.2 87 L228.4 87.2 L228.7 87.3 L229 87.5 L229.3 87.7 L229.6 87.9 L229.9 88.1 L230.2 88.2 L230.5 88.4 L230.8 88.6 L231.1 88.8 L231.4 89 L231.7 89.2 L232.1 89.4 L232.4 89.6 L232.7 89.8 L233 90 L233.3 90.2 L233.7 90.4 L234 90.6 L234.3 90.9 L234.7 91.1 L235 91.3 L235.3 91.5 L235.7 91.8 L236 92 L236.4 92.3 L236.7 92.5 L237.1 92.8 L237.5 93 L237.8 93.3 L238.2 93.6 L238.6 93.8 L238.9 94.1 L239.3 94.4 L239.7 94.7 L240.1 95 L240.5 95.3 L240.9 95.6 L241.3 95.9 L241.7 96.2 L242.1 96.5 L242.5 96.8 L242.9 97.2 L243.3 97.5 L243.7 97.9 L244.2 98.2 L244.6 98.6 L245 99 L245.5 99.4 L245.9 99.8 L246.4 100.3 L246.8 100.7 L247.3 101.1 L247.8 101.6 L248.2 102 L248.7 102.4 L249.2 102.8 L249.7 103.3 L250.2 103.6 L250.7 104 L251.2 104.4 L251.7 104.8 L252.2 105.2 L252.8 105.6 L253.3 106 L253.9 106.3 L254.4 106.7 L255 107 L255.6 107.4 L256.1 107.7 L256.7 108 L257.3 108.3 L257.9 108.6 L258.5 108.9 L259.2 109.2 L259.8 109.5 L260.4 109.8 L261.1 110 L261.8 110.1 L262.5 110.2 L263.1 110.2 L263.8 110.1 L264.6 110 L265.3 109.9 L266 109.8 L266.8 109.6 L267.6 109.4 L268.4 109.2 L269.2 108.9 L270 108.4 L270.8 107.9 L271.7 107.4 L272.6 106.8 L273.5 106.2 L274.4 105.6 L275.3 104.9 L276.3 104.1 L277.3 103.3 L278.3 102.5 L279.4 101.6 L280.4 100.7 L281.5 99.7 L282.7 98.6 L283.8 97.5 L285 96.3 L286.3 95 L287.6 93.5 L288.9 91.9 L290.3 90.1 L291.7 88.2 L293.1 86.4 L294.7 84.6 L296.3 82.8 L297.9 81 L299.7 79.2 L301.5 77.3 L303.4 75.3 L305.4 73.2 L307.5 71.2 L309.8 69.4 L312.1 67.8 L314.7 66.3 L317.4 65.3 L320.3 65.6 L323.4 67.2 L326.8 71.3 L330.5 76.8 L334.6 75 L339.2 68.3 L344.5 60.7 L350.5 65.1 L357.6 66.3" stroke-width="0.5" stroke-dasharray="2.2 2.6"/>
<path d="M148.1 70.2 L148.9 69.2 L149.6 67.8 L150.4 66.8 L151.1 65.9 L151.9 65.9 L152.6 66 L153.4 66 L154.1 66.1 L154.9 66.1 L155.6 66.2 L156.4 66.2 L157.1 66.3 L157.9 66.3 L158.6 66.4 L159.4 66.5 L160.1 66.5 L160.9 66.6 L161.6 66.6 L162.4 66.7 L163.1 66.8 L163.9 66.8 L164.6 66.9 L165.4 67 L166.1 67 L166.9 67.1 L167.6 67.2 L168.4 67.2 L169.1 68.3 L169.9 69.7 L170.6 70.8 L170.6 72.3 L169.9 72.3 L169.1 72.3 L168.4 72.3 L167.6 72.3 L166.9 72.3 L166.1 72.3 L165.4 72.3 L164.6 72.2 L163.9 72.1 L163.1 72.1 L162.4 72 L161.6 71.9 L160.9 71.9 L160.1 71.8 L159.4 71.8 L158.6 71.7 L157.9 71.6 L157.1 71.6 L156.4 71.5 L155.6 71.5 L154.9 71.4 L154.1 71.3 L153.4 71.3 L152.6 71.2 L151.9 71.2 L151.1 71.1 L150.4 71.1 L149.6 71 L148.9 71 L148.1 70.9Z" fill="#a52a2a" stroke="none" fill-opacity="0.92"/>
<path d="M210.9 81.5 L211.6 80.4 L212.4 79.1 L213.1 78 L213.9 77.2 L214.6 77.5 L215.4 77.8 L216.1 78.1 L216.9 78.3 L217.6 78.5 L218.4 78.8 L219.1 79 L219.9 79.2 L220.6 79.5 L221.4 79.8 L222.1 80.1 L222.9 80.4 L223.6 80.8 L224.4 81.2 L225.1 81.7 L225.9 82.2 L226.6 82.7 L227.4 83.1 L228.1 83.6 L228.9 84 L229.6 84.5 L230.4 85 L231.1 85.4 L231.9 85.9 L232.6 86.4 L233.4 86.9 L234.1 87.3 L234.9 87.8 L235.6 88.4 L236.4 88.9 L237.1 89.4 L237.9 89.9 L238.6 90.5 L239.4 91 L240.1 91.6 L240.9 92.2 L241.6 92.8 L242.4 93.4 L243.1 94 L243.9 94.6 L244.6 95.3 L245.4 96 L246.1 96.7 L246.9 97.4 L247.6 98.1 L248.4 98.7 L249.1 99.4 L249.9 100 L250.6 100.6 L251.4 101.2 L252.1 101.7 L252.9 102.3 L253.6 102.8 L254.4 103.3 L255.1 103.7 L255.9 104.2 L256.6 104.5 L257.4 104.9 L258.1 105.3 L258.9 105.7 L259.6 106.1 L260.4 106.4 L261.1 106.6 L261.9 106.8 L262.6 106.8 L263.4 106.8 L264.1 106.7 L264.9 106.6 L265.6 106.5 L266.4 106.3 L267.1 106.2 L267.9 106 L268.6 105.7 L269.4 105.4 L270.1 105 L270.9 104.5 L271.6 104.1 L272.4 103.6 L273.1 103.1 L273.9 102.6 L274.6 102.1 L275.4 101.5 L276.1 100.9 L276.9 100.3 L277.6 100.7 L278.4 101.7 L279.1 103.1 L279.9 104.1 L279.9 105.1 L279.1 105.7 L278.4 106.3 L277.6 106.9 L276.9 107.5 L276.1 108 L275.4 108.5 L274.6 108.9 L273.9 109.4 L273.1 109.9 L272.4 110.3 L271.6 110.7 L270.9 111 L270.1 111.2 L269.4 111.3 L268.6 111.5 L267.9 111.7 L267.1 111.8 L266.4 111.9 L265.6 111.9 L264.9 111.9 L264.1 111.9 L263.4 111.9 L262.6 111.9 L261.9 111.9 L261.1 111.9 L260.4 111.9 L259.6 111.9 L258.9 111.8 L258.1 111.6 L257.4 111.3 L256.6 111 L255.9 110.6 L255.1 110.3 L254.4 109.9 L253.6 109.5 L252.9 109.1 L252.1 108.6 L251.4 108.2 L250.6 107.7 L249.9 107.1 L249.1 106.6 L248.4 106 L247.6 105.4 L246.9 104.8 L246.1 104.2 L245.4 103.6 L244.6 102.9 L243.9 102.2 L243.1 101.4 L242.4 100.8 L241.6 100.1 L240.9 99.4 L240.1 98.8 L239.4 98.2 L238.6 97.6 L237.9 97 L237.1 96.5 L236.4 95.9 L235.6 95.3 L234.9 94.8 L234.1 94.3 L233.4 93.7 L232.6 93.2 L231.9 92.7 L231.1 92.2 L230.4 91.7 L229.6 91.3 L228.9 90.8 L228.1 90.3 L227.4 89.9 L226.6 89.4 L225.9 88.9 L225.1 88.5 L224.4 88 L223.6 87.5 L222.9 87.1 L222.1 86.6 L221.4 86.1 L220.6 85.7 L219.9 85.4 L219.1 85 L218.4 84.7 L217.6 84.5 L216.9 84.2 L216.1 84 L215.4 83.8 L214.6 83.5 L213.9 83.3 L213.1 83 L212.4 82.8 L211.6 82.5 L210.9 82.2Z" fill="#a52a2a" stroke="none" fill-opacity="0.92"/>
<path d="M87.5 64.5l-2.7 4.4h5.4zM89.5 64.5l-2.7 4.4h5.4zM91.6 64.5l-2.7 4.4h5.4zM93.8 64.5l-2.7 4.4h5.4zM96.2 64.5l-2.7 4.4h5.4zM98.7 64.6l-2.7 4.4h5.4zM101.4 64.6l-2.7 4.4h5.4zM104.3 64.6l-2.7 4.4h5.4zM107.5 64.7l-2.7 4.4h5.4zM110.9 64.8l-2.7 4.4h5.4zM114.6 64.8l-2.7 4.4h5.4zM118.7 64.9l-2.7 4.4h5.4zM123.3 65.1l-2.7 4.4h5.4zM128.5 65.2l-2.7 4.4h5.4zM134.6 65.4l-2.7 4.4h5.4zM141.7 65.7l-2.7 4.4h5.4zM150.4 66.2l-2.7 4.4h5.4zM150.8 66.2l-2.7 4.4h5.4zM151.2 66.2l-2.7 4.4h5.4zM151.6 66.3l-2.7 4.4h5.4zM152 66.3l-2.7 4.4h5.4zM152.4 66.3l-2.7 4.4h5.4zM152.8 66.4l-2.7 4.4h5.4zM153.3 66.4l-2.7 4.4h5.4zM153.7 66.4l-2.7 4.4h5.4zM154.1 66.4l-2.7 4.4h5.4zM154.5 66.5l-2.7 4.4h5.4zM155 66.5l-2.7 4.4h5.4zM155.4 66.5l-2.7 4.4h5.4zM155.9 66.6l-2.7 4.4h5.4zM156.3 66.6l-2.7 4.4h5.4zM156.8 66.6l-2.7 4.4h5.4zM157.2 66.7l-2.7 4.4h5.4zM157.7 66.7l-2.7 4.4h5.4zM158.2 66.7l-2.7 4.4h5.4zM158.7 66.8l-2.7 4.4h5.4zM159.1 66.8l-2.7 4.4h5.4zM159.6 66.8l-2.7 4.4h5.4zM160.1 66.9l-2.7 4.4h5.4zM160.6 66.9l-2.7 4.4h5.4zM161.2 67l-2.7 4.4h5.4zM161.7 67l-2.7 4.4h5.4zM162.2 67l-2.7 4.4h5.4zM162.7 67.1l-2.7 4.4h5.4zM163.3 67.1l-2.7 4.4h5.4zM163.8 67.2l-2.7 4.4h5.4zM164.4 67.2l-2.7 4.4h5.4zM164.9 67.3l-2.7 4.4h5.4zM165.5 67.3l-2.7 4.4h5.4zM166.1 67.4l-2.7 4.4h5.4zM166.7 67.4l-2.7 4.4h5.4zM167.3 67.5l-2.7 4.4h5.4zM167.9 67.5l-2.7 4.4h5.4zM168.5 67.6l-2.7 4.4h5.4zM169.1 67.7l-2.7 4.4h5.4zM169.7 67.7l-2.7 4.4h5.4zM170.4 67.8l-2.7 4.4h5.4zM171.1 67.9l-2.7 4.4h5.4zM171.7 67.9l-2.7 4.4h5.4zM172.4 68l-2.7 4.4h5.4zM173.1 68.1l-2.7 4.4h5.4zM173.8 68.2l-2.7 4.4h5.4zM174.5 68.2l-2.7 4.4h5.4zM175.2 68.3l-2.7 4.4h5.4zM176 68.4l-2.7 4.4h5.4zM176.8 68.5l-2.7 4.4h5.4zM177.5 68.6l-2.7 4.4h5.4zM178.3 68.7l-2.7 4.4h5.4zM179.1 68.8l-2.7 4.4h5.4zM179.9 68.9l-2.7 4.4h5.4zM180.8 69l-2.7 4.4h5.4zM181.6 69.1l-2.7 4.4h5.4zM182.5 69.2l-2.7 4.4h5.4zM183.4 69.4l-2.7 4.4h5.4zM184.3 69.5l-2.7 4.4h5.4zM185.3 69.7l-2.7 4.4h5.4zM186.3 69.8l-2.7 4.4h5.4zM187.2 70l-2.7 4.4h5.4zM188.3 70.2l-2.7 4.4h5.4zM189.3 70.4l-2.7 4.4h5.4zM190.4 70.6l-2.7 4.4h5.4zM191.5 70.9l-2.7 4.4h5.4zM192.6 71.1l-2.7 4.4h5.4zM193.8 71.4l-2.7 4.4h5.4zM195 71.6l-2.7 4.4h5.4zM196.2 71.9l-2.7 4.4h5.4zM197.5 72.2l-2.7 4.4h5.4zM198.8 72.5l-2.7 4.4h5.4zM200.2 72.9l-2.7 4.4h5.4zM201.6 73.3l-2.7 4.4h5.4zM203.1 73.7l-2.7 4.4h5.4zM204.6 74.2l-2.7 4.4h5.4zM206.2 74.7l-2.7 4.4h5.4zM207.9 75.3l-2.7 4.4h5.4zM209.6 76l-2.7 4.4h5.4zM211.5 76.7l-2.7 4.4h5.4zM213.4 77.4l-2.7 4.4h5.4zM213.8 77.6l-2.7 4.4h5.4zM214.2 77.7l-2.7 4.4h5.4zM214.6 77.9l-2.7 4.4h5.4zM215 78l-2.7 4.4h5.4zM215.4 78.2l-2.7 4.4h5.4zM215.8 78.3l-2.7 4.4h5.4zM216.2 78.4l-2.7 4.4h5.4zM216.6 78.6l-2.7 4.4h5.4zM217 78.7l-2.7 4.4h5.4zM217.5 78.9l-2.7 4.4h5.4zM217.9 79l-2.7 4.4h5.4zM218.4 79.1l-2.7 4.4h5.4zM218.8 79.3l-2.7 4.4h5.4zM219.3 79.4l-2.7 4.4h5.4zM219.7 79.5l-2.7 4.4h5.4zM220.2 79.7l-2.7 4.4h5.4zM220.6 79.9l-2.7 4.4h5.4zM221.1 80l-2.7 4.4h5.4zM221.6 80.2l-2.7 4.4h5.4zM222.1 80.4l-2.7 4.4h5.4zM222.6 80.6l-2.7 4.4h5.4zM223.1 80.9l-2.7 4.4h5.4zM223.6 81.2l-2.7 4.4h5.4zM224.1 81.4l-2.7 4.4h5.4zM224.6 81.8l-2.7 4.4h5.4zM225.1 82.1l-2.7 4.4h5.4zM225.7 82.4l-2.7 4.4h5.4zM226.2 82.7l-2.7 4.4h5.4zM226.8 83.1l-2.7 4.4h5.4zM227.3 83.4l-2.7 4.4h5.4zM227.9 83.8l-2.7 4.4h5.4zM228.4 84.1l-2.7 4.4h5.4zM229 84.5l-2.7 4.4h5.4zM229.6 84.9l-2.7 4.4h5.4zM230.2 85.2l-2.7 4.4h5.4zM230.8 85.6l-2.7 4.4h5.4zM231.4 86l-2.7 4.4h5.4zM232.1 86.4l-2.7 4.4h5.4zM232.7 86.8l-2.7 4.4h5.4zM233.3 87.2l-2.7 4.4h5.4zM234 87.6l-2.7 4.4h5.4zM234.7 88.1l-2.7 4.4h5.4zM235.3 88.5l-2.7 4.4h5.4zM236 89l-2.7 4.4h5.4zM236.4 89.2l-2.7 4.4h5.4zM236.7 89.5l-2.7 4.4h5.4zM237.1 89.7l-2.7 4.4h5.4zM237.5 90l-2.7 4.4h5.4zM237.8 90.3l-2.7 4.4h5.4zM238.2 90.5l-2.7 4.4h5.4zM238.6 90.8l-2.7 4.4h5.4zM238.9 91.1l-2.7 4.4h5.4zM239.3 91.4l-2.7 4.4h5.4zM239.7 91.7l-2.7 4.4h5.4zM240.1 91.9l-2.7 4.4h5.4zM240.5 92.2l-2.7 4.4h5.4zM240.9 92.5l-2.7 4.4h5.4zM241.3 92.9l-2.7 4.4h5.4zM241.7 93.2l-2.7 4.4h5.4zM242.1 93.5l-2.7 4.4h5.4zM242.5 93.8l-2.7 4.4h5.4zM242.9 94.2l-2.7 4.4h5.4zM243.3 94.5l-2.7 4.4h5.4zM243.7 94.9l-2.7 4.4h5.4zM244.2 95.2l-2.7 4.4h5.4zM244.6 95.6l-2.7 4.4h5.4zM245 96l-2.7 4.4h5.4zM245.5 96.4l-2.7 4.4h5.4zM245.9 96.8l-2.7 4.4h5.4zM246.4 97.3l-2.7 4.4h5.4zM246.8 97.7l-2.7 4.4h5.4zM247.3 98.1l-2.7 4.4h5.4zM247.8 98.6l-2.7 4.4h5.4zM248.2 99l-2.7 4.4h5.4zM248.7 99.4l-2.7 4.4h5.4zM249.2 99.8l-2.7 4.4h5.4zM249.7 100.2l-2.7 4.4h5.4zM250.2 100.6l-2.7 4.4h5.4zM250.7 101l-2.7 4.4h5.4zM251.2 101.4l-2.7 4.4h5.4zM251.7 101.8l-2.7 4.4h5.4zM252.2 102.2l-2.7 4.4h5.4zM252.8 102.6l-2.7 4.4h5.4zM253.3 102.9l-2.7 4.4h5.4zM253.9 103.3l-2.7 4.4h5.4zM254.4 103.7l-2.7 4.4h5.4zM255 104l-2.7 4.4h5.4zM255.6 104.3l-2.7 4.4h5.4zM256.1 104.6l-2.7 4.4h5.4zM256.7 104.9l-2.7 4.4h5.4zM257.3 105.3l-2.7 4.4h5.4zM257.9 105.6l-2.7 4.4h5.4zM258.5 105.9l-2.7 4.4h5.4zM259.2 106.2l-2.7 4.4h5.4zM259.8 106.5l-2.7 4.4h5.4zM260.4 106.8l-2.7 4.4h5.4zM261.1 107l-2.7 4.4h5.4zM261.8 107.1l-2.7 4.4h5.4zM262.5 107.2l-2.7 4.4h5.4zM263.1 107.2l-2.7 4.4h5.4zM263.8 107.1l-2.7 4.4h5.4zM264.6 107l-2.7 4.4h5.4zM265.3 106.9l-2.7 4.4h5.4zM266 106.8l-2.7 4.4h5.4zM266.8 106.6l-2.7 4.4h5.4zM267.6 106.4l-2.7 4.4h5.4zM268.4 106.2l-2.7 4.4h5.4zM269.2 105.8l-2.7 4.4h5.4zM270 105.4l-2.7 4.4h5.4zM270.8 104.9l-2.7 4.4h5.4zM271.7 104.4l-2.7 4.4h5.4zM272.6 103.8l-2.7 4.4h5.4zM273.5 103.2l-2.7 4.4h5.4zM274.4 102.6l-2.7 4.4h5.4zM275.3 101.9l-2.7 4.4h5.4zM276.3 101.1l-2.7 4.4h5.4zM277.3 100.3l-2.7 4.4h5.4zM278.3 99.4l-2.7 4.4h5.4zM279.4 98.6l-2.7 4.4h5.4zM280.4 97.6l-2.7 4.4h5.4zM281.5 96.7l-2.7 4.4h5.4zM282.7 95.6l-2.7 4.4h5.4zM283.8 94.5l-2.7 4.4h5.4zM285 93.3l-2.7 4.4h5.4zM286.3 92l-2.7 4.4h5.4zM287.6 90.5l-2.7 4.4h5.4zM288.9 88.9l-2.7 4.4h5.4zM290.3 87.1l-2.7 4.4h5.4zM291.7 85.2l-2.7 4.4h5.4zM293.1 83.3l-2.7 4.4h5.4zM294.7 81.5l-2.7 4.4h5.4zM296.3 79.8l-2.7 4.4h5.4zM297.9 78l-2.7 4.4h5.4zM299.7 76.2l-2.7 4.4h5.4zM301.5 74.3l-2.7 4.4h5.4zM303.4 72.3l-2.7 4.4h5.4zM305.4 70.2l-2.7 4.4h5.4zM307.5 68.2l-2.7 4.4h5.4zM309.8 66.4l-2.7 4.4h5.4zM312.1 64.8l-2.7 4.4h5.4zM314.7 63.3l-2.7 4.4h5.4zM317.4 62.2l-2.7 4.4h5.4zM320.3 62.6l-2.7 4.4h5.4zM323.4 64.2l-2.7 4.4h5.4zM326.8 68.3l-2.7 4.4h5.4zM330.5 73.8l-2.7 4.4h5.4zM334.6 72l-2.7 4.4h5.4zM339.2 65.3l-2.7 4.4h5.4zM344.5 57.7l-2.7 4.4h5.4zM350.5 62.1l-2.7 4.4h5.4zM357.6 63.3l-2.7 4.4h5.4z" stroke-width="1.0"/>
<path d="M87.5 67.5h0M89.5 67.5h0M91.6 67.5h0M93.8 67.5h0M96.2 67.6h0M98.7 67.6h0M101.4 67.6h0M104.3 67.7h0M107.5 67.7h0M110.9 67.8h0M114.6 67.9h0M118.7 68h0M123.3 68.1h0M128.5 68.2h0M134.6 68.4h0M141.7 68.7h0M150.4 69.2h0M150.8 69.2h0M151.2 69.3h0M151.6 69.3h0M152 69.3h0M152.4 69.3h0M152.8 69.4h0M153.3 69.4h0M153.7 69.4h0M154.1 69.5h0M154.5 69.5h0M155 69.5h0M155.4 69.5h0M155.9 69.6h0M156.3 69.6h0M156.8 69.6h0M157.2 69.7h0M157.7 69.7h0M158.2 69.7h0M158.7 69.8h0M159.1 69.8h0M159.6 69.9h0M160.1 69.9h0M160.6 69.9h0M161.2 70h0M161.7 70h0M162.2 70.1h0M162.7 70.1h0M163.3 70.2h0M163.8 70.2h0M164.4 70.2h0M164.9 70.3h0M165.5 70.4h0M166.1 70.4h0M166.7 70.5h0M167.3 70.5h0M167.9 70.6h0M168.5 70.6h0M169.1 70.7h0M169.7 70.8h0M170.4 70.8h0M171.1 70.9h0M171.7 71h0M172.4 71h0M173.1 71.1h0M173.8 71.2h0M174.5 71.3h0M175.2 71.3h0M176 71.4h0M176.8 71.5h0M177.5 71.6h0M178.3 71.7h0M179.1 71.8h0M179.9 71.9h0M180.8 72h0M181.6 72.1h0M182.5 72.2h0M183.4 72.4h0M184.3 72.5h0M185.3 72.7h0M186.3 72.9h0M187.2 73.1h0M188.3 73.3h0M189.3 73.5h0M190.4 73.7h0M191.5 73.9h0M192.6 74.1h0M193.8 74.4h0M195 74.6h0M196.2 74.9h0M197.5 75.2h0M198.8 75.6h0M200.2 75.9h0M201.6 76.3h0M203.1 76.7h0M204.6 77.2h0M206.2 77.7h0M207.9 78.3h0M209.6 79h0M211.5 79.7h0M213.4 80.4h0M213.8 80.6h0M214.2 80.7h0M214.6 80.9h0M215 81h0M215.4 81.2h0M215.8 81.3h0M216.2 81.5h0M216.6 81.6h0M217 81.7h0M217.5 81.9h0M217.9 82h0M218.4 82.1h0M218.8 82.3h0M219.3 82.4h0M219.7 82.6h0M220.2 82.7h0M220.6 82.9h0M221.1 83.1h0M221.6 83.2h0M222.1 83.4h0M222.6 83.7h0M223.1 83.9h0M223.6 84.2h0M224.1 84.5h0M224.6 84.8h0M225.1 85.1h0M225.7 85.4h0M226.2 85.8h0M226.8 86.1h0M227.3 86.5h0M227.9 86.8h0M228.4 87.2h0M229 87.5h0M229.6 87.9h0M230.2 88.2h0M230.8 88.6h0M231.4 89h0M232.1 89.4h0M232.7 89.8h0M233.3 90.2h0M234 90.6h0M234.7 91.1h0M235.3 91.5h0M236 92h0M236.4 92.3h0M236.7 92.5h0M237.1 92.8h0M237.5 93h0M237.8 93.3h0M238.2 93.6h0M238.6 93.8h0M238.9 94.1h0M239.3 94.4h0M239.7 94.7h0M240.1 95h0M240.5 95.3h0M240.9 95.6h0M241.3 95.9h0M241.7 96.2h0M242.1 96.5h0M242.5 96.8h0M242.9 97.2h0M243.3 97.5h0M243.7 97.9h0M244.2 98.2h0M244.6 98.6h0M245 99h0M245.5 99.4h0M245.9 99.8h0M246.4 100.3h0M246.8 100.7h0M247.3 101.1h0M247.8 101.6h0M248.2 102h0M248.7 102.4h0M249.2 102.8h0M249.7 103.3h0M250.2 103.6h0M250.7 104h0M251.2 104.4h0M251.7 104.8h0M252.2 105.2h0M252.8 105.6h0M253.3 106h0M253.9 106.3h0M254.4 106.7h0M255 107h0M255.6 107.4h0M256.1 107.7h0M256.7 108h0M257.3 108.3h0M257.9 108.6h0M258.5 108.9h0M259.2 109.2h0M259.8 109.5h0M260.4 109.8h0M261.1 110h0M261.8 110.1h0M262.5 110.2h0M263.1 110.2h0M263.8 110.1h0M264.6 110h0M265.3 109.9h0M266 109.8h0M266.8 109.6h0M267.6 109.4h0M268.4 109.2h0M269.2 108.9h0M270 108.4h0M270.8 107.9h0M271.7 107.4h0M272.6 106.8h0M273.5 106.2h0M274.4 105.6h0M275.3 104.9h0M276.3 104.1h0M277.3 103.3h0M278.3 102.5h0M279.4 101.6h0M280.4 100.7h0M281.5 99.7h0M282.7 98.6h0M283.8 97.5h0M285 96.3h0M286.3 95h0M287.6 93.5h0M288.9 91.9h0M290.3 90.1h0M291.7 88.2h0M293.1 86.4h0M294.7 84.6h0M296.3 82.8h0M297.9 81h0M299.7 79.2h0M301.5 77.3h0M303.4 75.3h0M305.4 73.2h0M307.5 71.2h0M309.8 69.4h0M312.1 67.8h0M314.7 66.3h0M317.4 65.3h0M320.3 65.6h0M323.4 67.2h0M326.8 71.3h0M330.5 76.8h0M334.6 75h0M339.2 68.3h0M344.5 60.7h0M350.5 65.1h0M357.6 66.3h0" stroke-width="1.0" stroke-linecap="round"/>
</g>
<g stroke="#ff4500" fill="none">
<path clip-path="url(#c)" d="M87.5 59.2 L89.5 59.2 L91.6 59.2 L93.8 59.2 L96.2 59.2 L98.7 59.3 L101.4 59.3 L104.3 59.3 L107.5 59.4 L110.9 59.4 L114.6 59.5 L118.7 59.6 L123.3 59.7 L128.5 59.8 L134.6 60 L141.7 60.2 L150.4 60.6 L150.8 60.6 L151.2 60.7 L151.6 60.7 L152 60.7 L152.4 60.7 L152.8 60.7 L153.3 60.8 L153.7 60.8 L154.1 60.8 L154.5 60.8 L155 60.9 L155.4 60.9 L155.9 60.9 L156.3 60.9 L156.8 61 L157.2 61 L157.7 61 L158.2 61.1 L158.7 61.1 L159.1 61.1 L159.6 61.1 L160.1 61.2 L160.6 61.2 L161.2 61.3 L161.7 61.3 L162.2 61.3 L162.7 61.4 L163.3 61.4 L163.8 61.4 L164.4 61.5 L164.9 61.5 L165.5 61.6 L166.1 61.6 L166.7 61.7 L167.3 61.7 L167.9 61.8 L168.5 61.8 L169.1 61.9 L169.7 62 L170.4 62 L171.1 62.1 L171.7 62.2 L172.4 62.2 L173.1 62.3 L173.8 62.4 L174.5 62.5 L175.2 62.6 L176 62.6 L176.8 62.7 L177.5 62.8 L178.3 62.9 L179.1 63.1 L179.9 63.3 L180.8 63.4 L181.6 63.6 L182.5 63.8 L183.4 63.9 L184.3 64.1 L185.3 64.2 L186.3 64.4 L187.2 64.6 L188.3 64.8 L189.3 65 L190.4 65.2 L191.5 65.4 L192.6 65.6 L193.8 65.9 L195 66.2 L196.2 66.5 L197.5 66.8 L198.8 67.1 L200.2 67.5 L201.6 67.8 L203.1 68.2 L204.6 68.7 L206.2 69.2 L207.9 69.7 L209.6 70.3 L211.5 70.9 L213.4 71.6 L213.6 71.6 L213.8 71.7 L214 71.8 L214.2 71.8 L214.4 71.9 L214.6 72 L214.8 72.1 L215 72.1 L215.2 72.2 L215.4 72.3 L215.6 72.4 L215.8 72.4 L216 72.5 L216.2 72.6 L216.4 72.6 L216.6 72.7 L216.8 72.8 L217 72.9 L217.3 72.9 L217.5 73 L217.7 73.1 L217.9 73.1 L218.1 73.2 L218.4 73.3 L218.6 73.3 L218.8 73.4 L219 73.5 L219.3 73.6 L219.5 73.6 L219.7 73.7 L219.9 73.8 L220.2 73.9 L220.4 74 L220.6 74 L220.9 74.1 L221.1 74.2 L221.4 74.3 L221.6 74.4 L221.8 74.5 L222.1 74.6 L222.3 74.8 L222.6 74.9 L222.8 75 L223.1 75.2 L223.3 75.3 L223.6 75.5 L223.8 75.6 L224.1 75.8 L224.4 75.9 L224.6 76.1 L224.9 76.3 L225.1 76.5 L225.4 76.7 L225.7 76.9 L225.9 77.1 L226.2 77.2 L226.5 77.4 L226.8 77.6 L227 77.8 L227.3 78 L227.6 78.2 L227.9 78.4 L228.2 78.6 L228.4 78.8 L228.7 79 L229 79.2 L229.3 79.4 L229.6 79.6 L229.9 79.8 L230.2 80 L230.5 80.2 L230.8 80.4 L231.1 80.6 L231.4 80.8 L231.7 81.1 L232.1 81.3 L232.4 81.5 L232.7 81.7 L233 81.9 L233.3 82.2 L233.7 82.4 L234 82.6 L234.3 82.8 L234.7 83 L235 83.3 L235.3 83.5 L235.7 83.7 L236 83.9 L236.4 84.2 L236.7 84.4 L237.1 84.6 L237.5 84.8 L237.8 85.1 L238.2 85.3 L238.6 85.6 L238.9 85.8 L239.3 86 L239.7 86.3 L240.1 86.6 L240.5 86.8 L240.9 87.1 L241.3 87.3 L241.7 87.6 L242.1 87.9 L242.5 88.2 L242.9 88.5 L243.3 88.7 L243.7 89 L244.2 89.3 L244.6 89.6 L245 90 L245.5 90.3 L245.9 90.6 L246.4 90.9 L246.8 91.3 L247.3 91.6 L247.8 92 L248.2 92.3 L248.7 92.6 L249.2 93 L249.7 93.3 L250.2 93.6 L250.7 93.9 L251.2 94.2 L251.7 94.5 L252.2 94.8 L252.8 95.1 L253.3 95.4 L253.9 95.8 L254.4 96.1 L255 96.4 L255.6 96.7 L256.1 97 L256.7 97.2 L257.3 97.4 L257.9 97.6 L258.5 97.7 L259.2 97.7 L259.8 97.7 L260.4 97.6 L261.1 97.6 L261.8 97.5 L262.5 97.3 L263.1 97.2 L263.8 97 L264.6 96.9 L265.3 96.7 L266 96.5 L266.8 96.2 L267.6 95.9 L268.4 95.5 L269.2 95.1 L270 94.6 L270.8 94.1 L271.7 93.5 L272.6 93 L273.5 92.6 L274.4 92.1 L275.3 91.6 L276.3 91.1 L277.3 90.5 L278.3 89.9 L279.4 89.2 L280.4 88.4 L281.5 87.5 L282.7 86.4 L283.8 85.3 L285 84.1 L286.3 82.9 L287.6 81.7 L288.9 80.4 L290.3 79 L291.7 77.6 L293.1 76.1 L294.7 74.5 L296.3 72.8 L297.9 71 L299.7 69.4 L301.5 67.9 L303.4 66.2 L305.4 64.1 L307.5 61.8 L309.8 59.7 L312.1 57.9 L314.7 56.7 L317.4 55.9 L320.3 56.5 L323.4 58.5 L326.8 62.6 L330.5 66.2 L334.6 66.2 L339.2 59.2 L344.5 52.6 L350.5 56.3 L357.6 58.9" stroke-width="0.5" stroke-dasharray="0.8 1.2 0.8 2.6"/>
<path d="M148.1 58.9 L148.9 58.9 L149.6 58.9 L150.4 58.9 L151.1 58.9 L151.9 58.9 L152.6 58.9 L153.4 58.9 L154.1 59 L154.9 59 L155.6 59 L156.4 59.1 L157.1 59.1 L157.9 59.2 L158.6 59.2 L159.4 59.3 L160.1 59.3 L160.9 59.4 L161.6 59.4 L162.4 59.4 L163.1 59.5 L163.9 59.6 L164.6 59.6 L165.4 59.7 L166.1 59.7 L166.9 59.8 L167.6 59.8 L168.4 59.9 L169.1 60 L169.9 60 L170.6 60.1 L170.6 61.7 L169.9 62.8 L169.1 64.1 L168.4 65.2 L167.6 65.1 L166.9 65.1 L166.1 65 L165.4 64.9 L164.6 64.9 L163.9 64.8 L163.1 64.8 L162.4 64.7 L161.6 64.7 L160.9 64.6 L160.1 64.6 L159.4 64.5 L158.6 64.5 L157.9 64.4 L157.1 64.4 L156.4 64.3 L155.6 64.3 L154.9 64.2 L154.1 64.2 L153.4 64.1 L152.6 64.1 L151.9 64.1 L151.1 64 L150.4 63.1 L149.6 62 L148.9 60.7 L148.1 59.6Z" fill="#ff4500" stroke="none" fill-opacity="0.92"/>
<path d="M210.9 69.9 L211.6 70 L212.4 69.9 L213.1 70 L213.9 69.9 L214.6 70 L215.4 70 L216.1 70 L216.9 70.1 L217.6 70.4 L218.4 70.7 L219.1 70.9 L219.9 71.2 L220.6 71.4 L221.4 71.7 L222.1 71.9 L222.9 72.2 L223.6 72.4 L224.4 72.7 L225.1 73.1 L225.9 73.5 L226.6 74 L227.4 74.5 L228.1 75 L228.9 75.5 L229.6 76 L230.4 76.6 L231.1 77.1 L231.9 77.6 L232.6 78.1 L233.4 78.6 L234.1 79.1 L234.9 79.6 L235.6 80.2 L236.4 80.7 L237.1 81.2 L237.9 81.7 L238.6 82.1 L239.4 82.6 L240.1 83.1 L240.9 83.6 L241.6 84.1 L242.4 84.6 L243.1 85.1 L243.9 85.6 L244.6 86.1 L245.4 86.6 L246.1 87.1 L246.9 87.6 L247.6 88.2 L248.4 88.7 L249.1 89.3 L249.9 89.8 L250.6 90.4 L251.4 90.9 L252.1 91.4 L252.9 91.9 L253.6 92.3 L254.4 92.7 L255.1 93.2 L255.9 93.6 L256.6 94.1 L257.4 94.5 L258.1 94.9 L258.9 95.3 L259.6 95.6 L260.4 95.5 L261.1 95.4 L261.9 95.2 L262.6 95 L263.4 94.8 L264.1 94.5 L264.9 94.2 L265.6 93.8 L266.4 93.4 L267.1 93 L267.9 92.5 L268.6 92.1 L269.4 91.6 L270.1 91.2 L270.9 90.8 L271.6 90.4 L272.4 90 L273.1 89.6 L273.9 89.2 L274.6 88.9 L275.4 88.8 L276.1 88.8 L276.9 88.8 L277.6 88.8 L278.4 88.8 L279.1 88.8 L279.9 88.8 L279.9 89.7 L279.1 90.8 L278.4 92.1 L277.6 93.3 L276.9 94.1 L276.1 94.5 L275.4 94.9 L274.6 95.3 L273.9 95.7 L273.1 96.1 L272.4 96.5 L271.6 97 L270.9 97.4 L270.1 97.9 L269.4 98.3 L268.6 98.8 L267.9 99.2 L267.1 99.5 L266.4 99.8 L265.6 100 L264.9 100.2 L264.1 100.4 L263.4 100.5 L262.6 100.7 L261.9 100.8 L261.1 100.9 L260.4 101 L259.6 101.1 L258.9 101.1 L258.1 101 L257.4 100.8 L256.6 100.5 L255.9 100.2 L255.1 99.8 L254.4 99.4 L253.6 99 L252.9 98.5 L252.1 98.1 L251.4 97.6 L250.6 97.2 L249.9 96.8 L249.1 96.3 L248.4 95.8 L247.6 95.2 L246.9 94.7 L246.1 94.1 L245.4 93.6 L244.6 93 L243.9 92.5 L243.1 92 L242.4 91.5 L241.6 91 L240.9 90.4 L240.1 89.9 L239.4 89.4 L238.6 89 L237.9 88.5 L237.1 88 L236.4 87.5 L235.6 87 L234.9 86.5 L234.1 86 L233.4 85.5 L232.6 85 L231.9 84.5 L231.1 84 L230.4 83.5 L229.6 83 L228.9 82.5 L228.1 81.9 L227.4 81.4 L226.6 80.9 L225.9 80.4 L225.1 79.8 L224.4 79.3 L223.6 78.8 L222.9 78.4 L222.1 78 L221.4 77.7 L220.6 77.4 L219.9 77.1 L219.1 76.9 L218.4 76.6 L217.6 76.4 L216.9 76.2 L216.1 75.9 L215.4 75.6 L214.6 75.4 L213.9 75.1 L213.1 74.2 L212.4 73 L211.6 71.8 L210.9 70.6Z" fill="#ff4500" stroke="none" fill-opacity="0.92"/>
<path d="M87.5 62.2l-2.7 -4.4h5.4zM89.5 62.2l-2.7 -4.4h5.4zM91.6 62.2l-2.7 -4.4h5.4zM93.8 62.3l-2.7 -4.4h5.4zM96.2 62.3l-2.7 -4.4h5.4zM98.7 62.3l-2.7 -4.4h5.4zM101.4 62.3l-2.7 -4.4h5.4zM104.3 62.4l-2.7 -4.4h5.4zM107.5 62.4l-2.7 -4.4h5.4zM110.9 62.5l-2.7 -4.4h5.4zM114.6 62.5l-2.7 -4.4h5.4zM118.7 62.6l-2.7 -4.4h5.4zM123.3 62.7l-2.7 -4.4h5.4zM128.5 62.8l-2.7 -4.4h5.4zM134.6 63l-2.7 -4.4h5.4zM141.7 63.3l-2.7 -4.4h5.4zM150.4 63.6l-2.7 -4.4h5.4zM150.8 63.7l-2.7 -4.4h5.4zM151.2 63.7l-2.7 -4.4h5.4zM151.6 63.7l-2.7 -4.4h5.4zM152 63.7l-2.7 -4.4h5.4zM152.4 63.7l-2.7 -4.4h5.4zM152.8 63.8l-2.7 -4.4h5.4zM153.3 63.8l-2.7 -4.4h5.4zM153.7 63.8l-2.7 -4.4h5.4zM154.1 63.8l-2.7 -4.4h5.4zM154.5 63.9l-2.7 -4.4h5.4zM155 63.9l-2.7 -4.4h5.4zM155.4 63.9l-2.7 -4.4h5.4zM155.9 63.9l-2.7 -4.4h5.4zM156.3 64l-2.7 -4.4h5.4zM156.8 64l-2.7 -4.4h5.4zM157.2 64l-2.7 -4.4h5.4zM157.7 64l-2.7 -4.4h5.4zM158.2 64.1l-2.7 -4.4h5.4zM158.7 64.1l-2.7 -4.4h5.4zM159.1 64.1l-2.7 -4.4h5.4zM159.6 64.2l-2.7 -4.4h5.4zM160.1 64.2l-2.7 -4.4h5.4zM160.6 64.2l-2.7 -4.4h5.4zM161.2 64.3l-2.7 -4.4h5.4zM161.7 64.3l-2.7 -4.4h5.4zM162.2 64.3l-2.7 -4.4h5.4zM162.7 64.4l-2.7 -4.4h5.4zM163.3 64.4l-2.7 -4.4h5.4zM163.8 64.5l-2.7 -4.4h5.4zM164.4 64.5l-2.7 -4.4h5.4zM164.9 64.6l-2.7 -4.4h5.4zM165.5 64.6l-2.7 -4.4h5.4zM166.1 64.7l-2.7 -4.4h5.4zM166.7 64.7l-2.7 -4.4h5.4zM167.3 64.8l-2.7 -4.4h5.4zM167.9 64.8l-2.7 -4.4h5.4zM168.5 64.9l-2.7 -4.4h5.4zM169.1 64.9l-2.7 -4.4h5.4zM169.7 65l-2.7 -4.4h5.4zM170.4 65l-2.7 -4.4h5.4zM171.1 65.1l-2.7 -4.4h5.4zM171.7 65.2l-2.7 -4.4h5.4zM172.4 65.3l-2.7 -4.4h5.4zM173.1 65.3l-2.7 -4.4h5.4zM173.8 65.4l-2.7 -4.4h5.4zM174.5 65.5l-2.7 -4.4h5.4zM175.2 65.6l-2.7 -4.4h5.4zM176 65.7l-2.7 -4.4h5.4zM176.8 65.8l-2.7 -4.4h5.4zM177.5 65.9l-2.7 -4.4h5.4zM178.3 66l-2.7 -4.4h5.4zM179.1 66.1l-2.7 -4.4h5.4zM179.9 66.3l-2.7 -4.4h5.4zM180.8 66.5l-2.7 -4.4h5.4zM181.6 66.6l-2.7 -4.4h5.4zM182.5 66.8l-2.7 -4.4h5.4zM183.4 66.9l-2.7 -4.4h5.4zM184.3 67.1l-2.7 -4.4h5.4zM185.3 67.3l-2.7 -4.4h5.4zM186.3 67.4l-2.7 -4.4h5.4zM187.2 67.6l-2.7 -4.4h5.4zM188.3 67.8l-2.7 -4.4h5.4zM189.3 68l-2.7 -4.4h5.4zM190.4 68.2l-2.7 -4.4h5.4zM191.5 68.4l-2.7 -4.4h5.4zM192.6 68.7l-2.7 -4.4h5.4zM193.8 68.9l-2.7 -4.4h5.4zM195 69.2l-2.7 -4.4h5.4zM196.2 69.5l-2.7 -4.4h5.4zM197.5 69.8l-2.7 -4.4h5.4zM198.8 70.1l-2.7 -4.4h5.4zM200.2 70.5l-2.7 -4.4h5.4zM201.6 70.9l-2.7 -4.4h5.4zM203.1 71.3l-2.7 -4.4h5.4zM204.6 71.7l-2.7 -4.4h5.4zM206.2 72.2l-2.7 -4.4h5.4zM207.9 72.7l-2.7 -4.4h5.4zM209.6 73.3l-2.7 -4.4h5.4zM211.5 73.9l-2.7 -4.4h5.4zM213.4 74.6l-2.7 -4.4h5.4zM213.8 74.7l-2.7 -4.4h5.4zM214.2 74.9l-2.7 -4.4h5.4zM214.6 75l-2.7 -4.4h5.4zM215 75.2l-2.7 -4.4h5.4zM215.4 75.3l-2.7 -4.4h5.4zM215.8 75.4l-2.7 -4.4h5.4zM216.2 75.6l-2.7 -4.4h5.4zM216.6 75.7l-2.7 -4.4h5.4zM217 75.9l-2.7 -4.4h5.4zM217.5 76l-2.7 -4.4h5.4zM217.9 76.2l-2.7 -4.4h5.4zM218.4 76.3l-2.7 -4.4h5.4zM218.8 76.4l-2.7 -4.4h5.4zM219.3 76.6l-2.7 -4.4h5.4zM219.7 76.7l-2.7 -4.4h5.4zM220.2 76.9l-2.7 -4.4h5.4zM220.6 77.1l-2.7 -4.4h5.4zM221.1 77.2l-2.7 -4.4h5.4zM221.6 77.4l-2.7 -4.4h5.4zM222.1 77.7l-2.7 -4.4h5.4zM222.6 77.9l-2.7 -4.4h5.4zM223.1 78.2l-2.7 -4.4h5.4zM223.6 78.5l-2.7 -4.4h5.4zM224.1 78.8l-2.7 -4.4h5.4zM224.6 79.1l-2.7 -4.4h5.4zM225.1 79.5l-2.7 -4.4h5.4zM225.7 79.9l-2.7 -4.4h5.4zM226.2 80.3l-2.7 -4.4h5.4zM226.8 80.7l-2.7 -4.4h5.4zM227.3 81.1l-2.7 -4.4h5.4zM227.9 81.4l-2.7 -4.4h5.4zM228.4 81.8l-2.7 -4.4h5.4zM229 82.2l-2.7 -4.4h5.4zM229.6 82.6l-2.7 -4.4h5.4zM230.2 83l-2.7 -4.4h5.4zM230.8 83.4l-2.7 -4.4h5.4zM231.4 83.9l-2.7 -4.4h5.4zM232.1 84.3l-2.7 -4.4h5.4zM232.7 84.7l-2.7 -4.4h5.4zM233.3 85.2l-2.7 -4.4h5.4zM234 85.6l-2.7 -4.4h5.4zM234.7 86.1l-2.7 -4.4h5.4zM235.3 86.5l-2.7 -4.4h5.4zM236 87l-2.7 -4.4h5.4zM236.4 87.2l-2.7 -4.4h5.4zM236.7 87.4l-2.7 -4.4h5.4zM237.1 87.6l-2.7 -4.4h5.4zM237.5 87.9l-2.7 -4.4h5.4zM237.8 88.1l-2.7 -4.4h5.4zM238.2 88.3l-2.7 -4.4h5.4zM238.6 88.6l-2.7 -4.4h5.4zM238.9 88.8l-2.7 -4.4h5.4zM239.3 89.1l-2.7 -4.4h5.4zM239.7 89.3l-2.7 -4.4h5.4zM240.1 89.6l-2.7 -4.4h5.4zM240.5 89.8l-2.7 -4.4h5.4zM240.9 90.1l-2.7 -4.4h5.4zM241.3 90.4l-2.7 -4.4h5.4zM241.7 90.6l-2.7 -4.4h5.4zM242.1 90.9l-2.7 -4.4h5.4zM242.5 91.2l-2.7 -4.4h5.4zM242.9 91.5l-2.7 -4.4h5.4zM243.3 91.8l-2.7 -4.4h5.4zM243.7 92.1l-2.7 -4.4h5.4zM244.2 92.4l-2.7 -4.4h5.4zM244.6 92.7l-2.7 -4.4h5.4zM245 93l-2.7 -4.4h5.4zM245.5 93.3l-2.7 -4.4h5.4zM245.9 93.6l-2.7 -4.4h5.4zM246.4 94l-2.7 -4.4h5.4zM246.8 94.3l-2.7 -4.4h5.4zM247.3 94.7l-2.7 -4.4h5.4zM247.8 95l-2.7 -4.4h5.4zM248.2 95.3l-2.7 -4.4h5.4zM248.7 95.7l-2.7 -4.4h5.4zM249.2 96l-2.7 -4.4h5.4zM249.7 96.3l-2.7 -4.4h5.4zM250.2 96.6l-2.7 -4.4h5.4zM250.7 96.9l-2.7 -4.4h5.4zM251.2 97.2l-2.7 -4.4h5.4zM251.7 97.5l-2.7 -4.4h5.4zM252.2 97.8l-2.7 -4.4h5.4zM252.8 98.1l-2.7 -4.4h5.4zM253.3 98.5l-2.7 -4.4h5.4zM253.9 98.8l-2.7 -4.4h5.4zM254.4 99.1l-2.7 -4.4h5.4zM255 99.4l-2.7 -4.4h5.4zM255.6 99.7l-2.7 -4.4h5.4zM256.1 100l-2.7 -4.4h5.4zM256.7 100.2l-2.7 -4.4h5.4zM257.3 100.4l-2.7 -4.4h5.4zM257.9 100.6l-2.7 -4.4h5.4zM258.5 100.7l-2.7 -4.4h5.4zM259.2 100.7l-2.7 -4.4h5.4zM259.8 100.7l-2.7 -4.4h5.4zM260.4 100.7l-2.7 -4.4h5.4zM261.1 100.6l-2.7 -4.4h5.4zM261.8 100.5l-2.7 -4.4h5.4zM262.5 100.4l-2.7 -4.4h5.4zM263.1 100.2l-2.7 -4.4h5.4zM263.8 100.1l-2.7 -4.4h5.4zM264.6 99.9l-2.7 -4.4h5.4zM265.3 99.7l-2.7 -4.4h5.4zM266 99.5l-2.7 -4.4h5.4zM266.8 99.3l-2.7 -4.4h5.4zM267.6 98.9l-2.7 -4.4h5.4zM268.4 98.5l-2.7 -4.4h5.4zM269.2 98.1l-2.7 -4.4h5.4zM270 97.6l-2.7 -4.4h5.4zM270.8 97.1l-2.7 -4.4h5.4zM271.7 96.6l-2.7 -4.4h5.4zM272.6 96.1l-2.7 -4.4h5.4zM273.5 95.6l-2.7 -4.4h5.4zM274.4 95.1l-2.7 -4.4h5.4zM275.3 94.6l-2.7 -4.4h5.4zM276.3 94.1l-2.7 -4.4h5.4zM277.3 93.5l-2.7 -4.4h5.4zM278.3 92.9l-2.7 -4.4h5.4zM279.4 92.2l-2.7 -4.4h5.4zM280.4 91.4l-2.7 -4.4h5.4zM281.5 90.5l-2.7 -4.4h5.4zM282.7 89.5l-2.7 -4.4h5.4zM283.8 88.3l-2.7 -4.4h5.4zM285 87.2l-2.7 -4.4h5.4zM286.3 85.9l-2.7 -4.4h5.4zM287.6 84.7l-2.7 -4.4h5.4zM288.9 83.4l-2.7 -4.4h5.4zM290.3 82l-2.7 -4.4h5.4zM291.7 80.6l-2.7 -4.4h5.4zM293.1 79.1l-2.7 -4.4h5.4zM294.7 77.5l-2.7 -4.4h5.4zM296.3 75.8l-2.7 -4.4h5.4zM297.9 74.1l-2.7 -4.4h5.4zM299.7 72.4l-2.7 -4.4h5.4zM301.5 70.9l-2.7 -4.4h5.4zM303.4 69.2l-2.7 -4.4h5.4zM305.4 67.1l-2.7 -4.4h5.4zM307.5 64.8l-2.7 -4.4h5.4zM309.8 62.7l-2.7 -4.4h5.4zM312.1 60.9l-2.7 -4.4h5.4zM314.7 59.7l-2.7 -4.4h5.4zM317.4 59l-2.7 -4.4h5.4zM320.3 59.5l-2.7 -4.4h5.4zM323.4 61.5l-2.7 -4.4h5.4zM326.8 65.6l-2.7 -4.4h5.4zM330.5 69.2l-2.7 -4.4h5.4zM334.6 69.2l-2.7 -4.4h5.4zM339.2 62.2l-2.7 -4.4h5.4zM344.5 55.6l-2.7 -4.4h5.4zM350.5 59.3l-2.7 -4.4h5.4zM357.6 61.9l-2.7 -4.4h5.4z" stroke-width="1.0"/>
<path d="M87.5 59.2h0M89.5 59.2h0M91.6 59.2h0M93.8 59.2h0M96.2 59.2h0M98.7 59.3h0M101.4 59.3h0M104.3 59.3h0M107.5 59.4h0M110.9 59.4h0M114.6 59.5h0M118.7 59.6h0M123.3 59.7h0M128.5 59.8h0M134.6 60h0M141.7 60.2h0M150.4 60.6h0M150.8 60.6h0M151.2 60.7h0M151.6 60.7h0M152 60.7h0M152.4 60.7h0M152.8 60.7h0M153.3 60.8h0M153.7 60.8h0M154.1 60.8h0M154.5 60.8h0M155 60.9h0M155.4 60.9h0M155.9 60.9h0M156.3 60.9h0M156.8 61h0M157.2 61h0M157.7 61h0M158.2 61.1h0M158.7 61.1h0M159.1 61.1h0M159.6 61.1h0M160.1 61.2h0M160.6 61.2h0M161.2 61.3h0M161.7 61.3h0M162.2 61.3h0M162.7 61.4h0M163.3 61.4h0M163.8 61.4h0M164.4 61.5h0M164.9 61.5h0M165.5 61.6h0M166.1 61.6h0M166.7 61.7h0M167.3 61.7h0M167.9 61.8h0M168.5 61.8h0M169.1 61.9h0M169.7 62h0M170.4 62h0M171.1 62.1h0M171.7 62.2h0M172.4 62.2h0M173.1 62.3h0M173.8 62.4h0M174.5 62.5h0M175.2 62.6h0M176 62.6h0M176.8 62.7h0M177.5 62.8h0M178.3 62.9h0M179.1 63.1h0M179.9 63.3h0M180.8 63.4h0M181.6 63.6h0M182.5 63.8h0M183.4 63.9h0M184.3 64.1h0M185.3 64.2h0M186.3 64.4h0M187.2 64.6h0M188.3 64.8h0M189.3 65h0M190.4 65.2h0M191.5 65.4h0M192.6 65.6h0M193.8 65.9h0M195 66.2h0M196.2 66.5h0M197.5 66.8h0M198.8 67.1h0M200.2 67.5h0M201.6 67.8h0M203.1 68.2h0M204.6 68.7h0M206.2 69.2h0M207.9 69.7h0M209.6 70.3h0M211.5 70.9h0M213.4 71.6h0M213.8 71.7h0M214.2 71.8h0M214.6 72h0M215 72.1h0M215.4 72.3h0M215.8 72.4h0M216.2 72.6h0M216.6 72.7h0M217 72.9h0M217.5 73h0M217.9 73.1h0M218.4 73.3h0M218.8 73.4h0M219.3 73.6h0M219.7 73.7h0M220.2 73.9h0M220.6 74h0M221.1 74.2h0M221.6 74.4h0M222.1 74.6h0M222.6 74.9h0M223.1 75.2h0M223.6 75.5h0M224.1 75.8h0M224.6 76.1h0M225.1 76.5h0M225.7 76.9h0M226.2 77.2h0M226.8 77.6h0M227.3 78h0M227.9 78.4h0M228.4 78.8h0M229 79.2h0M229.6 79.6h0M230.2 80h0M230.8 80.4h0M231.4 80.8h0M232.1 81.3h0M232.7 81.7h0M233.3 82.2h0M234 82.6h0M234.7 83h0M235.3 83.5h0M236 83.9h0M236.4 84.2h0M236.7 84.4h0M237.1 84.6h0M237.5 84.8h0M237.8 85.1h0M238.2 85.3h0M238.6 85.6h0M238.9 85.8h0M239.3 86h0M239.7 86.3h0M240.1 86.6h0M240.5 86.8h0M240.9 87.1h0M241.3 87.3h0M241.7 87.6h0M242.1 87.9h0M242.5 88.2h0M242.9 88.5h0M243.3 88.7h0M243.7 89h0M244.2 89.3h0M244.6 89.6h0M245 90h0M245.5 90.3h0M245.9 90.6h0M246.4 90.9h0M246.8 91.3h0M247.3 91.6h0M247.8 92h0M248.2 92.3h0M248.7 92.6h0M249.2 93h0M249.7 93.3h0M250.2 93.6h0M250.7 93.9h0M251.2 94.2h0M251.7 94.5h0M252.2 94.8h0M252.8 95.1h0M253.3 95.4h0M253.9 95.8h0M254.4 96.1h0M255 96.4h0M255.6 96.7h0M256.1 97h0M256.7 97.2h0M257.3 97.4h0M257.9 97.6h0M258.5 97.7h0M259.2 97.7h0M259.8 97.7h0M260.4 97.6h0M261.1 97.6h0M261.8 97.5h0M262.5 97.3h0M263.1 97.2h0M263.8 97h0M264.6 96.9h0M265.3 96.7h0M266 96.5h0M266.8 96.2h0M267.6 95.9h0M268.4 95.5h0M269.2 95.1h0M270 94.6h0M270.8 94.1h0M271.7 93.5h0M272.6 93h0M273.5 92.6h0M274.4 92.1h0M275.3 91.6h0M276.3 91.1h0M277.3 90.5h0M278.3 89.9h0M279.4 89.2h0M280.4 88.4h0M281.5 87.5h0M282.7 86.4h0M283.8 85.3h0M285 84.1h0M286.3 82.9h0M287.6 81.7h0M288.9 80.4h0M290.3 79h0M291.7 77.6h0M293.1 76.1h0M294.7 74.5h0M296.3 72.8h0M297.9 71h0M299.7 69.4h0M301.5 67.9h0M303.4 66.2h0M305.4 64.1h0M307.5 61.8h0M309.8 59.7h0M312.1 57.9h0M314.7 56.7h0M317.4 55.9h0M320.3 56.5h0M323.4 58.5h0M326.8 62.6h0M330.5 66.2h0M334.6 66.2h0M339.2 59.2h0M344.5 52.6h0M350.5 56.3h0M357.6 58.9h0" stroke-width="1.0" stroke-linecap="round"/>
</g>
<g stroke="#808080" fill="none">
<path clip-path="url(#c)" d="M87.5 52.6 L89.5 52.6 L91.6 52.6 L93.8 52.6 L96.2 52.6 L98.7 52.6 L101.4 52.7 L104.3 52.7 L107.5 52.7 L110.9 52.8 L114.6 52.8 L118.7 52.9 L123.3 52.9 L128.5 53 L134.6 53.1 L141.7 53.3 L150.4 53.6 L150.8 53.6 L151.2 53.7 L151.6 53.7 L152 53.7 L152.4 53.7 L152.8 53.7 L153.3 53.8 L153.7 53.8 L154.1 53.8 L154.5 53.9 L155 53.9 L155.4 53.9 L155.9 54 L156.3 54 L156.8 54 L157.2 54.1 L157.7 54.1 L158.2 54.1 L158.7 54.2 L159.1 54.2 L159.6 54.3 L160.1 54.3 L160.6 54.4 L161.2 54.4 L161.7 54.5 L162.2 54.5 L162.7 54.6 L163.3 54.6 L163.8 54.7 L164.4 54.8 L164.9 54.8 L165.5 54.9 L166.1 55 L166.7 55 L167.3 55.1 L167.9 55.2 L168.5 55.3 L169.1 55.3 L169.7 55.4 L170.4 55.5 L171.1 55.6 L171.7 55.7 L172.4 55.8 L173.1 55.8 L173.8 55.9 L174.5 56 L175.2 56.1 L176 56.2 L176.8 56.3 L177.5 56.4 L178.3 56.5 L179.1 56.7 L179.9 56.8 L180.8 56.9 L181.6 57 L182.5 57.2 L183.4 57.3 L184.3 57.5 L185.3 57.7 L186.3 57.9 L187.2 58.1 L188.3 58.3 L189.3 58.5 L190.4 58.7 L191.5 58.9 L192.6 59.2 L193.8 59.5 L195 59.8 L196.2 60.1 L197.5 60.4 L198.8 60.7 L200.2 61.1 L201.6 61.4 L203.1 61.9 L204.6 62.3 L206.2 62.7 L207.9 63.1 L209.6 63.6 L211.5 64.2 L213.4 65.1 L213.6 65.3 L213.8 65.4 L214 65.6 L214.2 65.7 L214.4 65.8 L214.6 66 L214.8 66.1 L215 66.3 L215.2 66.4 L215.4 66.5 L215.6 66.7 L215.8 66.8 L216 66.9 L216.2 67 L216.4 67.1 L216.6 67.2 L216.8 67.3 L217 67.4 L217.3 67.5 L217.5 67.6 L217.7 67.7 L217.9 67.8 L218.1 67.9 L218.4 68 L218.6 68.1 L218.8 68.2 L219 68.3 L219.3 68.4 L219.5 68.5 L219.7 68.6 L219.9 68.7 L220.2 68.8 L220.4 68.9 L220.6 69 L220.9 69.2 L221.1 69.3 L221.4 69.4 L221.6 69.5 L221.8 69.6 L222.1 69.7 L222.3 69.9 L222.6 70 L222.8 70.1 L223.1 70.3 L223.3 70.4 L223.6 70.6 L223.8 70.7 L224.1 70.8 L224.4 71 L224.6 71.1 L224.9 71.3 L225.1 71.5 L225.4 71.6 L225.7 71.8 L225.9 71.9 L226.2 72.1 L226.5 72.3 L226.8 72.4 L227 72.6 L227.3 72.8 L227.6 72.9 L227.9 73.1 L228.2 73.3 L228.4 73.5 L228.7 73.7 L229 73.9 L229.3 74 L229.6 74.2 L229.9 74.4 L230.2 74.6 L230.5 74.8 L230.8 75 L231.1 75.2 L231.4 75.5 L231.7 75.7 L232.1 75.9 L232.4 76.1 L232.7 76.3 L233 76.5 L233.3 76.8 L233.7 77 L234 77.2 L234.3 77.4 L234.7 77.6 L235 77.9 L235.3 78.1 L235.7 78.3 L236 78.6 L236.4 78.8 L236.7 79.1 L237.1 79.3 L237.5 79.6 L237.8 79.8 L238.2 80 L238.6 80.3 L238.9 80.5 L239.3 80.8 L239.7 81 L240.1 81.2 L240.5 81.5 L240.9 81.7 L241.3 81.9 L241.7 82.2 L242.1 82.4 L242.5 82.6 L242.9 82.8 L243.3 83.1 L243.7 83.3 L244.2 83.5 L244.6 83.7 L245 84 L245.5 84.2 L245.9 84.5 L246.4 84.7 L246.8 85 L247.3 85.2 L247.8 85.4 L248.2 85.6 L248.7 85.8 L249.2 86 L249.7 86.1 L250.2 86.2 L250.7 86.4 L251.2 86.5 L251.7 86.6 L252.2 86.7 L252.8 86.8 L253.3 86.9 L253.9 87 L254.4 87.1 L255 87.1 L255.6 87.2 L256.1 87.2 L256.7 87.3 L257.3 87.3 L257.9 87.3 L258.5 87.3 L259.2 87.2 L259.8 87.1 L260.4 86.9 L261.1 86.7 L261.8 86.5 L262.5 86.3 L263.1 86.1 L263.8 85.8 L264.6 85.6 L265.3 85.3 L266 85 L266.8 84.6 L267.6 84.2 L268.4 83.8 L269.2 83.3 L270 82.9 L270.8 82.4 L271.7 82 L272.6 81.5 L273.5 81.1 L274.4 80.7 L275.3 80.2 L276.3 79.8 L277.3 79.3 L278.3 78.9 L279.4 78.3 L280.4 77.8 L281.5 77.2 L282.7 76.5 L283.8 75.8 L285 75.1 L286.3 74.3 L287.6 73.4 L288.9 72.4 L290.3 71.3 L291.7 70.2 L293.1 69.1 L294.7 67.9 L296.3 66.5 L297.9 64.9 L299.7 63 L301.5 61 L303.4 59.1 L305.4 57.1 L307.5 55.2 L309.8 53.5 L312.1 52.1 L314.7 50.5 L317.4 49.3 L320.3 50 L323.4 52.2 L326.8 56.6 L330.5 59.2 L334.6 59.2 L339.2 54 L344.5 46.2 L350.5 50.5 L357.6 52.4" stroke-width="0.5" stroke-dasharray="2.4 2.4"/>
<path d="M148.1 53.3 L148.9 52.6 L149.6 51.8 L150.4 51.1 L151.1 50.6 L151.9 50.6 L152.6 50.7 L153.4 50.7 L154.1 50.8 L154.9 50.8 L155.6 50.9 L156.4 50.9 L157.1 51 L157.9 51.1 L158.6 51.1 L159.4 51.2 L160.1 51.3 L160.9 51.3 L161.6 51.4 L162.4 51.5 L163.1 51.6 L163.9 51.7 L164.6 51.7 L165.4 51.8 L166.1 51.9 L166.9 52 L167.6 52.1 L168.4 52.2 L169.1 52.9 L169.9 53.7 L170.6 54.4 L170.6 56.1 L169.9 56.8 L169.1 57.6 L168.4 58.3 L167.6 58.2 L166.9 58.1 L166.1 58 L165.4 57.9 L164.6 57.8 L163.9 57.8 L163.1 57.7 L162.4 57.6 L161.6 57.5 L160.9 57.4 L160.1 57.4 L159.4 57.3 L158.6 57.2 L157.9 57.2 L157.1 57.1 L156.4 57 L155.6 57 L154.9 56.9 L154.1 56.9 L153.4 56.8 L152.6 56.8 L151.9 56.7 L151.1 56.7 L150.4 56.2 L149.6 55.5 L148.9 54.7 L148.1 54Z" fill="#808080" stroke="none" fill-opacity="0.92"/>
<path d="M210.9 64.9 L211.6 64.3 L212.4 63.5 L213.1 62.8 L213.9 62.4 L214.6 63 L215.4 63.5 L216.1 63.9 L216.9 64.3 L217.6 64.6 L218.4 65 L219.1 65.3 L219.9 65.6 L220.6 66 L221.4 66.3 L222.1 66.7 L222.9 67.1 L223.6 67.5 L224.4 67.9 L225.1 68.4 L225.9 68.8 L226.6 69.3 L227.4 69.8 L228.1 70.2 L228.9 70.7 L229.6 71.2 L230.4 71.7 L231.1 72.2 L231.9 72.7 L232.6 73.2 L233.4 73.7 L234.1 74.2 L234.9 74.7 L235.6 75.2 L236.4 75.8 L237.1 76.3 L237.9 76.8 L238.6 77.3 L239.4 77.8 L240.1 78.2 L240.9 78.7 L241.6 79.1 L242.4 79.5 L243.1 79.9 L243.9 80.3 L244.6 80.7 L245.4 81.1 L246.1 81.5 L246.9 81.9 L247.6 82.3 L248.4 82.6 L249.1 82.9 L249.9 83.1 L250.6 83.3 L251.4 83.4 L252.1 83.6 L252.9 83.7 L253.6 83.9 L254.4 84 L255.1 84.1 L255.9 84.2 L256.6 84.2 L257.4 84.2 L258.1 84.2 L258.9 84.2 L259.6 84 L260.4 83.9 L261.1 83.7 L261.9 83.4 L262.6 83.2 L263.4 82.9 L264.1 82.7 L264.9 82.4 L265.6 82.1 L266.4 81.8 L267.1 81.4 L267.9 81 L268.6 80.6 L269.4 80.2 L270.1 79.8 L270.9 79.3 L271.6 78.9 L272.4 78.6 L273.1 78.2 L273.9 77.9 L274.6 77.5 L275.4 77.2 L276.1 76.8 L276.9 76.5 L277.6 76.7 L278.4 77.4 L279.1 78.2 L279.9 78.9 L279.9 79.8 L279.1 80.5 L278.4 81.3 L277.6 82 L276.9 82.6 L276.1 82.9 L275.4 83.3 L274.6 83.6 L273.9 84 L273.1 84.3 L272.4 84.7 L271.6 85 L270.9 85.4 L270.1 85.9 L269.4 86.3 L268.6 86.7 L267.9 87.1 L267.1 87.5 L266.4 87.9 L265.6 88.2 L264.9 88.5 L264.1 88.8 L263.4 89 L262.6 89.3 L261.9 89.5 L261.1 89.8 L260.4 90 L259.6 90.1 L258.9 90.3 L258.1 90.3 L257.4 90.3 L256.6 90.3 L255.9 90.3 L255.1 90.2 L254.4 90.1 L253.6 90 L252.9 89.8 L252.1 89.7 L251.4 89.5 L250.6 89.4 L249.9 89.2 L249.1 89 L248.4 88.7 L247.6 88.4 L246.9 88 L246.1 87.6 L245.4 87.2 L244.6 86.8 L243.9 86.4 L243.1 86 L242.4 85.6 L241.6 85.2 L240.9 84.8 L240.1 84.3 L239.4 83.9 L238.6 83.4 L237.9 82.9 L237.1 82.4 L236.4 81.9 L235.6 81.3 L234.9 80.8 L234.1 80.3 L233.4 79.8 L232.6 79.3 L231.9 78.8 L231.1 78.3 L230.4 77.8 L229.6 77.3 L228.9 76.8 L228.1 76.3 L227.4 75.9 L226.6 75.4 L225.9 74.9 L225.1 74.5 L224.4 74 L223.6 73.6 L222.9 73.2 L222.1 72.8 L221.4 72.4 L220.6 72.1 L219.9 71.7 L219.1 71.4 L218.4 71.1 L217.6 70.7 L216.9 70.4 L216.1 70 L215.4 69.6 L214.6 69.1 L213.9 68.5 L213.1 67.9 L212.4 67.1 L211.6 66.4 L210.9 65.6Z" fill="#808080" stroke="none" fill-opacity="0.92"/>
<path d="M87.5 49.9l-2.7 2.7l2.7 2.7l2.7 -2.7zM89.5 49.9l-2.7 2.7l2.7 2.7l2.7 -2.7zM91.6 49.9l-2.7 2.7l2.7 2.7l2.7 -2.7zM93.8 49.9l-2.7 2.7l2.7 2.7l2.7 -2.7zM96.2 49.9l-2.7 2.7l2.7 2.7l2.7 -2.7zM98.7 49.9l-2.7 2.7l2.7 2.7l2.7 -2.7zM101.4 50l-2.7 2.7l2.7 2.7l2.7 -2.7zM104.3 50l-2.7 2.7l2.7 2.7l2.7 -2.7zM107.5 50l-2.7 2.7l2.7 2.7l2.7 -2.7zM110.9 50.1l-2.7 2.7l2.7 2.7l2.7 -2.7zM114.6 50.1l-2.7 2.7l2.7 2.7l2.7 -2.7zM118.7 50.2l-2.7 2.7l2.7 2.7l2.7 -2.7zM123.3 50.2l-2.7 2.7l2.7 2.7l2.7 -2.7zM128.5 50.3l-2.7 2.7l2.7 2.7l2.7 -2.7zM134.6 50.4l-2.7 2.7l2.7 2.7l2.7 -2.7zM141.7 50.6l-2.7 2.7l2.7 2.7l2.7 -2.7zM150.4 50.9l-2.7 2.7l2.7 2.7l2.7 -2.7zM150.8 50.9l-2.7 2.7l2.7 2.7l2.7 -2.7zM151.2 51l-2.7 2.7l2.7 2.7l2.7 -2.7zM151.6 51l-2.7 2.7l2.7 2.7l2.7 -2.7zM152 51l-2.7 2.7l2.7 2.7l2.7 -2.7zM152.4 51l-2.7 2.7l2.7 2.7l2.7 -2.7zM152.8 51l-2.7 2.7l2.7 2.7l2.7 -2.7zM153.3 51.1l-2.7 2.7l2.7 2.7l2.7 -2.7zM153.7 51.1l-2.7 2.7l2.7 2.7l2.7 -2.7zM154.1 51.1l-2.7 2.7l2.7 2.7l2.7 -2.7zM154.5 51.2l-2.7 2.7l2.7 2.7l2.7 -2.7zM155 51.2l-2.7 2.7l2.7 2.7l2.7 -2.7zM155.4 51.2l-2.7 2.7l2.7 2.7l2.7 -2.7zM155.9 51.3l-2.7 2.7l2.7 2.7l2.7 -2.7zM156.3 51.3l-2.7 2.7l2.7 2.7l2.7 -2.7zM156.8 51.3l-2.7 2.7l2.7 2.7l2.7 -2.7zM157.2 51.4l-2.7 2.7l2.7 2.7l2.7 -2.7zM157.7 51.4l-2.7 2.7l2.7 2.7l2.7 -2.7zM158.2 51.4l-2.7 2.7l2.7 2.7l2.7 -2.7zM158.7 51.5l-2.7 2.7l2.7 2.7l2.7 -2.7zM159.1 51.5l-2.7 2.7l2.7 2.7l2.7 -2.7zM159.6 51.6l-2.7 2.7l2.7 2.7l2.7 -2.7zM160.1 51.6l-2.7 2.7l2.7 2.7l2.7 -2.7zM160.6 51.7l-2.7 2.7l2.7 2.7l2.7 -2.7zM161.2 51.7l-2.7 2.7l2.7 2.7l2.7 -2.7zM161.7 51.8l-2.7 2.7l2.7 2.7l2.7 -2.7zM162.2 51.8l-2.7 2.7l2.7 2.7l2.7 -2.7zM162.7 51.9l-2.7 2.7l2.7 2.7l2.7 -2.7zM163.3 51.9l-2.7 2.7l2.7 2.7l2.7 -2.7zM163.8 52l-2.7 2.7l2.7 2.7l2.7 -2.7zM164.4 52.1l-2.7 2.7l2.7 2.7l2.7 -2.7zM164.9 52.1l-2.7 2.7l2.7 2.7l2.7 -2.7zM165.5 52.2l-2.7 2.7l2.7 2.7l2.7 -2.7zM166.1 52.3l-2.7 2.7l2.7 2.7l2.7 -2.7zM166.7 52.3l-2.7 2.7l2.7 2.7l2.7 -2.7zM167.3 52.4l-2.7 2.7l2.7 2.7l2.7 -2.7zM167.9 52.5l-2.7 2.7l2.7 2.7l2.7 -2.7zM168.5 52.6l-2.7 2.7l2.7 2.7l2.7 -2.7zM169.1 52.6l-2.7 2.7l2.7 2.7l2.7 -2.7zM169.7 52.7l-2.7 2.7l2.7 2.7l2.7 -2.7zM170.4 52.8l-2.7 2.7l2.7 2.7l2.7 -2.7zM171.1 52.9l-2.7 2.7l2.7 2.7l2.7 -2.7zM171.7 53l-2.7 2.7l2.7 2.7l2.7 -2.7zM172.4 53.1l-2.7 2.7l2.7 2.7l2.7 -2.7zM173.1 53.1l-2.7 2.7l2.7 2.7l2.7 -2.7zM173.8 53.2l-2.7 2.7l2.7 2.7l2.7 -2.7zM174.5 53.3l-2.7 2.7l2.7 2.7l2.7 -2.7zM175.2 53.4l-2.7 2.7l2.7 2.7l2.7 -2.7zM176 53.5l-2.7 2.7l2.7 2.7l2.7 -2.7zM176.8 53.6l-2.7 2.7l2.7 2.7l2.7 -2.7zM177.5 53.7l-2.7 2.7l2.7 2.7l2.7 -2.7zM178.3 53.8l-2.7 2.7l2.7 2.7l2.7 -2.7zM179.1 54l-2.7 2.7l2.7 2.7l2.7 -2.7zM179.9 54.1l-2.7 2.7l2.7 2.7l2.7 -2.7zM180.8 54.2l-2.7 2.7l2.7 2.7l2.7 -2.7zM181.6 54.3l-2.7 2.7l2.7 2.7l2.7 -2.7zM182.5 54.5l-2.7 2.7l2.7 2.7l2.7 -2.7zM183.4 54.6l-2.7 2.7l2.7 2.7l2.7 -2.7zM184.3 54.8l-2.7 2.7l2.7 2.7l2.7 -2.7zM185.3 55l-2.7 2.7l2.7 2.7l2.7 -2.7zM186.3 55.2l-2.7 2.7l2.7 2.7l2.7 -2.7zM187.2 55.4l-2.7 2.7l2.7 2.7l2.7 -2.7zM188.3 55.6l-2.7 2.7l2.7 2.7l2.7 -2.7zM189.3 55.8l-2.7 2.7l2.7 2.7l2.7 -2.7zM190.4 56l-2.7 2.7l2.7 2.7l2.7 -2.7zM191.5 56.2l-2.7 2.7l2.7 2.7l2.7 -2.7zM192.6 56.5l-2.7 2.7l2.7 2.7l2.7 -2.7zM193.8 56.8l-2.7 2.7l2.7 2.7l2.7 -2.7zM195 57.1l-2.7 2.7l2.7 2.7l2.7 -2.7zM196.2 57.4l-2.7 2.7l2.7 2.7l2.7 -2.7zM197.5 57.7l-2.7 2.7l2.7 2.7l2.7 -2.7zM198.8 58l-2.7 2.7l2.7 2.7l2.7 -2.7zM200.2 58.4l-2.7 2.7l2.7 2.7l2.7 -2.7zM201.6 58.7l-2.7 2.7l2.7 2.7l2.7 -2.7zM203.1 59.2l-2.7 2.7l2.7 2.7l2.7 -2.7zM204.6 59.6l-2.7 2.7l2.7 2.7l2.7 -2.7zM206.2 60l-2.7 2.7l2.7 2.7l2.7 -2.7zM207.9 60.4l-2.7 2.7l2.7 2.7l2.7 -2.7zM209.6 60.9l-2.7 2.7l2.7 2.7l2.7 -2.7zM211.5 61.5l-2.7 2.7l2.7 2.7l2.7 -2.7zM213.4 62.4l-2.7 2.7l2.7 2.7l2.7 -2.7zM213.8 62.7l-2.7 2.7l2.7 2.7l2.7 -2.7zM214.2 63l-2.7 2.7l2.7 2.7l2.7 -2.7zM214.6 63.3l-2.7 2.7l2.7 2.7l2.7 -2.7zM215 63.6l-2.7 2.7l2.7 2.7l2.7 -2.7zM215.4 63.8l-2.7 2.7l2.7 2.7l2.7 -2.7zM215.8 64.1l-2.7 2.7l2.7 2.7l2.7 -2.7zM216.2 64.3l-2.7 2.7l2.7 2.7l2.7 -2.7zM216.6 64.5l-2.7 2.7l2.7 2.7l2.7 -2.7zM217 64.7l-2.7 2.7l2.7 2.7l2.7 -2.7zM217.5 64.9l-2.7 2.7l2.7 2.7l2.7 -2.7zM217.9 65.1l-2.7 2.7l2.7 2.7l2.7 -2.7zM218.4 65.3l-2.7 2.7l2.7 2.7l2.7 -2.7zM218.8 65.5l-2.7 2.7l2.7 2.7l2.7 -2.7zM219.3 65.7l-2.7 2.7l2.7 2.7l2.7 -2.7zM219.7 65.9l-2.7 2.7l2.7 2.7l2.7 -2.7zM220.2 66.1l-2.7 2.7l2.7 2.7l2.7 -2.7zM220.6 66.3l-2.7 2.7l2.7 2.7l2.7 -2.7zM221.1 66.6l-2.7 2.7l2.7 2.7l2.7 -2.7zM221.6 66.8l-2.7 2.7l2.7 2.7l2.7 -2.7zM222.1 67l-2.7 2.7l2.7 2.7l2.7 -2.7zM222.6 67.3l-2.7 2.7l2.7 2.7l2.7 -2.7zM223.1 67.6l-2.7 2.7l2.7 2.7l2.7 -2.7zM223.6 67.9l-2.7 2.7l2.7 2.7l2.7 -2.7zM224.1 68.1l-2.7 2.7l2.7 2.7l2.7 -2.7zM224.6 68.4l-2.7 2.7l2.7 2.7l2.7 -2.7zM225.1 68.8l-2.7 2.7l2.7 2.7l2.7 -2.7zM225.7 69.1l-2.7 2.7l2.7 2.7l2.7 -2.7zM226.2 69.4l-2.7 2.7l2.7 2.7l2.7 -2.7zM226.8 69.7l-2.7 2.7l2.7 2.7l2.7 -2.7zM227.3 70.1l-2.7 2.7l2.7 2.7l2.7 -2.7zM227.9 70.4l-2.7 2.7l2.7 2.7l2.7 -2.7zM228.4 70.8l-2.7 2.7l2.7 2.7l2.7 -2.7zM229 71.2l-2.7 2.7l2.7 2.7l2.7 -2.7zM229.6 71.5l-2.7 2.7l2.7 2.7l2.7 -2.7zM230.2 71.9l-2.7 2.7l2.7 2.7l2.7 -2.7zM230.8 72.3l-2.7 2.7l2.7 2.7l2.7 -2.7zM231.4 72.8l-2.7 2.7l2.7 2.7l2.7 -2.7zM232.1 73.2l-2.7 2.7l2.7 2.7l2.7 -2.7zM232.7 73.6l-2.7 2.7l2.7 2.7l2.7 -2.7zM233.3 74.1l-2.7 2.7l2.7 2.7l2.7 -2.7zM234 74.5l-2.7 2.7l2.7 2.7l2.7 -2.7zM234.7 74.9l-2.7 2.7l2.7 2.7l2.7 -2.7zM235.3 75.4l-2.7 2.7l2.7 2.7l2.7 -2.7zM236 75.9l-2.7 2.7l2.7 2.7l2.7 -2.7zM236.4 76.1l-2.7 2.7l2.7 2.7l2.7 -2.7zM236.7 76.4l-2.7 2.7l2.7 2.7l2.7 -2.7zM237.1 76.6l-2.7 2.7l2.7 2.7l2.7 -2.7zM237.5 76.9l-2.7 2.7l2.7 2.7l2.7 -2.7zM237.8 77.1l-2.7 2.7l2.7 2.7l2.7 -2.7zM238.2 77.3l-2.7 2.7l2.7 2.7l2.7 -2.7zM238.6 77.6l-2.7 2.7l2.7 2.7l2.7 -2.7zM238.9 77.8l-2.7 2.7l2.7 2.7l2.7 -2.7zM239.3 78.1l-2.7 2.7l2.7 2.7l2.7 -2.7zM239.7 78.3l-2.7 2.7l2.7 2.7l2.7 -2.7zM240.1 78.5l-2.7 2.7l2.7 2.7l2.7 -2.7zM240.5 78.8l-2.7 2.7l2.7 2.7l2.7 -2.7zM240.9 79l-2.7 2.7l2.7 2.7l2.7 -2.7zM241.3 79.2l-2.7 2.7l2.7 2.7l2.7 -2.7zM241.7 79.5l-2.7 2.7l2.7 2.7l2.7 -2.7zM242.1 79.7l-2.7 2.7l2.7 2.7l2.7 -2.7zM242.5 79.9l-2.7 2.7l2.7 2.7l2.7 -2.7zM242.9 80.1l-2.7 2.7l2.7 2.7l2.7 -2.7zM243.3 80.4l-2.7 2.7l2.7 2.7l2.7 -2.7zM243.7 80.6l-2.7 2.7l2.7 2.7l2.7 -2.7zM244.2 80.8l-2.7 2.7l2.7 2.7l2.7 -2.7zM244.6 81l-2.7 2.7l2.7 2.7l2.7 -2.7zM245 81.3l-2.7 2.7l2.7 2.7l2.7 -2.7zM245.5 81.5l-2.7 2.7l2.7 2.7l2.7 -2.7zM245.9 81.8l-2.7 2.7l2.7 2.7l2.7 -2.7zM246.4 82l-2.7 2.7l2.7 2.7l2.7 -2.7zM246.8 82.3l-2.7 2.7l2.7 2.7l2.7 -2.7zM247.3 82.5l-2.7 2.7l2.7 2.7l2.7 -2.7zM247.8 82.7l-2.7 2.7l2.7 2.7l2.7 -2.7zM248.2 82.9l-2.7 2.7l2.7 2.7l2.7 -2.7zM248.7 83.1l-2.7 2.7l2.7 2.7l2.7 -2.7zM249.2 83.3l-2.7 2.7l2.7 2.7l2.7 -2.7zM249.7 83.4l-2.7 2.7l2.7 2.7l2.7 -2.7zM250.2 83.5l-2.7 2.7l2.7 2.7l2.7 -2.7zM250.7 83.7l-2.7 2.7l2.7 2.7l2.7 -2.7zM251.2 83.8l-2.7 2.7l2.7 2.7l2.7 -2.7zM251.7 83.9l-2.7 2.7l2.7 2.7l2.7 -2.7zM252.2 84l-2.7 2.7l2.7 2.7l2.7 -2.7zM252.8 84.1l-2.7 2.7l2.7 2.7l2.7 -2.7zM253.3 84.2l-2.7 2.7l2.7 2.7l2.7 -2.7zM253.9 84.3l-2.7 2.7l2.7 2.7l2.7 -2.7zM254.4 84.4l-2.7 2.7l2.7 2.7l2.7 -2.7zM255 84.4l-2.7 2.7l2.7 2.7l2.7 -2.7zM255.6 84.5l-2.7 2.7l2.7 2.7l2.7 -2.7zM256.1 84.5l-2.7 2.7l2.7 2.7l2.7 -2.7zM256.7 84.6l-2.7 2.7l2.7 2.7l2.7 -2.7zM257.3 84.6l-2.7 2.7l2.7 2.7l2.7 -2.7zM257.9 84.6l-2.7 2.7l2.7 2.7l2.7 -2.7zM258.5 84.6l-2.7 2.7l2.7 2.7l2.7 -2.7zM259.2 84.5l-2.7 2.7l2.7 2.7l2.7 -2.7zM259.8 84.4l-2.7 2.7l2.7 2.7l2.7 -2.7zM260.4 84.2l-2.7 2.7l2.7 2.7l2.7 -2.7zM261.1 84l-2.7 2.7l2.7 2.7l2.7 -2.7zM261.8 83.8l-2.7 2.7l2.7 2.7l2.7 -2.7zM262.5 83.6l-2.7 2.7l2.7 2.7l2.7 -2.7zM263.1 83.4l-2.7 2.7l2.7 2.7l2.7 -2.7zM263.8 83.1l-2.7 2.7l2.7 2.7l2.7 -2.7zM264.6 82.9l-2.7 2.7l2.7 2.7l2.7 -2.7zM265.3 82.6l-2.7 2.7l2.7 2.7l2.7 -2.7zM266 82.3l-2.7 2.7l2.7 2.7l2.7 -2.7zM266.8 81.9l-2.7 2.7l2.7 2.7l2.7 -2.7zM267.6 81.5l-2.7 2.7l2.7 2.7l2.7 -2.7zM268.4 81.1l-2.7 2.7l2.7 2.7l2.7 -2.7zM269.2 80.6l-2.7 2.7l2.7 2.7l2.7 -2.7zM270 80.2l-2.7 2.7l2.7 2.7l2.7 -2.7zM270.8 79.7l-2.7 2.7l2.7 2.7l2.7 -2.7zM271.7 79.3l-2.7 2.7l2.7 2.7l2.7 -2.7zM272.6 78.8l-2.7 2.7l2.7 2.7l2.7 -2.7zM273.5 78.4l-2.7 2.7l2.7 2.7l2.7 -2.7zM274.4 78l-2.7 2.7l2.7 2.7l2.7 -2.7zM275.3 77.5l-2.7 2.7l2.7 2.7l2.7 -2.7zM276.3 77.1l-2.7 2.7l2.7 2.7l2.7 -2.7zM277.3 76.6l-2.7 2.7l2.7 2.7l2.7 -2.7zM278.3 76.2l-2.7 2.7l2.7 2.7l2.7 -2.7zM279.4 75.6l-2.7 2.7l2.7 2.7l2.7 -2.7zM280.4 75.1l-2.7 2.7l2.7 2.7l2.7 -2.7zM281.5 74.5l-2.7 2.7l2.7 2.7l2.7 -2.7zM282.7 73.8l-2.7 2.7l2.7 2.7l2.7 -2.7zM283.8 73.1l-2.7 2.7l2.7 2.7l2.7 -2.7zM285 72.4l-2.7 2.7l2.7 2.7l2.7 -2.7zM286.3 71.6l-2.7 2.7l2.7 2.7l2.7 -2.7zM287.6 70.7l-2.7 2.7l2.7 2.7l2.7 -2.7zM288.9 69.7l-2.7 2.7l2.7 2.7l2.7 -2.7zM290.3 68.6l-2.7 2.7l2.7 2.7l2.7 -2.7zM291.7 67.5l-2.7 2.7l2.7 2.7l2.7 -2.7zM293.1 66.4l-2.7 2.7l2.7 2.7l2.7 -2.7zM294.7 65.2l-2.7 2.7l2.7 2.7l2.7 -2.7zM296.3 63.8l-2.7 2.7l2.7 2.7l2.7 -2.7zM297.9 62.2l-2.7 2.7l2.7 2.7l2.7 -2.7zM299.7 60.3l-2.7 2.7l2.7 2.7l2.7 -2.7zM301.5 58.3l-2.7 2.7l2.7 2.7l2.7 -2.7zM303.4 56.4l-2.7 2.7l2.7 2.7l2.7 -2.7zM305.4 54.4l-2.7 2.7l2.7 2.7l2.7 -2.7zM307.5 52.5l-2.7 2.7l2.7 2.7l2.7 -2.7zM309.8 50.8l-2.7 2.7l2.7 2.7l2.7 -2.7zM312.1 49.4l-2.7 2.7l2.7 2.7l2.7 -2.7zM314.7 47.8l-2.7 2.7l2.7 2.7l2.7 -2.7zM317.4 46.6l-2.7 2.7l2.7 2.7l2.7 -2.7zM320.3 47.3l-2.7 2.7l2.7 2.7l2.7 -2.7zM323.4 49.5l-2.7 2.7l2.7 2.7l2.7 -2.7zM326.8 53.9l-2.7 2.7l2.7 2.7l2.7 -2.7zM330.5 56.5l-2.7 2.7l2.7 2.7l2.7 -2.7zM334.6 56.5l-2.7 2.7l2.7 2.7l2.7 -2.7zM339.2 51.3l-2.7 2.7l2.7 2.7l2.7 -2.7zM344.5 43.5l-2.7 2.7l2.7 2.7l2.7 -2.7zM350.5 47.8l-2.7 2.7l2.7 2.7l2.7 -2.7zM357.6 49.7l-2.7 2.7l2.7 2.7l2.7 -2.7z" stroke-width="1.0"/>
<path d="M87.5 52.6h0M89.5 52.6h0M91.6 52.6h0M93.8 52.6h0M96.2 52.6h0M98.7 52.6h0M101.4 52.7h0M104.3 52.7h0M107.5 52.7h0M110.9 52.8h0M114.6 52.8h0M118.7 52.9h0M123.3 52.9h0M128.5 53h0M134.6 53.1h0M141.7 53.3h0M150.4 53.6h0M150.8 53.6h0M151.2 53.7h0M151.6 53.7h0M152 53.7h0M152.4 53.7h0M152.8 53.7h0M153.3 53.8h0M153.7 53.8h0M154.1 53.8h0M154.5 53.9h0M155 53.9h0M155.4 53.9h0M155.9 54h0M156.3 54h0M156.8 54h0M157.2 54.1h0M157.7 54.1h0M158.2 54.1h0M158.7 54.2h0M159.1 54.2h0M159.6 54.3h0M160.1 54.3h0M160.6 54.4h0M161.2 54.4h0M161.7 54.5h0M162.2 54.5h0M162.7 54.6h0M163.3 54.6h0M163.8 54.7h0M164.4 54.8h0M164.9 54.8h0M165.5 54.9h0M166.1 55h0M166.7 55h0M167.3 55.1h0M167.9 55.2h0M168.5 55.3h0M169.1 55.3h0M169.7 55.4h0M170.4 55.5h0M171.1 55.6h0M171.7 55.7h0M172.4 55.8h0M173.1 55.8h0M173.8 55.9h0M174.5 56h0M175.2 56.1h0M176 56.2h0M176.8 56.3h0M177.5 56.4h0M178.3 56.5h0M179.1 56.7h0M179.9 56.8h0M180.8 56.9h0M181.6 57h0M182.5 57.2h0M183.4 57.3h0M184.3 57.5h0M185.3 57.7h0M186.3 57.9h0M187.2 58.1h0M188.3 58.3h0M189.3 58.5h0M190.4 58.7h0M191.5 58.9h0M192.6 59.2h0M193.8 59.5h0M195 59.8h0M196.2 60.1h0M197.5 60.4h0M198.8 60.7h0M200.2 61.1h0M201.6 61.4h0M203.1 61.9h0M204.6 62.3h0M206.2 62.7h0M207.9 63.1h0M209.6 63.6h0M211.5 64.2h0M213.4 65.1h0M213.8 65.4h0M214.2 65.7h0M214.6 66h0M215 66.3h0M215.4 66.5h0M215.8 66.8h0M216.2 67h0M216.6 67.2h0M217 67.4h0M217.5 67.6h0M217.9 67.8h0M218.4 68h0M218.8 68.2h0M219.3 68.4h0M219.7 68.6h0M220.2 68.8h0M220.6 69h0M221.1 69.3h0M221.6 69.5h0M222.1 69.7h0M222.6 70h0M223.1 70.3h0M223.6 70.6h0M224.1 70.8h0M224.6 71.1h0M225.1 71.5h0M225.7 71.8h0M226.2 72.1h0M226.8 72.4h0M227.3 72.8h0M227.9 73.1h0M228.4 73.5h0M229 73.9h0M229.6 74.2h0M230.2 74.6h0M230.8 75h0M231.4 75.5h0M232.1 75.9h0M232.7 76.3h0M233.3 76.8h0M234 77.2h0M234.7 77.6h0M235.3 78.1h0M236 78.6h0M236.4 78.8h0M236.7 79.1h0M237.1 79.3h0M237.5 79.6h0M237.8 79.8h0M238.2 80h0M238.6 80.3h0M238.9 80.5h0M239.3 80.8h0M239.7 81h0M240.1 81.2h0M240.5 81.5h0M240.9 81.7h0M241.3 81.9h0M241.7 82.2h0M242.1 82.4h0M242.5 82.6h0M242.9 82.8h0M243.3 83.1h0M243.7 83.3h0M244.2 83.5h0M244.6 83.7h0M245 84h0M245.5 84.2h0M245.9 84.5h0M246.4 84.7h0M246.8 85h0M247.3 85.2h0M247.8 85.4h0M248.2 85.6h0M248.7 85.8h0M249.2 86h0M249.7 86.1h0M250.2 86.2h0M250.7 86.4h0M251.2 86.5h0M251.7 86.6h0M252.2 86.7h0M252.8 86.8h0M253.3 86.9h0M253.9 87h0M254.4 87.1h0M255 87.1h0M255.6 87.2h0M256.1 87.2h0M256.7 87.3h0M257.3 87.3h0M257.9 87.3h0M258.5 87.3h0M259.2 87.2h0M259.8 87.1h0M260.4 86.9h0M261.1 86.7h0M261.8 86.5h0M262.5 86.3h0M263.1 86.1h0M263.8 85.8h0M264.6 85.6h0M265.3 85.3h0M266 85h0M266.8 84.6h0M267.6 84.2h0M268.4 83.8h0M269.2 83.3h0M270 82.9h0M270.8 82.4h0M271.7 82h0M272.6 81.5h0M273.5 81.1h0M274.4 80.7h0M275.3 80.2h0M276.3 79.8h0M277.3 79.3h0M278.3 78.9h0M279.4 78.3h0M280.4 77.8h0M281.5 77.2h0M282.7 76.5h0M283.8 75.8h0M285 75.1h0M286.3 74.3h0M287.6 73.4h0M288.9 72.4h0M290.3 71.3h0M291.7 70.2h0M293.1 69.1h0M294.7 67.9h0M296.3 66.5h0M297.9 64.9h0M299.7 63h0M301.5 61h0M303.4 59.1h0M305.4 57.1h0M307.5 55.2h0M309.8 53.5h0M312.1 52.1h0M314.7 50.5h0M317.4 49.3h0M320.3 50h0M323.4 52.2h0M326.8 56.6h0M330.5 59.2h0M334.6 59.2h0M339.2 54h0M344.5 46.2h0M350.5 50.5h0M357.6 52.4h0" stroke-width="1.0" stroke-linecap="round"/>
</g>
<g stroke="#ff0000" fill="none">
<path clip-path="url(#c)" d="M87.5 46.8 L89.5 46.8 L91.6 46.9 L93.8 46.9 L96.2 47 L98.7 47 L101.4 47 L104.3 47.1 L107.5 47.2 L110.9 47.2 L114.6 47.3 L118.7 47.4 L123.3 47.4 L128.5 47.6 L134.6 47.7 L141.7 47.9 L150.4 48.2 L150.8 48.2 L151.2 48.3 L151.6 48.3 L152 48.3 L152.4 48.3 L152.8 48.3 L153.3 48.4 L153.7 48.4 L154.1 48.4 L154.5 48.4 L155 48.5 L155.4 48.5 L155.9 48.5 L156.3 48.6 L156.8 48.6 L157.2 48.6 L157.7 48.7 L158.2 48.7 L158.7 48.7 L159.1 48.8 L159.6 48.8 L160.1 48.9 L160.6 48.9 L161.2 48.9 L161.7 49 L162.2 49 L162.7 49.1 L163.3 49.1 L163.8 49.2 L164.4 49.2 L164.9 49.3 L165.5 49.4 L166.1 49.4 L166.7 49.5 L167.3 49.6 L167.9 49.6 L168.5 49.7 L169.1 49.8 L169.7 49.9 L170.4 50 L171.1 50.1 L171.7 50.2 L172.4 50.3 L173.1 50.4 L173.8 50.5 L174.5 50.6 L175.2 50.8 L176 50.9 L176.8 51 L177.5 51.1 L178.3 51.2 L179.1 51.4 L179.9 51.5 L180.8 51.6 L181.6 51.7 L182.5 51.9 L183.4 52 L184.3 52.2 L185.3 52.3 L186.3 52.5 L187.2 52.7 L188.3 52.9 L189.3 53.1 L190.4 53.3 L191.5 53.6 L192.6 53.9 L193.8 54.2 L195 54.5 L196.2 54.8 L197.5 55.2 L198.8 55.5 L200.2 55.9 L201.6 56.2 L203.1 56.6 L204.6 57 L206.2 57.4 L207.9 57.9 L209.6 58.4 L211.5 59 L213.4 59.6 L213.6 59.7 L213.8 59.8 L214 59.9 L214.2 59.9 L214.4 60 L214.6 60.1 L214.8 60.2 L215 60.3 L215.2 60.3 L215.4 60.4 L215.6 60.5 L215.8 60.6 L216 60.7 L216.2 60.8 L216.4 60.9 L216.6 61 L216.8 61.1 L217 61.2 L217.3 61.3 L217.5 61.4 L217.7 61.5 L217.9 61.6 L218.1 61.7 L218.4 61.8 L218.6 61.9 L218.8 62 L219 62.1 L219.3 62.3 L219.5 62.4 L219.7 62.5 L219.9 62.6 L220.2 62.7 L220.4 62.9 L220.6 63 L220.9 63.1 L221.1 63.2 L221.4 63.4 L221.6 63.5 L221.8 63.6 L222.1 63.7 L222.3 63.9 L222.6 64 L222.8 64.2 L223.1 64.3 L223.3 64.4 L223.6 64.6 L223.8 64.7 L224.1 64.8 L224.4 65 L224.6 65.1 L224.9 65.3 L225.1 65.4 L225.4 65.6 L225.7 65.7 L225.9 65.9 L226.2 66 L226.5 66.2 L226.8 66.3 L227 66.5 L227.3 66.6 L227.6 66.8 L227.9 66.9 L228.2 67.1 L228.4 67.2 L228.7 67.4 L229 67.6 L229.3 67.7 L229.6 67.9 L229.9 68.1 L230.2 68.2 L230.5 68.4 L230.8 68.6 L231.1 68.7 L231.4 68.9 L231.7 69.1 L232.1 69.3 L232.4 69.5 L232.7 69.7 L233 69.9 L233.3 70.1 L233.7 70.3 L234 70.5 L234.3 70.7 L234.7 70.9 L235 71.2 L235.3 71.4 L235.7 71.7 L236 72 L236.4 72.2 L236.7 72.5 L237.1 72.8 L237.5 73 L237.8 73.3 L238.2 73.6 L238.6 73.9 L238.9 74.1 L239.3 74.4 L239.7 74.6 L240.1 74.8 L240.5 75.1 L240.9 75.3 L241.3 75.5 L241.7 75.8 L242.1 76 L242.5 76.2 L242.9 76.4 L243.3 76.6 L243.7 76.8 L244.2 77 L244.6 77.2 L245 77.3 L245.5 77.5 L245.9 77.6 L246.4 77.8 L246.8 77.9 L247.3 78.1 L247.8 78.2 L248.2 78.4 L248.7 78.5 L249.2 78.6 L249.7 78.7 L250.2 78.8 L250.7 78.8 L251.2 78.8 L251.7 78.8 L252.2 78.8 L252.8 78.8 L253.3 78.7 L253.9 78.7 L254.4 78.6 L255 78.6 L255.6 78.5 L256.1 78.4 L256.7 78.4 L257.3 78.3 L257.9 78.2 L258.5 78.1 L259.2 78 L259.8 77.8 L260.4 77.6 L261.1 77.3 L261.8 77 L262.5 76.7 L263.1 76.4 L263.8 76.1 L264.6 75.8 L265.3 75.5 L266 75.1 L266.8 74.7 L267.6 74.3 L268.4 73.9 L269.2 73.5 L270 73 L270.8 72.6 L271.7 72.1 L272.6 71.7 L273.5 71.3 L274.4 70.9 L275.3 70.5 L276.3 70.1 L277.3 69.7 L278.3 69.3 L279.4 68.9 L280.4 68.6 L281.5 68.3 L282.7 68 L283.8 67.7 L285 67.3 L286.3 66.9 L287.6 66.4 L288.9 65.8 L290.3 65.2 L291.7 64.5 L293.1 63.6 L294.7 62.4 L296.3 61 L297.9 59.4 L299.7 57.9 L301.5 56.2 L303.4 54.3 L305.4 52.1 L307.5 50 L309.8 48.1 L312.1 46.3 L314.7 44.8 L317.4 43.5 L320.3 44 L323.4 46.5 L326.8 51.8 L330.5 54.8 L334.6 54 L339.2 48.9 L344.5 41.2 L350.5 45.8 L357.6 44.8 L359.5 41.1 L362 38 L364.5 38.6 L365.7 46.6 L368.2 47.9 L370.7 45.4 L372.5 39.2 L375.2 36.1 L378 34" stroke-width="0.5"/>
<path d="M148.1 47.9 L148.9 47.2 L149.6 46.4 L150.4 45.7 L151.1 45.2 L151.9 45.2 L152.6 45.3 L153.4 45.3 L154.1 45.4 L154.9 45.4 L155.6 45.5 L156.4 45.5 L157.1 45.6 L157.9 45.6 L158.6 45.7 L159.4 45.7 L160.1 45.8 L160.9 45.9 L161.6 45.9 L162.4 46 L163.1 46.1 L163.9 46.1 L164.6 46.2 L165.4 46.3 L166.1 46.4 L166.9 46.5 L167.6 46.5 L168.4 46.6 L169.1 47.3 L169.9 48.1 L170.6 48.8 L170.6 50.6 L169.9 51.3 L169.1 52.1 L168.4 52.7 L167.6 52.6 L166.9 52.6 L166.1 52.5 L165.4 52.4 L164.6 52.3 L163.9 52.2 L163.1 52.2 L162.4 52.1 L161.6 52 L160.9 52 L160.1 51.9 L159.4 51.8 L158.6 51.8 L157.9 51.7 L157.1 51.7 L156.4 51.6 L155.6 51.6 L154.9 51.5 L154.1 51.5 L153.4 51.4 L152.6 51.4 L151.9 51.3 L151.1 51.3 L150.4 50.8 L149.6 50.1 L148.9 49.3 L148.1 48.6Z" fill="#ff0000" stroke="none" fill-opacity="0.92"/>
<path d="M210.9 59.4 L211.6 58.7 L212.4 57.9 L213.1 57.2 L213.9 56.8 L214.6 57.1 L215.4 57.4 L216.1 57.7 L216.9 58 L217.6 58.4 L218.4 58.8 L219.1 59.1 L219.9 59.5 L220.6 59.9 L221.4 60.3 L222.1 60.7 L222.9 61.1 L223.6 61.5 L224.4 61.9 L225.1 62.4 L225.9 62.8 L226.6 63.2 L227.4 63.6 L228.1 64 L228.9 64.4 L229.6 64.8 L230.4 65.3 L231.1 65.7 L231.9 66.1 L232.6 66.6 L233.4 67 L234.1 67.5 L234.9 68 L235.6 68.6 L236.4 69.1 L237.1 69.7 L237.9 70.3 L238.6 70.8 L239.4 71.4 L240.1 71.8 L240.9 72.2 L241.6 72.7 L242.4 73.1 L243.1 73.5 L243.9 73.8 L244.6 74.1 L245.4 74.4 L246.1 74.6 L246.9 74.9 L247.6 75.1 L248.4 75.4 L249.1 75.5 L249.9 75.7 L250.6 75.7 L251.4 75.7 L252.1 75.7 L252.9 75.7 L253.6 75.6 L254.4 75.6 L255.1 75.5 L255.9 75.4 L256.6 75.3 L257.4 75.2 L258.1 75.1 L258.9 75 L259.6 74.8 L260.4 74.5 L261.1 74.3 L261.9 74 L262.6 73.6 L263.4 73.3 L264.1 72.9 L264.9 72.6 L265.6 72.3 L266.4 71.9 L267.1 71.5 L267.9 71.1 L268.6 70.7 L269.4 70.3 L270.1 69.9 L270.9 69.5 L271.6 69.1 L272.4 68.8 L273.1 68.4 L273.9 68.1 L274.6 67.8 L275.4 67.4 L276.1 67.1 L276.9 66.8 L277.6 67.1 L278.4 67.7 L279.1 68.5 L279.9 69.2 L279.9 70.2 L279.1 70.9 L278.4 71.6 L277.6 72.4 L276.9 72.9 L276.1 73.2 L275.4 73.5 L274.6 73.9 L273.9 74.2 L273.1 74.5 L272.4 74.9 L271.6 75.2 L270.9 75.6 L270.1 76 L269.4 76.4 L268.6 76.8 L267.9 77.2 L267.1 77.6 L266.4 78 L265.6 78.4 L264.9 78.7 L264.1 79 L263.4 79.4 L262.6 79.7 L261.9 80.1 L261.1 80.4 L260.4 80.6 L259.6 80.9 L258.9 81.1 L258.1 81.2 L257.4 81.3 L256.6 81.4 L255.9 81.5 L255.1 81.6 L254.4 81.7 L253.6 81.7 L252.9 81.8 L252.1 81.8 L251.4 81.8 L250.6 81.8 L249.9 81.8 L249.1 81.6 L248.4 81.5 L247.6 81.2 L246.9 81 L246.1 80.7 L245.4 80.5 L244.6 80.2 L243.9 79.9 L243.1 79.6 L242.4 79.2 L241.6 78.8 L240.9 78.3 L240.1 77.9 L239.4 77.5 L238.6 76.9 L237.9 76.4 L237.1 75.8 L236.4 75.2 L235.6 74.7 L234.9 74.1 L234.1 73.6 L233.4 73.1 L232.6 72.7 L231.9 72.2 L231.1 71.8 L230.4 71.4 L229.6 70.9 L228.9 70.5 L228.1 70.1 L227.4 69.7 L226.6 69.3 L225.9 68.9 L225.1 68.5 L224.4 68 L223.6 67.6 L222.9 67.2 L222.1 66.8 L221.4 66.4 L220.6 66 L219.9 65.6 L219.1 65.2 L218.4 64.9 L217.6 64.5 L216.9 64.1 L216.1 63.8 L215.4 63.5 L214.6 63.2 L213.9 62.9 L213.1 62.2 L212.4 61.5 L211.6 60.8 L210.9 60.1Z" fill="#ff0000" stroke="none" fill-opacity="0.92"/>
<path d="M87.5 44.1l-2.7 2.7l2.7 2.7l2.7 -2.7zM89.5 44.1l-2.7 2.7l2.7 2.7l2.7 -2.7zM91.6 44.2l-2.7 2.7l2.7 2.7l2.7 -2.7zM93.8 44.2l-2.7 2.7l2.7 2.7l2.7 -2.7zM96.2 44.3l-2.7 2.7l2.7 2.7l2.7 -2.7zM98.7 44.3l-2.7 2.7l2.7 2.7l2.7 -2.7zM101.4 44.3l-2.7 2.7l2.7 2.7l2.7 -2.7zM104.3 44.4l-2.7 2.7l2.7 2.7l2.7 -2.7zM107.5 44.5l-2.7 2.7l2.7 2.7l2.7 -2.7zM110.9 44.5l-2.7 2.7l2.7 2.7l2.7 -2.7zM114.6 44.6l-2.7 2.7l2.7 2.7l2.7 -2.7zM118.7 44.7l-2.7 2.7l2.7 2.7l2.7 -2.7zM123.3 44.7l-2.7 2.7l2.7 2.7l2.7 -2.7zM128.5 44.9l-2.7 2.7l2.7 2.7l2.7 -2.7zM134.6 45l-2.7 2.7l2.7 2.7l2.7 -2.7zM141.7 45.2l-2.7 2.7l2.7 2.7l2.7 -2.7zM150.4 45.5l-2.7 2.7l2.7 2.7l2.7 -2.7zM150.8 45.5l-2.7 2.7l2.7 2.7l2.7 -2.7zM151.2 45.6l-2.7 2.7l2.7 2.7l2.7 -2.7zM151.6 45.6l-2.7 2.7l2.7 2.7l2.7 -2.7zM152 45.6l-2.7 2.7l2.7 2.7l2.7 -2.7zM152.4 45.6l-2.7 2.7l2.7 2.7l2.7 -2.7zM152.8 45.6l-2.7 2.7l2.7 2.7l2.7 -2.7zM153.3 45.7l-2.7 2.7l2.7 2.7l2.7 -2.7zM153.7 45.7l-2.7 2.7l2.7 2.7l2.7 -2.7zM154.1 45.7l-2.7 2.7l2.7 2.7l2.7 -2.7zM154.5 45.7l-2.7 2.7l2.7 2.7l2.7 -2.7zM155 45.8l-2.7 2.7l2.7 2.7l2.7 -2.7zM155.4 45.8l-2.7 2.7l2.7 2.7l2.7 -2.7zM155.9 45.8l-2.7 2.7l2.7 2.7l2.7 -2.7zM156.3 45.9l-2.7 2.7l2.7 2.7l2.7 -2.7zM156.8 45.9l-2.7 2.7l2.7 2.7l2.7 -2.7zM157.2 45.9l-2.7 2.7l2.7 2.7l2.7 -2.7zM157.7 46l-2.7 2.7l2.7 2.7l2.7 -2.7zM158.2 46l-2.7 2.7l2.7 2.7l2.7 -2.7zM158.7 46l-2.7 2.7l2.7 2.7l2.7 -2.7zM159.1 46.1l-2.7 2.7l2.7 2.7l2.7 -2.7zM159.6 46.1l-2.7 2.7l2.7 2.7l2.7 -2.7zM160.1 46.2l-2.7 2.7l2.7 2.7l2.7 -2.7zM160.6 46.2l-2.7 2.7l2.7 2.7l2.7 -2.7zM161.2 46.2l-2.7 2.7l2.7 2.7l2.7 -2.7zM161.7 46.3l-2.7 2.7l2.7 2.7l2.7 -2.7zM162.2 46.3l-2.7 2.7l2.7 2.7l2.7 -2.7zM162.7 46.4l-2.7 2.7l2.7 2.7l2.7 -2.7zM163.3 46.4l-2.7 2.7l2.7 2.7l2.7 -2.7zM163.8 46.5l-2.7 2.7l2.7 2.7l2.7 -2.7zM164.4 46.5l-2.7 2.7l2.7 2.7l2.7 -2.7zM164.9 46.6l-2.7 2.7l2.7 2.7l2.7 -2.7zM165.5 46.7l-2.7 2.7l2.7 2.7l2.7 -2.7zM166.1 46.7l-2.7 2.7l2.7 2.7l2.7 -2.7zM166.7 46.8l-2.7 2.7l2.7 2.7l2.7 -2.7zM167.3 46.9l-2.7 2.7l2.7 2.7l2.7 -2.7zM167.9 46.9l-2.7 2.7l2.7 2.7l2.7 -2.7zM168.5 47l-2.7 2.7l2.7 2.7l2.7 -2.7zM169.1 47.1l-2.7 2.7l2.7 2.7l2.7 -2.7zM169.7 47.2l-2.7 2.7l2.7 2.7l2.7 -2.7zM170.4 47.3l-2.7 2.7l2.7 2.7l2.7 -2.7zM171.1 47.4l-2.7 2.7l2.7 2.7l2.7 -2.7zM171.7 47.5l-2.7 2.7l2.7 2.7l2.7 -2.7zM172.4 47.6l-2.7 2.7l2.7 2.7l2.7 -2.7zM173.1 47.7l-2.7 2.7l2.7 2.7l2.7 -2.7zM173.8 47.8l-2.7 2.7l2.7 2.7l2.7 -2.7zM174.5 47.9l-2.7 2.7l2.7 2.7l2.7 -2.7zM175.2 48.1l-2.7 2.7l2.7 2.7l2.7 -2.7zM176 48.2l-2.7 2.7l2.7 2.7l2.7 -2.7zM176.8 48.3l-2.7 2.7l2.7 2.7l2.7 -2.7zM177.5 48.4l-2.7 2.7l2.7 2.7l2.7 -2.7zM178.3 48.5l-2.7 2.7l2.7 2.7l2.7 -2.7zM179.1 48.7l-2.7 2.7l2.7 2.7l2.7 -2.7zM179.9 48.8l-2.7 2.7l2.7 2.7l2.7 -2.7zM180.8 48.9l-2.7 2.7l2.7 2.7l2.7 -2.7zM181.6 49l-2.7 2.7l2.7 2.7l2.7 -2.7zM182.5 49.2l-2.7 2.7l2.7 2.7l2.7 -2.7zM183.4 49.3l-2.7 2.7l2.7 2.7l2.7 -2.7zM184.3 49.5l-2.7 2.7l2.7 2.7l2.7 -2.7zM185.3 49.6l-2.7 2.7l2.7 2.7l2.7 -2.7zM186.3 49.8l-2.7 2.7l2.7 2.7l2.7 -2.7zM187.2 50l-2.7 2.7l2.7 2.7l2.7 -2.7zM188.3 50.2l-2.7 2.7l2.7 2.7l2.7 -2.7zM189.3 50.4l-2.7 2.7l2.7 2.7l2.7 -2.7zM190.4 50.6l-2.7 2.7l2.7 2.7l2.7 -2.7zM191.5 50.9l-2.7 2.7l2.7 2.7l2.7 -2.7zM192.6 51.2l-2.7 2.7l2.7 2.7l2.7 -2.7zM193.8 51.5l-2.7 2.7l2.7 2.7l2.7 -2.7zM195 51.8l-2.7 2.7l2.7 2.7l2.7 -2.7zM196.2 52.1l-2.7 2.7l2.7 2.7l2.7 -2.7zM197.5 52.5l-2.7 2.7l2.7 2.7l2.7 -2.7zM198.8 52.8l-2.7 2.7l2.7 2.7l2.7 -2.7zM200.2 53.2l-2.7 2.7l2.7 2.7l2.7 -2.7zM201.6 53.5l-2.7 2.7l2.7 2.7l2.7 -2.7zM203.1 53.9l-2.7 2.7l2.7 2.7l2.7 -2.7zM204.6 54.3l-2.7 2.7l2.7 2.7l2.7 -2.7zM206.2 54.7l-2.7 2.7l2.7 2.7l2.7 -2.7zM207.9 55.2l-2.7 2.7l2.7 2.7l2.7 -2.7zM209.6 55.7l-2.7 2.7l2.7 2.7l2.7 -2.7zM211.5 56.3l-2.7 2.7l2.7 2.7l2.7 -2.7zM213.4 56.9l-2.7 2.7l2.7 2.7l2.7 -2.7zM213.8 57.1l-2.7 2.7l2.7 2.7l2.7 -2.7zM214.2 57.2l-2.7 2.7l2.7 2.7l2.7 -2.7zM214.6 57.4l-2.7 2.7l2.7 2.7l2.7 -2.7zM215 57.6l-2.7 2.7l2.7 2.7l2.7 -2.7zM215.4 57.7l-2.7 2.7l2.7 2.7l2.7 -2.7zM215.8 57.9l-2.7 2.7l2.7 2.7l2.7 -2.7zM216.2 58.1l-2.7 2.7l2.7 2.7l2.7 -2.7zM216.6 58.3l-2.7 2.7l2.7 2.7l2.7 -2.7zM217 58.5l-2.7 2.7l2.7 2.7l2.7 -2.7zM217.5 58.7l-2.7 2.7l2.7 2.7l2.7 -2.7zM217.9 58.9l-2.7 2.7l2.7 2.7l2.7 -2.7zM218.4 59.1l-2.7 2.7l2.7 2.7l2.7 -2.7zM218.8 59.3l-2.7 2.7l2.7 2.7l2.7 -2.7zM219.3 59.6l-2.7 2.7l2.7 2.7l2.7 -2.7zM219.7 59.8l-2.7 2.7l2.7 2.7l2.7 -2.7zM220.2 60l-2.7 2.7l2.7 2.7l2.7 -2.7zM220.6 60.3l-2.7 2.7l2.7 2.7l2.7 -2.7zM221.1 60.5l-2.7 2.7l2.7 2.7l2.7 -2.7zM221.6 60.8l-2.7 2.7l2.7 2.7l2.7 -2.7zM222.1 61l-2.7 2.7l2.7 2.7l2.7 -2.7zM222.6 61.3l-2.7 2.7l2.7 2.7l2.7 -2.7zM223.1 61.6l-2.7 2.7l2.7 2.7l2.7 -2.7zM223.6 61.9l-2.7 2.7l2.7 2.7l2.7 -2.7zM224.1 62.1l-2.7 2.7l2.7 2.7l2.7 -2.7zM224.6 62.4l-2.7 2.7l2.7 2.7l2.7 -2.7zM225.1 62.7l-2.7 2.7l2.7 2.7l2.7 -2.7zM225.7 63l-2.7 2.7l2.7 2.7l2.7 -2.7zM226.2 63.3l-2.7 2.7l2.7 2.7l2.7 -2.7zM226.8 63.6l-2.7 2.7l2.7 2.7l2.7 -2.7zM227.3 63.9l-2.7 2.7l2.7 2.7l2.7 -2.7zM227.9 64.2l-2.7 2.7l2.7 2.7l2.7 -2.7zM228.4 64.5l-2.7 2.7l2.7 2.7l2.7 -2.7zM229 64.9l-2.7 2.7l2.7 2.7l2.7 -2.7zM229.6 65.2l-2.7 2.7l2.7 2.7l2.7 -2.7zM230.2 65.5l-2.7 2.7l2.7 2.7l2.7 -2.7zM230.8 65.9l-2.7 2.7l2.7 2.7l2.7 -2.7zM231.4 66.2l-2.7 2.7l2.7 2.7l2.7 -2.7zM232.1 66.6l-2.7 2.7l2.7 2.7l2.7 -2.7zM232.7 67l-2.7 2.7l2.7 2.7l2.7 -2.7zM233.3 67.4l-2.7 2.7l2.7 2.7l2.7 -2.7zM234 67.8l-2.7 2.7l2.7 2.7l2.7 -2.7zM234.7 68.2l-2.7 2.7l2.7 2.7l2.7 -2.7zM235.3 68.7l-2.7 2.7l2.7 2.7l2.7 -2.7zM236 69.3l-2.7 2.7l2.7 2.7l2.7 -2.7zM236.4 69.5l-2.7 2.7l2.7 2.7l2.7 -2.7zM236.7 69.8l-2.7 2.7l2.7 2.7l2.7 -2.7zM237.1 70.1l-2.7 2.7l2.7 2.7l2.7 -2.7zM237.5 70.3l-2.7 2.7l2.7 2.7l2.7 -2.7zM237.8 70.6l-2.7 2.7l2.7 2.7l2.7 -2.7zM238.2 70.9l-2.7 2.7l2.7 2.7l2.7 -2.7zM238.6 71.2l-2.7 2.7l2.7 2.7l2.7 -2.7zM238.9 71.4l-2.7 2.7l2.7 2.7l2.7 -2.7zM239.3 71.7l-2.7 2.7l2.7 2.7l2.7 -2.7zM239.7 71.9l-2.7 2.7l2.7 2.7l2.7 -2.7zM240.1 72.1l-2.7 2.7l2.7 2.7l2.7 -2.7zM240.5 72.4l-2.7 2.7l2.7 2.7l2.7 -2.7zM240.9 72.6l-2.7 2.7l2.7 2.7l2.7 -2.7zM241.3 72.8l-2.7 2.7l2.7 2.7l2.7 -2.7zM241.7 73.1l-2.7 2.7l2.7 2.7l2.7 -2.7zM242.1 73.3l-2.7 2.7l2.7 2.7l2.7 -2.7zM242.5 73.5l-2.7 2.7l2.7 2.7l2.7 -2.7zM242.9 73.7l-2.7 2.7l2.7 2.7l2.7 -2.7zM243.3 73.9l-2.7 2.7l2.7 2.7l2.7 -2.7zM243.7 74.1l-2.7 2.7l2.7 2.7l2.7 -2.7zM244.2 74.3l-2.7 2.7l2.7 2.7l2.7 -2.7zM244.6 74.5l-2.7 2.7l2.7 2.7l2.7 -2.7zM245 74.6l-2.7 2.7l2.7 2.7l2.7 -2.7zM245.5 74.8l-2.7 2.7l2.7 2.7l2.7 -2.7zM245.9 74.9l-2.7 2.7l2.7 2.7l2.7 -2.7zM246.4 75.1l-2.7 2.7l2.7 2.7l2.7 -2.7zM246.8 75.2l-2.7 2.7l2.7 2.7l2.7 -2.7zM247.3 75.4l-2.7 2.7l2.7 2.7l2.7 -2.7zM247.8 75.5l-2.7 2.7l2.7 2.7l2.7 -2.7zM248.2 75.7l-2.7 2.7l2.7 2.7l2.7 -2.7zM248.7 75.8l-2.7 2.7l2.7 2.7l2.7 -2.7zM249.2 75.9l-2.7 2.7l2.7 2.7l2.7 -2.7zM249.7 76l-2.7 2.7l2.7 2.7l2.7 -2.7zM250.2 76.1l-2.7 2.7l2.7 2.7l2.7 -2.7zM250.7 76.1l-2.7 2.7l2.7 2.7l2.7 -2.7zM251.2 76.1l-2.7 2.7l2.7 2.7l2.7 -2.7zM251.7 76.1l-2.7 2.7l2.7 2.7l2.7 -2.7zM252.2 76.1l-2.7 2.7l2.7 2.7l2.7 -2.7zM252.8 76.1l-2.7 2.7l2.7 2.7l2.7 -2.7zM253.3 76l-2.7 2.7l2.7 2.7l2.7 -2.7zM253.9 76l-2.7 2.7l2.7 2.7l2.7 -2.7zM254.4 75.9l-2.7 2.7l2.7 2.7l2.7 -2.7zM255 75.9l-2.7 2.7l2.7 2.7l2.7 -2.7zM255.6 75.8l-2.7 2.7l2.7 2.7l2.7 -2.7zM256.1 75.7l-2.7 2.7l2.7 2.7l2.7 -2.7zM256.7 75.7l-2.7 2.7l2.7 2.7l2.7 -2.7zM257.3 75.6l-2.7 2.7l2.7 2.7l2.7 -2.7zM257.9 75.5l-2.7 2.7l2.7 2.7l2.7 -2.7zM258.5 75.4l-2.7 2.7l2.7 2.7l2.7 -2.7zM259.2 75.3l-2.7 2.7l2.7 2.7l2.7 -2.7zM259.8 75.1l-2.7 2.7l2.7 2.7l2.7 -2.7zM260.4 74.9l-2.7 2.7l2.7 2.7l2.7 -2.7zM261.1 74.6l-2.7 2.7l2.7 2.7l2.7 -2.7zM261.8 74.3l-2.7 2.7l2.7 2.7l2.7 -2.7zM262.5 74l-2.7 2.7l2.7 2.7l2.7 -2.7zM263.1 73.7l-2.7 2.7l2.7 2.7l2.7 -2.7zM263.8 73.4l-2.7 2.7l2.7 2.7l2.7 -2.7zM264.6 73.1l-2.7 2.7l2.7 2.7l2.7 -2.7zM265.3 72.8l-2.7 2.7l2.7 2.7l2.7 -2.7zM266 72.4l-2.7 2.7l2.7 2.7l2.7 -2.7zM266.8 72l-2.7 2.7l2.7 2.7l2.7 -2.7zM267.6 71.6l-2.7 2.7l2.7 2.7l2.7 -2.7zM268.4 71.2l-2.7 2.7l2.7 2.7l2.7 -2.7zM269.2 70.8l-2.7 2.7l2.7 2.7l2.7 -2.7zM270 70.3l-2.7 2.7l2.7 2.7l2.7 -2.7zM270.8 69.9l-2.7 2.7l2.7 2.7l2.7 -2.7zM271.7 69.4l-2.7 2.7l2.7 2.7l2.7 -2.7zM272.6 69l-2.7 2.7l2.7 2.7l2.7 -2.7zM273.5 68.6l-2.7 2.7l2.7 2.7l2.7 -2.7zM274.4 68.2l-2.7 2.7l2.7 2.7l2.7 -2.7zM275.3 67.8l-2.7 2.7l2.7 2.7l2.7 -2.7zM276.3 67.4l-2.7 2.7l2.7 2.7l2.7 -2.7zM277.3 67l-2.7 2.7l2.7 2.7l2.7 -2.7zM278.3 66.6l-2.7 2.7l2.7 2.7l2.7 -2.7zM279.4 66.2l-2.7 2.7l2.7 2.7l2.7 -2.7zM280.4 65.9l-2.7 2.7l2.7 2.7l2.7 -2.7zM281.5 65.6l-2.7 2.7l2.7 2.7l2.7 -2.7zM282.7 65.3l-2.7 2.7l2.7 2.7l2.7 -2.7zM283.8 65l-2.7 2.7l2.7 2.7l2.7 -2.7zM285 64.6l-2.7 2.7l2.7 2.7l2.7 -2.7zM286.3 64.2l-2.7 2.7l2.7 2.7l2.7 -2.7zM287.6 63.7l-2.7 2.7l2.7 2.7l2.7 -2.7zM288.9 63.1l-2.7 2.7l2.7 2.7l2.7 -2.7zM290.3 62.5l-2.7 2.7l2.7 2.7l2.7 -2.7zM291.7 61.8l-2.7 2.7l2.7 2.7l2.7 -2.7zM293.1 60.9l-2.7 2.7l2.7 2.7l2.7 -2.7zM294.7 59.7l-2.7 2.7l2.7 2.7l2.7 -2.7zM296.3 58.3l-2.7 2.7l2.7 2.7l2.7 -2.7zM297.9 56.7l-2.7 2.7l2.7 2.7l2.7 -2.7zM299.7 55.2l-2.7 2.7l2.7 2.7l2.7 -2.7zM301.5 53.5l-2.7 2.7l2.7 2.7l2.7 -2.7zM303.4 51.6l-2.7 2.7l2.7 2.7l2.7 -2.7zM305.4 49.4l-2.7 2.7l2.7 2.7l2.7 -2.7zM307.5 47.3l-2.7 2.7l2.7 2.7l2.7 -2.7zM309.8 45.4l-2.7 2.7l2.7 2.7l2.7 -2.7zM312.1 43.6l-2.7 2.7l2.7 2.7l2.7 -2.7zM314.7 42.1l-2.7 2.7l2.7 2.7l2.7 -2.7zM317.4 40.8l-2.7 2.7l2.7 2.7l2.7 -2.7zM320.3 41.3l-2.7 2.7l2.7 2.7l2.7 -2.7zM323.4 43.8l-2.7 2.7l2.7 2.7l2.7 -2.7zM326.8 49.1l-2.7 2.7l2.7 2.7l2.7 -2.7zM330.5 52.1l-2.7 2.7l2.7 2.7l2.7 -2.7zM334.6 51.3l-2.7 2.7l2.7 2.7l2.7 -2.7zM339.2 46.2l-2.7 2.7l2.7 2.7l2.7 -2.7zM344.5 38.5l-2.7 2.7l2.7 2.7l2.7 -2.7zM350.5 43.1l-2.7 2.7l2.7 2.7l2.7 -2.7zM357.6 42.1l-2.7 2.7l2.7 2.7l2.7 -2.7zM359.5 38.4l-2.7 2.7l2.7 2.7l2.7 -2.7zM362 35.3l-2.7 2.7l2.7 2.7l2.7 -2.7zM364.5 35.9l-2.7 2.7l2.7 2.7l2.7 -2.7zM365.7 43.9l-2.7 2.7l2.7 2.7l2.7 -2.7zM368.2 45.2l-2.7 2.7l2.7 2.7l2.7 -2.7zM370.7 42.7l-2.7 2.7l2.7 2.7l2.7 -2.7zM372.5 36.5l-2.7 2.7l2.7 2.7l2.7 -2.7zM375.2 33.4l-2.7 2.7l2.7 2.7l2.7 -2.7z" fill="#ff0000" stroke-width="0.3"/>
</g>
<path d="M79 24.2H375.9V268.1H79ZM105.7 268.1v-6.9M105.7 24.2v6.9M132.8 268.1v-3.4M132.8 24.2v3.4M148.6 268.1v-3.4M148.6 24.2v3.4M159.9 268.1v-3.4M159.9 24.2v3.4M168.6 268.1v-3.4M168.6 24.2v3.4M175.7 268.1v-3.4M175.7 24.2v3.4M181.8 268.1v-3.4M181.8 24.2v3.4M187 268.1v-3.4M187 24.2v3.4M191.6 268.1v-3.4M191.6 24.2v3.4M195.7 268.1v-6.9M195.7 24.2v6.9M222.8 268.1v-3.4M222.8 24.2v3.4M238.7 268.1v-3.4M238.7 24.2v3.4M249.9 268.1v-3.4M249.9 24.2v3.4M258.6 268.1v-3.4M258.6 24.2v3.4M265.8 268.1v-3.4M265.8 24.2v3.4M271.8 268.1v-3.4M271.8 24.2v3.4M277 268.1v-3.4M277 24.2v3.4M281.6 268.1v-3.4M281.6 24.2v3.4M285.8 268.1v-6.9M285.8 24.2v6.9M312.9 268.1v-3.4M312.9 24.2v3.4M328.7 268.1v-3.4M328.7 24.2v3.4M340 268.1v-3.4M340 24.2v3.4M348.7 268.1v-3.4M348.7 24.2v3.4M355.8 268.1v-3.4M355.8 24.2v3.4M361.9 268.1v-3.4M361.9 24.2v3.4M367.1 268.1v-3.4M367.1 24.2v3.4M371.7 268.1v-3.4M371.7 24.2v3.4M79 159.8h6.9M375.9 159.8h-6.9M79 51.6h6.9M375.9 51.6h-6.9" fill="none" stroke="#000" stroke-width="1.6" stroke-linejoin="miter"/>
<g font-family="'Liberation Serif', serif" fill="#000" filter="url(#nf)">
<text x="67" y="273.4" font-size="19.5" text-anchor="end">0</text>
<text x="35.4" y="165.1" font-size="19.5" textLength="32" lengthAdjust="spacingAndGlyphs">100</text>
<text x="35.4" y="56.9" font-size="19.5" textLength="32" lengthAdjust="spacingAndGlyphs">200</text>
<text x="83.2" y="294" font-size="19.5" textLength="20.5" lengthAdjust="spacingAndGlyphs">10</text>
<path d="M106.6 281.5H115.8" stroke="#000" stroke-width="1" fill="none"/>
<text x="117.4" y="285.4" font-size="14.5">4</text>
<text x="173.3" y="294" font-size="19.5" textLength="20.5" lengthAdjust="spacingAndGlyphs">10</text>
<path d="M196.6 281.5H205.8" stroke="#000" stroke-width="1" fill="none"/>
<text x="207.4" y="285.4" font-size="14.5">3</text>
<text x="263.4" y="294" font-size="19.5" textLength="20.5" lengthAdjust="spacingAndGlyphs">10</text>
<path d="M286.6 281.5H295.9" stroke="#000" stroke-width="1" fill="none"/>
<text x="297.4" y="285.4" font-size="14.5">2</text>
<text x="353.4" y="294" font-size="19.5" textLength="20.5" lengthAdjust="spacingAndGlyphs">10</text>
<path d="M376.7 281.5H385.9" stroke="#000" stroke-width="1" fill="none"/>
<text x="387.5" y="285.4" font-size="14.5">1</text>
<text x="386.6" y="66.2" font-size="19.5" textLength="37.2" lengthAdjust="spacingAndGlyphs">0.65</text>
<text x="386.6" y="86.4" font-size="19.5" textLength="37.2" lengthAdjust="spacingAndGlyphs">1.00</text>
<text x="386.6" y="106.6" font-size="19.5" textLength="37.2" lengthAdjust="spacingAndGlyphs">1.25</text>
<text x="386.6" y="126.8" font-size="19.5" textLength="37.2" lengthAdjust="spacingAndGlyphs">1.50</text>
<text x="386.6" y="147" font-size="19.5" textLength="37.2" lengthAdjust="spacingAndGlyphs">1.75</text>
<text x="386.6" y="167.2" font-size="19.5" textLength="37.2" lengthAdjust="spacingAndGlyphs">2.00</text>
<text x="386.6" y="187.4" font-size="19.5" textLength="37.2" lengthAdjust="spacingAndGlyphs">2.25</text>
<text x="386.6" y="207.6" font-size="19.5" textLength="37.2" lengthAdjust="spacingAndGlyphs">2.50</text>
<text x="386.6" y="227.8" font-size="19.5" textLength="37.2" lengthAdjust="spacingAndGlyphs">2.75</text>
<text x="386.6" y="248" font-size="19.5" textLength="37.2" lengthAdjust="spacingAndGlyphs">3.00</text>
<text x="227" y="314" font-size="24" font-style="italic" text-anchor="middle">ω</text>
<g transform="translate(24.9,147.3) rotate(-90)"><text x="0" y="0" font-size="22.5" font-style="italic" text-anchor="middle">Q</text></g>
</g>
<path d="M9.7 135.6L20.3 131.1L31.2 135.6M9.7 156.7L20.3 161L31.2 156.7" fill="none" stroke="#000" stroke-width="0.9"/>
<g stroke="#ff0000" fill="none">
<path d="M435.9 61.6H453.9" stroke-width="0.6"/>
<path d="M442.1 61.6a2.5 2.5 0 1 0 5 0a2.5 2.5 0 1 0 -5 0" stroke-width="0.9"/>
<path d="M444.6 61.6h0" stroke-width="1.0" stroke-linecap="round"/>
</g>
<g stroke="#c080ff" fill="none">
<path d="M435.9 81.8H453.9" stroke-width="0.6" stroke-dasharray="4.5 1.8"/>
<path d="M441.9 81.8h5.4M444.6 79.1v5.4" stroke-width="0.9"/>
</g>
<g stroke="#006400" fill="none">
<path d="M435.9 102H453.9" stroke-width="0.6" stroke-dasharray="2.3 3.2"/>
<path d="M441.9 99.3l5.4 5.4M441.9 104.7l5.4 -5.4" stroke-width="1.0"/>
</g>
<g stroke="#ff00ff" fill="none">
<path d="M435.9 122.2H453.9" stroke-width="0.6" stroke-dasharray="0.9 2"/>
<path d="M441.9 122.2h5.4M444.6 119.5v5.4M441.9 119.5l5.4 5.4M441.9 124.9l5.4 -5.4" stroke-width="0.95"/>
</g>
<g stroke="#00ffff" fill="none">
<path d="M435.9 142.4H453.9" stroke-width="0.6"/>
<path d="M441.9 139.7h5.4v5.4h-5.4z" stroke-width="1.1"/>
<path d="M444.6 142.4h0" stroke-width="1.0" stroke-linecap="round"/>
</g>
<g stroke="#000000" fill="none">
<path d="M435.9 162.6H453.9" stroke-width="0.6" stroke-dasharray="3.6 2.5 8.8 3"/>
<path d="M442.1 162.6a2.5 2.5 0 1 0 5 0a2.5 2.5 0 1 0 -5 0" stroke-width="0.9"/>
<path d="M444.6 162.6h0" stroke-width="1.0" stroke-linecap="round"/>
</g>
<g stroke="#a52a2a" fill="none">
<path d="M435.9 182.8H453.9" stroke-width="0.6" stroke-dasharray="2.2 2.6"/>
<path d="M444.6 179.8l-2.7 4.4h5.4z" stroke-width="1.0"/>
<path d="M444.6 182.8h0" stroke-width="1.0" stroke-linecap="round"/>
</g>
<g stroke="#ff4500" fill="none">
<path d="M435.9 203H453.9" stroke-width="0.6" stroke-dasharray="0.8 1.2 0.8 2.6"/>
<path d="M444.6 206l-2.7 -4.4h5.4z" stroke-width="1.0"/>
<path d="M444.6 203h0" stroke-width="1.0" stroke-linecap="round"/>
</g>
<g stroke="#808080" fill="none">
<path d="M435.9 223.2H453.9" stroke-width="0.6" stroke-dasharray="2.4 2.4"/>
<path d="M444.6 220.5l-2.7 2.7l2.7 2.7l2.7 -2.7z" stroke-width="1.0"/>
<path d="M444.6 223.2h0" stroke-width="1.0" stroke-linecap="round"/>
</g>
<g stroke="#ff0000" fill="none">
<path d="M435.9 243.4H453.9" stroke-width="0.6"/>
<path d="M444.6 240.7l-2.7 2.7l2.7 2.7l2.7 -2.7z" fill="#ff0000" stroke-width="0.3"/>
</g>
</svg>
</body></html>
